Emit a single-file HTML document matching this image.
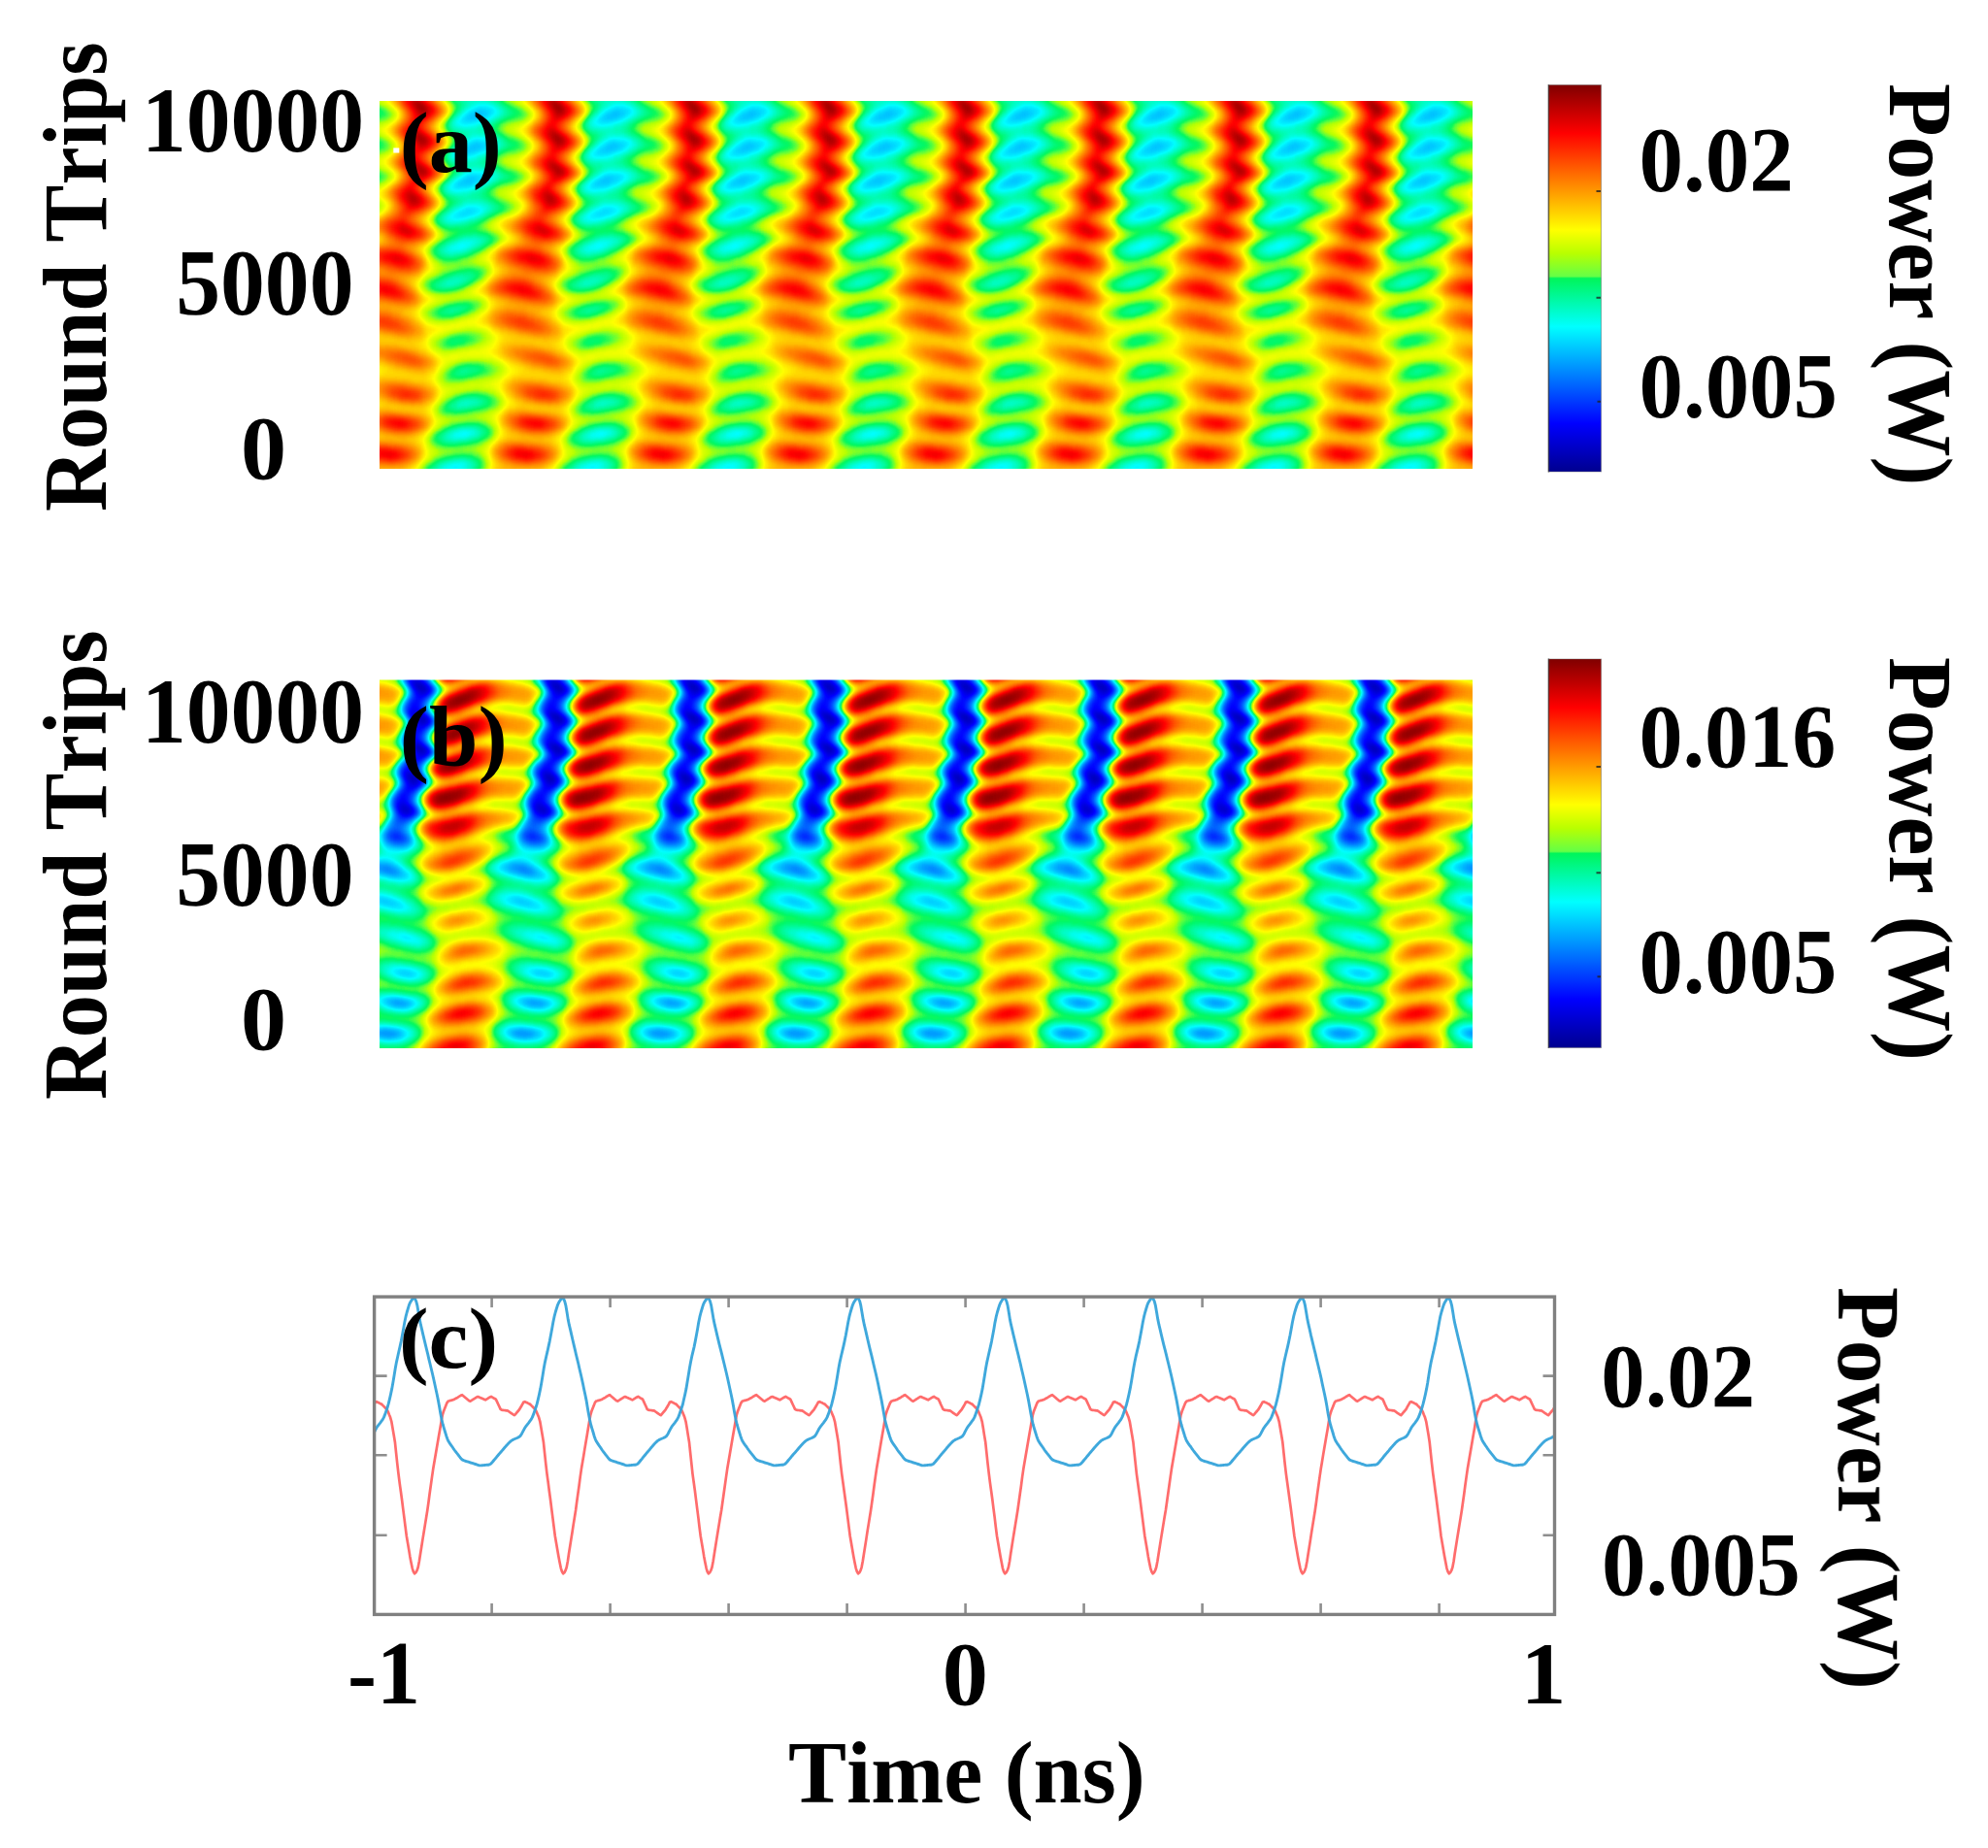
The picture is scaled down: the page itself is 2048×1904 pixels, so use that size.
<!DOCTYPE html>
<html><head><meta charset="utf-8"><title>Figure</title>
<style>html,body{margin:0;padding:0;background:#fff}svg{display:block}text{font-family:"Liberation Serif",serif;font-weight:bold;font-size:89px;font-kerning:none;fill:#000}</style>
</head><body>
<svg width="2048" height="1904" viewBox="0 0 2048 1904">
<defs>
<filter id="jet" color-interpolation-filters="sRGB" x="-2%" y="-5%" width="104%" height="110%">
<feGaussianBlur stdDeviation="2.2"/>
<feComponentTransfer><feFuncR type="table" tableValues="0 0 0 0 0 0 0 0 0 0 0 0 0 0 0 0 0 0 0 0 0 0 0 0 0 0 0 0 0 0 0 0 0 0 0 0 0 0 0 0 0.053 0.186 0.319 0.448 0.574 0.7 0.771 0.828 0.886 0.943 1 1 1 1 1 1 1 1 1 1 1 1 1 1 1 1 1 1 1 1 1 0.95 0.9 0.851 0.801 0.751 0.701 0.651 0.602 0.552 0.502"/><feFuncG type="table" tableValues="0 0 0 0 0 0 0 0 0 0 0 0.05 0.1 0.15 0.2 0.25 0.3 0.35 0.4 0.45 0.5 0.55 0.6 0.65 0.7 0.75 0.8 0.85 0.9 0.95 1 0.997 0.994 0.991 0.989 0.986 0.983 0.98 0.977 0.974 0.976 0.986 0.996 1 1 1 1 1 1 1 1 0.95 0.9 0.85 0.8 0.75 0.7 0.65 0.6 0.55 0.5 0.45 0.4 0.35 0.3 0.25 0.2 0.15 0.1 0.05 0 0 0 0 0 0 0 0 0 0 0"/><feFuncB type="table" tableValues="0.561 0.605 0.649 0.693 0.736 0.78 0.824 0.868 0.912 0.956 1 1 1 1 1 1 1 1 1 1 1 1 1 1 1 1 1 1 1 1 1 0.935 0.869 0.804 0.739 0.673 0.608 0.542 0.477 0.412 0.353 0.304 0.255 0.185 0.101 0.017 0 0 0 0 0 0 0 0 0 0 0 0 0 0 0 0 0 0 0 0 0 0 0 0 0 0 0 0 0 0 0 0 0 0 0"/></feComponentTransfer>
</filter>
<filter id="soft" x="-5%" y="-5%" width="110%" height="110%"><feGaussianBlur stdDeviation="0.55"/></filter>
<clipPath id="clipa"><rect x="391" y="104" width="1126" height="379"/></clipPath>
<clipPath id="clipb"><rect x="391" y="700.5" width="1126" height="379.5"/></clipPath>
<linearGradient id="cb" x1="0" y1="0" x2="0" y2="1"><stop offset="0.000" stop-color="rgb(128,0,0)"/><stop offset="0.125" stop-color="rgb(255,0,0)"/><stop offset="0.375" stop-color="rgb(255,255,0)"/><stop offset="0.435" stop-color="rgb(185,255,0)"/><stop offset="0.495" stop-color="rgb(100,255,70)"/><stop offset="0.500" stop-color="rgb(0,245,90)"/><stop offset="0.625" stop-color="rgb(0,255,255)"/><stop offset="0.875" stop-color="rgb(0,0,255)"/><stop offset="1.000" stop-color="rgb(0,0,143)"/></linearGradient>
<g id="ta">
<path fill="#4e4e4e" d="M112 24h4v4h-4z"/>
<path fill="#515151" d="M108 24h4v4h-4zM116 24h4v4h-4zM104 28h8v4h-8zM108 56h8v4h-8zM104 60h8v4h-8zM100 92h8v4h-8z"/>
<path fill="#535353" d="M112 20h8v4h-8zM104 24h4v4h-4zM120 24h4v4h-4zM100 28h4v4h-4zM112 28h4v4h-4zM104 56h4v4h-4zM116 56h4v4h-4zM100 60h4v4h-4zM112 60h4v4h-4zM104 88h8v4h-8zM96 92h4v4h-4zM108 92h4v4h-4zM92 96h16v4h-16z"/>
<path fill="#565656" d="M108 20h4v4h-4zM120 20h8v4h-8zM116 28h4v4h-4zM108 52h8v4h-8zM120 56h4v4h-4zM96 60h4v4h-4zM116 60h4v4h-4zM96 64h12v4h-12zM100 88h4v4h-4zM112 88h8v4h-8zM112 92h4v4h-4zM100 124h8v4h-8zM96 128h4v4h-4z"/>
<path fill="#595959" d="M100 24h4v4h-4zM124 24h4v4h-4zM96 28h4v4h-4zM96 32h12v4h-12zM116 52h8v4h-8zM100 56h4v4h-4zM92 64h4v4h-4zM108 64h4v4h-4zM92 92h4v4h-4zM116 92h4v4h-4zM88 96h4v4h-4zM108 96h4v4h-4zM92 100h4v4h-4zM96 124h4v4h-4zM108 124h4v4h-4zM92 128h4v4h-4zM100 128h4v4h-4z"/>
<path fill="#5b5b5b" d="M96 0h12v4h-12zM112 16h12v4h-12zM104 20h4v4h-4zM128 20h4v4h-4zM120 28h4v4h-4zM108 32h4v4h-4zM104 52h4v4h-4zM124 52h4v4h-4zM124 56h4v4h-4zM120 60h4v4h-4zM120 88h4v4h-4zM112 96h4v4h-4zM88 100h4v4h-4zM96 100h8v4h-8zM100 120h12v4h-12zM92 124h4v4h-4zM112 124h4v4h-4zM88 128h4v4h-4zM104 128h4v4h-4zM88 388h4v4h-4z"/>
<path fill="#5e5e5e" d="M108 0h8v4h-8zM124 16h4v4h-4zM128 24h4v4h-4zM92 32h4v4h-4zM112 32h4v4h-4zM96 56h4v4h-4zM92 60h4v4h-4zM88 64h4v4h-4zM112 64h4v4h-4zM92 68h12v4h-12zM104 84h16v4h-16zM96 88h4v4h-4zM120 92h4v4h-4zM84 100h4v4h-4zM104 100h4v4h-4zM112 120h4v4h-4zM84 128h4v4h-4zM108 128h4v4h-4zM88 132h8v4h-8zM92 160h8v4h-8zM96 352h8v4h-8zM84 388h4v4h-4zM92 388h4v4h-4z"/>
<path fill="#616161" d="M92 0h4v4h-4zM108 16h4v4h-4zM100 20h4v4h-4zM96 24h4v4h-4zM92 28h4v4h-4zM124 28h4v4h-4zM116 32h4v4h-4zM96 36h8v4h-8zM108 48h12v4h-12zM100 52h4v4h-4zM128 52h4v4h-4zM128 56h4v4h-4zM124 60h4v4h-4zM116 64h4v4h-4zM88 68h4v4h-4zM104 68h4v4h-4zM120 84h4v4h-4zM124 88h4v4h-4zM88 92h4v4h-4zM84 96h4v4h-4zM116 96h4v4h-4zM96 120h4v4h-4zM116 120h4v4h-4zM88 124h4v4h-4zM116 124h4v4h-4zM84 132h4v4h-4zM96 132h4v4h-4zM96 156h12v4h-12zM88 160h4v4h-4zM100 160h4v4h-4zM92 352h4v4h-4zM104 352h4v4h-4zM88 356h12v4h-12zM88 384h12v4h-12zM80 388h4v4h-4zM96 388h4v4h-4z"/>
<path fill="#636363" d="M116 0h4v4h-4zM100 4h4v4h-4zM128 16h4v4h-4zM132 20h4v4h-4zM132 24h4v4h-4zM88 32h4v4h-4zM92 36h4v4h-4zM104 36h8v4h-8zM120 48h4v4h-4zM108 68h4v4h-4zM100 84h4v4h-4zM124 84h4v4h-4zM124 92h4v4h-4zM108 100h4v4h-4zM88 104h8v4h-8zM112 128h4v4h-4zM80 132h4v4h-4zM100 132h4v4h-4zM92 156h4v4h-4zM84 160h4v4h-4zM84 164h12v4h-12zM88 352h4v4h-4zM100 356h4v4h-4zM84 384h4v4h-4zM76 388h4v4h-4zM84 392h4v4h-4z"/>
<path fill="#666666" d="M88 0h4v4h-4zM92 4h8v4h-8zM104 4h8v4h-8zM112 12h12v4h-12zM104 16h4v4h-4zM128 28h4v4h-4zM120 32h4v4h-4zM88 36h4v4h-4zM104 48h4v4h-4zM124 48h4v4h-4zM132 56h4v4h-4zM88 60h4v4h-4zM120 64h4v4h-4zM84 68h4v4h-4zM108 80h4v4h-4zM92 88h4v4h-4zM128 88h4v4h-4zM80 100h4v4h-4zM84 104h4v4h-4zM96 104h8v4h-8zM100 116h16v4h-16zM92 120h4v4h-4zM120 120h4v4h-4zM80 128h4v4h-4zM108 156h4v4h-4zM104 160h4v4h-4zM80 164h4v4h-4zM96 164h4v4h-4zM108 352h4v4h-4zM84 356h4v4h-4zM80 384h4v4h-4zM100 384h4v4h-4zM100 388h4v4h-4zM80 392h4v4h-4zM88 392h8v4h-8z"/>
<path fill="#696969" d="M120 0h4v4h-4zM112 4h4v4h-4zM108 12h4v4h-4zM124 12h4v4h-4zM132 16h4v4h-4zM136 20h4v4h-4zM88 28h4v4h-4zM112 36h4v4h-4zM108 44h4v4h-4zM96 52h4v4h-4zM132 52h4v4h-4zM92 56h4v4h-4zM128 60h4v4h-4zM84 64h4v4h-4zM112 68h4v4h-4zM92 72h16v4h-16zM104 80h4v4h-4zM112 80h8v4h-8zM96 84h4v4h-4zM128 84h4v4h-4zM80 96h4v4h-4zM120 96h4v4h-4zM112 100h4v4h-4zM116 116h4v4h-4zM84 124h4v4h-4zM120 124h4v4h-4zM104 132h4v4h-4zM84 136h8v4h-8zM100 152h12v4h-12zM88 156h4v4h-4zM112 156h4v4h-4zM80 160h4v4h-4zM100 320h4v4h-4zM96 348h12v4h-12zM84 352h4v4h-4zM80 356h4v4h-4zM104 356h4v4h-4zM72 388h4v4h-4zM76 392h4v4h-4z"/>
<path fill="#6b6b6b" d="M124 0h4v4h-4zM88 4h4v4h-4zM116 4h4v4h-4zM100 8h20v4h-20zM104 12h4v4h-4zM100 16h4v4h-4zM96 20h4v4h-4zM92 24h4v4h-4zM136 24h4v4h-4zM124 32h4v4h-4zM116 36h4v4h-4zM96 40h16v4h-16zM104 44h4v4h-4zM112 44h12v4h-12zM100 48h4v4h-4zM128 48h4v4h-4zM124 64h4v4h-4zM116 68h4v4h-4zM88 72h4v4h-4zM108 72h4v4h-4zM100 80h4v4h-4zM120 80h4v4h-4zM132 88h4v4h-4zM84 92h4v4h-4zM128 92h4v4h-4zM80 104h4v4h-4zM104 104h4v4h-4zM96 116h4v4h-4zM120 116h4v4h-4zM88 120h4v4h-4zM124 120h4v4h-4zM116 128h4v4h-4zM76 132h4v4h-4zM108 132h4v4h-4zM80 136h4v4h-4zM92 136h4v4h-4zM96 152h4v4h-4zM112 152h4v4h-4zM108 160h4v4h-4zM76 164h4v4h-4zM100 164h4v4h-4zM84 168h4v4h-4zM80 196h16v4h-16zM80 200h8v4h-8zM96 320h4v4h-4zM104 320h8v4h-8zM92 324h12v4h-12zM92 348h4v4h-4zM108 348h4v4h-4zM112 352h4v4h-4zM108 356h4v4h-4zM88 360h4v4h-4zM92 380h8v4h-8zM76 384h4v4h-4zM104 384h4v4h-4zM104 388h4v4h-4zM72 392h4v4h-4zM96 392h4v4h-4z"/>
<path fill="#6e6e6e" d="M120 4h4v4h-4zM96 8h4v4h-4zM120 8h4v4h-4zM100 12h4v4h-4zM128 12h4v4h-4zM132 28h4v4h-4zM84 32h4v4h-4zM84 36h4v4h-4zM120 36h4v4h-4zM88 40h8v4h-8zM112 40h8v4h-8zM100 44h4v4h-4zM136 52h4v4h-4zM136 56h4v4h-4zM132 60h4v4h-4zM84 72h4v4h-4zM112 72h4v4h-4zM100 76h16v4h-16zM124 80h4v4h-4zM132 84h4v4h-4zM88 88h4v4h-4zM116 100h4v4h-4zM108 104h4v4h-4zM92 108h12v4h-12zM100 112h16v4h-16zM124 124h4v4h-4zM76 128h4v4h-4zM96 136h4v4h-4zM116 152h4v4h-4zM84 156h4v4h-4zM116 156h4v4h-4zM80 168h4v4h-4zM88 168h4v4h-4zM88 192h12v4h-12zM96 196h4v4h-4zM76 200h4v4h-4zM88 200h4v4h-4zM92 320h4v4h-4zM112 320h4v4h-4zM104 324h4v4h-4zM80 352h4v4h-4zM80 360h8v4h-8zM92 360h8v4h-8zM88 380h4v4h-4zM100 380h4v4h-4zM100 392h4v4h-4z"/>
<path fill="#717171" d="M124 4h4v4h-4zM92 8h4v4h-4zM124 8h4v4h-4zM136 16h4v4h-4zM0 20h4v4h-4zM0 24h4v4h-4zM120 40h4v4h-4zM96 44h4v4h-4zM124 44h4v4h-4zM96 48h4v4h-4zM132 48h4v4h-4zM80 68h4v4h-4zM120 68h4v4h-4zM116 72h4v4h-4zM92 76h8v4h-8zM116 76h4v4h-4zM96 80h4v4h-4zM92 84h4v4h-4zM136 88h4v4h-4zM132 92h4v4h-4zM124 96h4v4h-4zM76 100h4v4h-4zM112 104h4v4h-4zM88 108h4v4h-4zM104 108h4v4h-4zM96 112h4v4h-4zM116 112h4v4h-4zM92 116h4v4h-4zM124 116h4v4h-4zM128 120h4v4h-4zM80 124h4v4h-4zM76 136h4v4h-4zM100 136h4v4h-4zM92 152h4v4h-4zM76 160h4v4h-4zM112 160h4v4h-4zM104 164h4v4h-4zM76 168h4v4h-4zM92 168h4v4h-4zM84 192h4v4h-4zM100 192h4v4h-4zM76 196h4v4h-4zM72 200h4v4h-4zM88 324h4v4h-4zM108 324h4v4h-4zM88 348h4v4h-4zM112 348h4v4h-4zM76 356h4v4h-4zM112 356h4v4h-4zM100 360h4v4h-4zM84 380h4v4h-4zM72 384h4v4h-4zM108 384h4v4h-4zM68 388h4v4h-4zM68 392h4v4h-4z"/>
<path fill="#737373" d="M84 0h4v4h-4zM128 0h4v4h-4zM84 4h4v4h-4zM88 8h4v4h-4zM96 12h4v4h-4zM132 12h4v4h-4zM96 16h4v4h-4zM136 28h4v4h-4zM128 32h4v4h-4zM124 36h4v4h-4zM92 52h4v4h-4zM0 56h4v4h-4zM88 56h4v4h-4zM84 60h4v4h-4zM128 64h4v4h-4zM88 76h4v4h-4zM120 76h4v4h-4zM92 80h4v4h-4zM128 80h4v4h-4zM84 108h4v4h-4zM108 108h8v4h-8zM92 112h4v4h-4zM84 120h4v4h-4zM120 128h4v4h-4zM72 132h4v4h-4zM112 132h4v4h-4zM108 148h4v4h-4zM120 152h4v4h-4zM80 156h4v4h-4zM72 164h4v4h-4zM96 168h4v4h-4zM104 192h4v4h-4zM100 196h4v4h-4zM92 200h4v4h-4zM84 224h12v4h-12zM84 228h4v4h-4zM96 288h8v4h-8zM100 316h12v4h-12zM116 320h4v4h-4zM84 324h4v4h-4zM112 324h4v4h-4zM92 328h4v4h-4zM116 352h4v4h-4zM76 360h4v4h-4zM104 380h4v4h-4zM108 388h4v4h-4zM76 396h12v4h-12z"/>
<path fill="#767676" d="M128 8h4v4h-4zM0 16h4v4h-4zM4 20h4v4h-4zM92 20h4v4h-4zM4 24h4v4h-4zM88 24h4v4h-4zM84 40h4v4h-4zM124 40h4v4h-4zM92 44h4v4h-4zM128 44h4v4h-4zM136 48h4v4h-4zM0 52h4v4h-4zM136 60h4v4h-4zM80 64h4v4h-4zM120 72h4v4h-4zM136 84h4v4h-4zM0 88h4v4h-4zM76 96h4v4h-4zM128 96h4v4h-4zM120 100h4v4h-4zM76 104h4v4h-4zM116 104h4v4h-4zM116 108h4v4h-4zM88 112h4v4h-4zM120 112h4v4h-4zM88 116h4v4h-4zM128 116h4v4h-4zM132 120h4v4h-4zM128 124h4v4h-4zM104 136h4v4h-4zM84 140h4v4h-4zM100 148h8v4h-8zM112 148h4v4h-4zM88 152h4v4h-4zM120 156h4v4h-4zM72 160h4v4h-4zM72 168h4v4h-4zM92 188h16v4h-16zM80 192h4v4h-4zM72 196h4v4h-4zM68 200h4v4h-4zM76 204h4v4h-4zM80 224h4v4h-4zM96 224h4v4h-4zM76 228h8v4h-8zM88 228h4v4h-4zM92 288h4v4h-4zM104 288h8v4h-8zM92 292h8v4h-8zM96 316h4v4h-4zM112 316h4v4h-4zM88 320h4v4h-4zM88 328h4v4h-4zM96 328h4v4h-4zM84 348h4v4h-4zM116 348h4v4h-4zM76 352h4v4h-4zM72 356h4v4h-4zM104 360h4v4h-4zM80 380h4v4h-4zM64 388h4v4h-4zM64 392h4v4h-4zM104 392h4v4h-4zM72 396h4v4h-4zM88 396h8v4h-8z"/>
<path fill="#797979" d="M132 0h4v4h-4zM128 4h4v4h-4zM92 12h4v4h-4zM92 16h4v4h-4zM84 28h4v4h-4zM132 32h4v4h-4zM80 36h4v4h-4zM88 44h4v4h-4zM92 48h4v4h-4zM4 56h4v4h-4zM132 64h4v4h-4zM124 68h4v4h-4zM80 72h4v4h-4zM84 76h4v4h-4zM124 76h4v4h-4zM132 80h4v4h-4zM88 84h4v4h-4zM4 88h4v4h-4zM80 92h4v4h-4zM136 92h4v4h-4zM80 108h4v4h-4zM124 112h4v4h-4zM72 128h4v4h-4zM116 132h4v4h-4zM72 136h4v4h-4zM108 136h4v4h-4zM80 140h4v4h-4zM88 140h12v4h-12zM96 148h4v4h-4zM116 148h4v4h-4zM124 152h4v4h-4zM116 160h4v4h-4zM108 164h4v4h-4zM100 168h4v4h-4zM80 172h8v4h-8zM88 188h4v4h-4zM108 188h4v4h-4zM108 192h4v4h-4zM96 200h4v4h-4zM72 204h4v4h-4zM80 204h4v4h-4zM100 224h4v4h-4zM92 228h4v4h-4zM92 256h4v4h-4zM100 284h8v4h-8zM112 288h4v4h-4zM88 292h4v4h-4zM100 292h4v4h-4zM116 316h4v4h-4zM120 320h4v4h-4zM116 324h4v4h-4zM84 328h4v4h-4zM100 328h4v4h-4zM100 344h12v4h-12zM120 352h4v4h-4zM116 356h4v4h-4zM72 360h4v4h-4zM108 360h4v4h-4zM76 380h4v4h-4zM108 380h4v4h-4zM68 384h4v4h-4zM112 384h4v4h-4zM68 396h4v4h-4z"/>
<path fill="#7b7b7b" d="M84 8h4v4h-4zM132 8h4v4h-4zM136 12h4v4h-4zM8 20h4v4h-4zM8 24h4v4h-4zM0 28h4v4h-4zM128 36h4v4h-4zM128 40h4v4h-4zM132 44h4v4h-4zM4 52h4v4h-4zM8 56h4v4h-4zM0 60h4v4h-4zM124 72h4v4h-4zM88 80h4v4h-4zM0 84h4v4h-4zM84 88h4v4h-4zM0 92h4v4h-4zM124 100h4v4h-4zM120 104h4v4h-4zM120 108h4v4h-4zM84 112h4v4h-4zM132 116h4v4h-4zM136 120h4v4h-4zM76 124h4v4h-4zM132 124h4v4h-4zM124 128h4v4h-4zM100 140h4v4h-4zM92 148h4v4h-4zM120 148h4v4h-4zM84 152h4v4h-4zM76 156h4v4h-4zM68 164h4v4h-4zM76 172h4v4h-4zM88 172h4v4h-4zM76 192h4v4h-4zM68 196h4v4h-4zM104 196h4v4h-4zM64 200h4v4h-4zM68 204h4v4h-4zM84 204h4v4h-4zM92 220h12v4h-12zM76 224h4v4h-4zM72 228h4v4h-4zM84 256h8v4h-8zM96 256h4v4h-4zM84 260h8v4h-8zM96 284h4v4h-4zM108 284h8v4h-8zM88 288h4v4h-4zM104 292h4v4h-4zM92 316h4v4h-4zM120 316h4v4h-4zM84 320h4v4h-4zM80 324h4v4h-4zM120 324h4v4h-4zM80 328h4v4h-4zM104 328h4v4h-4zM96 344h4v4h-4zM112 344h4v4h-4zM80 348h4v4h-4zM120 348h4v4h-4zM80 364h12v4h-12zM96 376h4v4h-4zM112 388h4v4h-4zM108 392h4v4h-4zM96 396h4v4h-4z"/>
<path fill="#7e7e7e" d="M132 4h4v4h-4zM88 12h4v4h-4zM4 16h4v4h-4zM12 20h4v4h-4zM12 24h4v4h-4zM4 28h4v4h-4zM80 32h4v4h-4zM0 48h4v4h-4zM88 48h4v4h-4zM8 52h4v4h-4zM88 52h4v4h-4zM12 56h4v4h-4zM4 60h4v4h-4zM128 68h4v4h-4zM128 76h4v4h-4zM136 80h4v4h-4zM4 84h4v4h-4zM8 88h4v4h-4zM4 92h4v4h-4zM132 96h4v4h-4zM128 112h4v4h-4zM84 116h4v4h-4zM80 120h4v4h-4zM68 132h4v4h-4zM112 136h4v4h-4zM76 140h4v4h-4zM104 140h4v4h-4zM92 144h20v4h-20zM124 156h4v4h-4zM112 164h4v4h-4zM68 168h4v4h-4zM104 168h4v4h-4zM92 172h4v4h-4zM100 184h8v4h-8zM84 188h4v4h-4zM112 188h4v4h-4zM88 204h4v4h-4zM88 220h4v4h-4zM104 220h4v4h-4zM104 224h4v4h-4zM96 228h4v4h-4zM76 232h12v4h-12zM100 256h4v4h-4zM80 260h4v4h-4zM92 260h8v4h-8zM92 284h4v4h-4zM116 284h4v4h-4zM116 288h4v4h-4zM84 292h4v4h-4zM108 292h4v4h-4zM124 320h4v4h-4zM108 328h4v4h-4zM92 344h4v4h-4zM72 352h4v4h-4zM68 356h4v4h-4zM120 356h4v4h-4zM68 360h4v4h-4zM112 360h4v4h-4zM76 364h4v4h-4zM92 364h4v4h-4zM88 376h8v4h-8zM100 376h8v4h-8zM72 380h4v4h-4zM112 380h4v4h-4zM60 388h4v4h-4zM60 392h4v4h-4zM64 396h4v4h-4zM100 396h4v4h-4z"/>
<path fill="#818181" d="M136 0h4v4h-4zM80 4h4v4h-4zM88 20h4v4h-4zM16 24h4v4h-4zM8 28h4v4h-4zM136 32h4v4h-4zM132 36h4v4h-4zM80 40h4v4h-4zM84 44h4v4h-4zM136 44h4v4h-4zM12 52h4v4h-4zM8 60h4v4h-4zM136 64h4v4h-4zM128 72h4v4h-4zM8 84h4v4h-4zM12 88h4v4h-4zM8 92h4v4h-4zM72 100h4v4h-4zM76 108h4v4h-4zM124 108h4v4h-4zM80 112h4v4h-4zM136 116h4v4h-4zM0 120h4v4h-4zM136 124h4v4h-4zM128 128h4v4h-4zM120 132h4v4h-4zM108 140h4v4h-4zM84 144h8v4h-8zM112 144h4v4h-4zM88 148h4v4h-4zM124 148h4v4h-4zM80 152h4v4h-4zM128 152h4v4h-4zM68 160h4v4h-4zM120 160h4v4h-4zM72 172h4v4h-4zM96 184h4v4h-4zM108 184h8v4h-8zM80 188h4v4h-4zM72 192h4v4h-4zM112 192h4v4h-4zM64 196h4v4h-4zM100 200h4v4h-4zM64 204h4v4h-4zM84 220h4v4h-4zM72 224h4v4h-4zM68 228h4v4h-4zM72 232h4v4h-4zM92 252h12v4h-12zM80 256h4v4h-4zM104 256h4v4h-4zM84 288h4v4h-4zM120 288h4v4h-4zM112 292h4v4h-4zM84 296h16v4h-16zM104 312h12v4h-12zM88 316h4v4h-4zM124 316h4v4h-4zM124 324h4v4h-4zM76 328h4v4h-4zM112 328h4v4h-4zM88 332h4v4h-4zM88 344h4v4h-4zM116 344h4v4h-4zM124 352h4v4h-4zM72 364h4v4h-4zM96 364h8v4h-8zM84 376h4v4h-4zM64 384h4v4h-4zM104 396h4v4h-4z"/>
<path fill="#848484" d="M80 0h4v4h-4zM136 8h4v4h-4zM0 12h4v4h-4zM8 16h4v4h-4zM88 16h4v4h-4zM16 20h4v4h-4zM12 28h4v4h-4zM132 40h4v4h-4zM4 48h4v4h-4zM16 56h4v4h-4zM84 56h4v4h-4zM12 60h4v4h-4zM76 68h4v4h-4zM132 68h4v4h-4zM80 76h4v4h-4zM132 76h4v4h-4zM84 80h4v4h-4zM136 96h4v4h-4zM128 100h4v4h-4zM124 104h4v4h-4zM132 112h4v4h-4zM0 116h4v4h-4zM80 116h4v4h-4zM68 136h4v4h-4zM112 140h4v4h-4zM116 144h4v4h-4zM84 148h4v4h-4zM72 156h4v4h-4zM128 156h4v4h-4zM64 164h4v4h-4zM96 172h4v4h-4zM92 184h4v4h-4zM116 188h4v4h-4zM108 196h4v4h-4zM60 200h4v4h-4zM92 204h4v4h-4zM80 220h4v4h-4zM108 220h4v4h-4zM108 224h4v4h-4zM100 228h4v4h-4zM68 232h4v4h-4zM88 232h4v4h-4zM88 252h4v4h-4zM104 252h4v4h-4zM108 256h4v4h-4zM76 260h4v4h-4zM100 260h4v4h-4zM80 264h8v4h-8zM88 284h4v4h-4zM120 284h4v4h-4zM80 292h4v4h-4zM116 292h4v4h-4zM100 296h4v4h-4zM100 312h4v4h-4zM116 312h4v4h-4zM80 320h4v4h-4zM128 320h4v4h-4zM76 324h4v4h-4zM116 328h4v4h-4zM80 332h8v4h-8zM92 332h8v4h-8zM76 348h4v4h-4zM124 348h4v4h-4zM116 360h4v4h-4zM104 364h4v4h-4zM80 376h4v4h-4zM108 376h4v4h-4zM68 380h4v4h-4zM116 384h4v4h-4zM116 388h4v4h-4zM112 392h4v4h-4zM60 396h4v4h-4zM72 400h20v4h-20z"/>
<path fill="#868686" d="M0 0h4v4h-4zM136 4h4v4h-4zM20 24h4v4h-4zM16 28h4v4h-4zM0 32h4v4h-4zM8 48h4v4h-4zM16 52h4v4h-4zM16 60h4v4h-4zM80 60h4v4h-4zM0 64h4v4h-4zM0 80h4v4h-4zM12 84h4v4h-4zM84 84h4v4h-4zM16 88h4v4h-4zM12 92h4v4h-4zM0 96h4v4h-4zM72 104h4v4h-4zM128 108h4v4h-4zM4 120h4v4h-4zM0 124h4v4h-4zM72 124h4v4h-4zM68 128h4v4h-4zM116 136h4v4h-4zM72 140h4v4h-4zM80 144h4v4h-4zM120 144h4v4h-4zM128 148h4v4h-4zM132 152h4v4h-4zM116 164h4v4h-4zM64 168h4v4h-4zM108 168h4v4h-4zM68 172h4v4h-4zM100 172h4v4h-4zM76 176h16v4h-16zM88 184h4v4h-4zM116 184h4v4h-4zM76 188h4v4h-4zM68 192h4v4h-4zM60 196h4v4h-4zM100 216h4v4h-4zM112 220h4v4h-4zM68 224h4v4h-4zM64 228h4v4h-4zM92 232h4v4h-4zM84 252h4v4h-4zM108 252h4v4h-4zM76 256h4v4h-4zM104 260h4v4h-4zM76 264h4v4h-4zM88 264h4v4h-4zM100 280h16v4h-16zM124 284h4v4h-4zM124 288h4v4h-4zM120 292h4v4h-4zM80 296h4v4h-4zM104 296h4v4h-4zM96 312h4v4h-4zM120 312h4v4h-4zM128 316h4v4h-4zM128 324h4v4h-4zM120 328h4v4h-4zM76 332h4v4h-4zM100 332h4v4h-4zM84 344h4v4h-4zM120 344h4v4h-4zM68 352h4v4h-4zM124 356h4v4h-4zM64 360h4v4h-4zM68 364h4v4h-4zM108 364h4v4h-4zM76 376h4v4h-4zM112 376h4v4h-4zM116 380h4v4h-4zM56 392h4v4h-4zM108 396h4v4h-4zM68 400h4v4h-4zM92 400h8v4h-8z"/>
<path fill="#898989" d="M80 8h4v4h-4zM4 12h4v4h-4zM84 12h4v4h-4zM12 16h4v4h-4zM84 24h4v4h-4zM4 32h4v4h-4zM136 36h4v4h-4zM136 40h4v4h-4zM0 44h4v4h-4zM20 56h4v4h-4zM4 64h8v4h-8zM76 72h4v4h-4zM132 72h4v4h-4zM136 76h4v4h-4zM4 80h4v4h-4zM4 96h4v4h-4zM128 104h4v4h-4zM136 112h4v4h-4zM4 116h4v4h-4zM76 120h4v4h-4zM132 128h4v4h-4zM124 132h4v4h-4zM116 140h4v4h-4zM76 144h4v4h-4zM80 148h4v4h-4zM76 152h4v4h-4zM64 160h4v4h-4zM124 160h4v4h-4zM92 176h4v4h-4zM92 180h20v4h-20zM84 184h4v4h-4zM116 192h4v4h-4zM104 200h4v4h-4zM60 204h4v4h-4zM96 204h4v4h-4zM72 208h12v4h-12zM92 216h8v4h-8zM104 216h8v4h-8zM76 220h4v4h-4zM104 228h4v4h-4zM64 232h4v4h-4zM112 252h4v4h-4zM112 256h4v4h-4zM72 260h4v4h-4zM108 260h4v4h-4zM92 264h4v4h-4zM96 280h4v4h-4zM116 280h4v4h-4zM80 288h4v4h-4zM128 288h4v4h-4zM124 292h4v4h-4zM108 296h4v4h-4zM84 316h4v4h-4zM132 320h4v4h-4zM72 328h4v4h-4zM104 332h4v4h-4zM100 340h16v4h-16zM64 356h4v4h-4zM120 360h4v4h-4zM112 364h4v4h-4zM76 368h24v4h-24zM88 372h20v4h-20zM60 384h4v4h-4zM56 388h4v4h-4zM64 400h4v4h-4zM100 400h4v4h-4z"/>
<path fill="#8c8c8c" d="M4 0h8v4h-8zM0 8h4v4h-4zM20 20h4v4h-4zM20 28h4v4h-4zM8 32h4v4h-4zM76 36h4v4h-4zM12 48h4v4h-4zM84 48h4v4h-4zM84 52h4v4h-4zM20 60h4v4h-4zM12 64h4v4h-4zM76 64h4v4h-4zM136 68h4v4h-4zM8 80h4v4h-4zM16 84h4v4h-4zM80 88h4v4h-4zM16 92h4v4h-4zM76 92h4v4h-4zM8 96h4v4h-4zM72 96h4v4h-4zM132 100h4v4h-4zM0 112h4v4h-4zM8 120h4v4h-4zM4 124h4v4h-4zM120 136h4v4h-4zM124 144h4v4h-4zM132 148h4v4h-4zM112 168h4v4h-4zM104 172h4v4h-4zM72 176h4v4h-4zM96 176h8v4h-8zM80 180h12v4h-12zM112 180h4v4h-4zM80 184h4v4h-4zM120 184h4v4h-4zM72 188h4v4h-4zM120 188h4v4h-4zM64 192h4v4h-4zM112 196h4v4h-4zM56 200h4v4h-4zM68 208h4v4h-4zM84 208h4v4h-4zM88 216h4v4h-4zM112 216h4v4h-4zM64 224h4v4h-4zM112 224h4v4h-4zM60 228h4v4h-4zM96 232h4v4h-4zM72 236h8v4h-8zM96 248h12v4h-12zM80 252h4v4h-4zM116 252h4v4h-4zM72 256h4v4h-4zM116 256h4v4h-4zM72 264h4v4h-4zM96 264h4v4h-4zM92 280h4v4h-4zM120 280h4v4h-4zM84 284h4v4h-4zM128 284h4v4h-4zM76 292h4v4h-4zM76 296h4v4h-4zM112 296h4v4h-4zM80 300h16v4h-16zM92 312h4v4h-4zM124 312h4v4h-4zM76 320h4v4h-4zM72 324h4v4h-4zM132 324h4v4h-4zM124 328h4v4h-4zM72 332h4v4h-4zM108 332h8v4h-8zM92 340h8v4h-8zM116 340h4v4h-4zM80 344h4v4h-4zM124 344h4v4h-4zM72 348h4v4h-4zM128 348h4v4h-4zM128 352h4v4h-4zM64 364h4v4h-4zM72 368h4v4h-4zM100 368h8v4h-8zM80 372h8v4h-8zM108 372h4v4h-4zM72 376h4v4h-4zM64 380h4v4h-4zM120 384h4v4h-4zM116 392h4v4h-4zM56 396h4v4h-4zM60 400h4v4h-4zM104 400h4v4h-4z"/>
<path fill="#8e8e8e" d="M12 0h4v4h-4zM0 4h4v4h-4zM8 12h4v4h-4zM16 16h4v4h-4zM24 24h4v4h-4zM80 28h4v4h-4zM12 32h4v4h-4zM0 36h4v4h-4zM4 44h4v4h-4zM80 44h4v4h-4zM20 52h4v4h-4zM0 68h4v4h-4zM136 72h4v4h-4zM0 76h4v4h-4zM20 88h4v4h-4zM136 100h4v4h-4zM132 108h4v4h-4zM76 112h4v4h-4zM8 116h4v4h-4zM136 128h4v4h-4zM128 132h4v4h-4zM120 140h4v4h-4zM76 148h4v4h-4zM68 156h4v4h-4zM132 156h4v4h-4zM120 164h4v4h-4zM108 172h4v4h-4zM104 176h4v4h-4zM76 180h4v4h-4zM116 180h4v4h-4zM76 184h4v4h-4zM56 196h4v4h-4zM64 208h4v4h-4zM88 208h4v4h-4zM84 216h4v4h-4zM72 220h4v4h-4zM116 220h4v4h-4zM108 228h4v4h-4zM60 232h4v4h-4zM100 232h4v4h-4zM68 236h4v4h-4zM80 236h8v4h-8zM92 248h4v4h-4zM108 248h8v4h-8zM68 260h4v4h-4zM112 260h4v4h-4zM100 264h4v4h-4zM124 280h4v4h-4zM132 284h4v4h-4zM132 288h4v4h-4zM128 292h4v4h-4zM116 296h4v4h-4zM96 300h4v4h-4zM108 308h8v4h-8zM88 312h4v4h-4zM128 312h4v4h-4zM80 316h4v4h-4zM132 316h4v4h-4zM128 328h4v4h-4zM116 332h4v4h-4zM80 336h32v4h-32zM84 340h8v4h-8zM120 340h4v4h-4zM76 344h4v4h-4zM116 364h4v4h-4zM68 368h4v4h-4zM108 368h4v4h-4zM72 372h8v4h-8zM112 372h4v4h-4zM68 376h4v4h-4zM116 376h4v4h-4zM120 388h4v4h-4zM112 396h4v4h-4z"/>
<path fill="#919191" d="M16 0h4v4h-4zM4 4h4v4h-4zM4 8h4v4h-4zM84 16h4v4h-4zM16 32h4v4h-4zM4 36h4v4h-4zM0 40h4v4h-4zM8 44h4v4h-4zM16 48h4v4h-4zM24 56h4v4h-4zM16 64h4v4h-4zM4 68h4v4h-4zM4 76h4v4h-4zM12 80h4v4h-4zM80 80h4v4h-4zM20 84h4v4h-4zM12 96h4v4h-4zM0 100h4v4h-4zM132 104h4v4h-4zM136 108h4v4h-4zM4 112h4v4h-4zM76 116h4v4h-4zM64 132h4v4h-4zM124 136h4v4h-4zM68 140h4v4h-4zM72 144h4v4h-4zM128 144h4v4h-4zM72 152h4v4h-4zM136 152h4v4h-4zM128 160h4v4h-4zM60 164h4v4h-4zM64 172h4v4h-4zM68 176h4v4h-4zM108 176h4v4h-4zM72 180h4v4h-4zM120 180h4v4h-4zM72 184h4v4h-4zM68 188h4v4h-4zM60 192h4v4h-4zM108 200h4v4h-4zM56 204h4v4h-4zM100 204h4v4h-4zM92 208h4v4h-4zM80 216h4v4h-4zM116 216h4v4h-4zM68 220h4v4h-4zM60 224h4v4h-4zM116 224h4v4h-4zM56 228h4v4h-4zM64 236h4v4h-4zM88 236h4v4h-4zM88 248h4v4h-4zM116 248h4v4h-4zM76 252h4v4h-4zM120 252h4v4h-4zM68 256h4v4h-4zM120 256h4v4h-4zM116 260h4v4h-4zM68 264h4v4h-4zM104 264h4v4h-4zM76 268h12v4h-12zM88 280h4v4h-4zM128 280h4v4h-4zM80 284h4v4h-4zM76 288h4v4h-4zM136 288h4v4h-4zM132 292h4v4h-4zM72 296h4v4h-4zM120 296h8v4h-8zM76 300h4v4h-4zM100 300h4v4h-4zM100 308h8v4h-8zM116 308h8v4h-8zM136 320h4v4h-4zM68 328h4v4h-4zM120 332h4v4h-4zM76 336h4v4h-4zM112 336h8v4h-8zM80 340h4v4h-4zM64 352h4v4h-4zM128 356h4v4h-4zM60 360h4v4h-4zM124 360h4v4h-4zM112 368h4v4h-4zM120 380h4v4h-4zM56 384h4v4h-4zM52 392h4v4h-4zM56 400h4v4h-4zM108 400h4v4h-4z"/>
<path fill="#949494" d="M8 4h4v4h-4zM76 4h4v4h-4zM12 12h4v4h-4zM24 20h4v4h-4zM84 20h4v4h-4zM24 28h4v4h-4zM76 32h4v4h-4zM8 36h4v4h-4zM4 40h4v4h-4zM76 40h4v4h-4zM8 68h4v4h-4zM0 72h4v4h-4zM20 92h4v4h-4zM4 100h4v4h-4zM68 100h4v4h-4zM136 104h4v4h-4zM0 108h4v4h-4zM72 108h4v4h-4zM12 116h4v4h-4zM12 120h4v4h-4zM8 124h4v4h-4zM0 128h4v4h-4zM124 140h4v4h-4zM136 148h4v4h-4zM60 168h4v4h-4zM116 168h4v4h-4zM112 172h4v4h-4zM112 176h4v4h-4zM124 184h4v4h-4zM120 192h4v4h-4zM116 196h4v4h-4zM60 208h4v4h-4zM96 208h4v4h-4zM76 212h32v4h-32zM76 216h4v4h-4zM112 228h4v4h-4zM56 232h4v4h-4zM104 232h4v4h-4zM84 248h4v4h-4zM64 260h4v4h-4zM108 264h4v4h-4zM72 268h4v4h-4zM88 268h4v4h-4zM104 276h16v4h-16zM132 280h4v4h-4zM136 284h4v4h-4zM72 292h4v4h-4zM128 296h4v4h-4zM104 300h12v4h-12zM80 304h12v4h-12zM92 308h8v4h-8zM124 308h4v4h-4zM84 312h4v4h-4zM136 316h4v4h-4zM72 320h4v4h-4zM136 324h4v4h-4zM132 328h4v4h-4zM68 332h4v4h-4zM124 332h4v4h-4zM72 336h4v4h-4zM120 336h4v4h-4zM76 340h4v4h-4zM124 340h4v4h-4zM72 344h4v4h-4zM128 344h4v4h-4zM68 348h4v4h-4zM60 356h4v4h-4zM60 364h4v4h-4zM120 364h4v4h-4zM64 368h4v4h-4zM116 368h4v4h-4zM68 372h4v4h-4zM116 372h4v4h-4zM64 376h4v4h-4zM60 380h4v4h-4zM52 388h4v4h-4zM52 396h4v4h-4z"/>
<path fill="#969696" d="M20 0h4v4h-4zM76 0h4v4h-4zM12 4h4v4h-4zM8 8h4v4h-4zM80 12h4v4h-4zM20 16h4v4h-4zM20 32h4v4h-4zM12 36h4v4h-4zM8 40h4v4h-4zM12 44h4v4h-4zM24 52h4v4h-4zM24 60h4v4h-4zM20 64h4v4h-4zM12 68h4v4h-4zM72 68h4v4h-4zM4 72h4v4h-4zM8 76h4v4h-4zM76 76h4v4h-4zM16 80h4v4h-4zM80 84h4v4h-4zM24 88h4v4h-4zM16 96h4v4h-4zM8 100h4v4h-4zM0 104h4v4h-4zM8 112h4v4h-4zM132 132h4v4h-4zM64 136h4v4h-4zM132 144h4v4h-4zM116 176h4v4h-4zM68 180h4v4h-4zM68 184h4v4h-4zM64 188h4v4h-4zM124 188h4v4h-4zM52 200h4v4h-4zM104 204h4v4h-4zM100 208h4v4h-4zM68 212h8v4h-8zM108 212h8v4h-8zM72 216h4v4h-4zM64 220h4v4h-4zM120 220h4v4h-4zM56 224h4v4h-4zM60 236h4v4h-4zM92 236h4v4h-4zM100 244h12v4h-12zM120 248h4v4h-4zM72 252h4v4h-4zM124 252h4v4h-4zM64 256h4v4h-4zM124 256h4v4h-4zM120 260h4v4h-4zM64 264h4v4h-4zM112 264h4v4h-4zM92 268h4v4h-4zM96 276h8v4h-8zM120 276h8v4h-8zM84 280h4v4h-4zM136 292h4v4h-4zM72 300h4v4h-4zM116 300h8v4h-8zM76 304h4v4h-4zM92 304h28v4h-28zM84 308h8v4h-8zM128 308h4v4h-4zM80 312h4v4h-4zM132 312h4v4h-4zM76 316h4v4h-4zM68 324h4v4h-4zM124 336h4v4h-4zM64 372h4v4h-4zM120 376h4v4h-4zM120 392h4v4h-4zM116 396h4v4h-4zM112 400h4v4h-4z"/>
<path fill="#999999" d="M12 8h4v4h-4zM76 8h4v4h-4zM16 12h4v4h-4zM28 24h4v4h-4zM20 48h4v4h-4zM80 56h4v4h-4zM8 72h4v4h-4zM12 76h4v4h-4zM4 104h4v4h-4zM68 104h4v4h-4zM4 108h4v4h-4zM72 120h4v4h-4zM12 124h4v4h-4zM68 124h4v4h-4zM4 128h4v4h-4zM64 128h4v4h-4zM128 136h4v4h-4zM128 140h4v4h-4zM72 148h4v4h-4zM0 152h4v4h-4zM64 156h4v4h-4zM136 156h4v4h-4zM60 160h4v4h-4zM124 164h4v4h-4zM120 168h4v4h-4zM116 172h4v4h-4zM64 176h4v4h-4zM120 176h4v4h-4zM124 180h4v4h-4zM56 192h4v4h-4zM112 200h4v4h-4zM104 208h4v4h-4zM68 216h4v4h-4zM120 216h4v4h-4zM120 224h4v4h-4zM108 232h4v4h-4zM96 236h4v4h-4zM68 240h16v4h-16zM96 244h4v4h-4zM112 244h4v4h-4zM80 248h4v4h-4zM68 252h4v4h-4zM124 260h4v4h-4zM116 264h4v4h-4zM68 268h4v4h-4zM96 268h8v4h-8zM76 272h8v4h-8zM92 276h4v4h-4zM128 276h4v4h-4zM80 280h4v4h-4zM136 280h4v4h-4zM0 284h4v4h-4zM76 284h4v4h-4zM0 288h4v4h-4zM72 288h4v4h-4zM132 296h4v4h-4zM124 300h4v4h-4zM120 304h8v4h-8zM80 308h4v4h-4zM128 332h4v4h-4zM68 336h4v4h-4zM72 340h4v4h-4zM128 340h4v4h-4zM132 348h4v4h-4zM132 352h4v4h-4zM128 360h4v4h-4zM60 368h4v4h-4zM120 368h4v4h-4zM52 400h4v4h-4z"/>
<path fill="#9c9c9c" d="M16 4h4v4h-4zM16 36h4v4h-4zM72 36h4v4h-4zM12 40h4v4h-4zM16 44h4v4h-4zM80 48h4v4h-4zM16 68h4v4h-4zM12 72h4v4h-4zM72 72h4v4h-4zM24 84h4v4h-4zM12 100h4v4h-4zM8 108h4v4h-4zM12 112h4v4h-4zM16 116h4v4h-4zM16 120h4v4h-4zM136 132h4v4h-4zM68 152h4v4h-4zM60 188h4v4h-4zM52 196h4v4h-4zM52 204h4v4h-4zM108 204h4v4h-4zM56 208h4v4h-4zM64 212h4v4h-4zM116 212h4v4h-4zM60 220h4v4h-4zM52 228h4v4h-4zM116 228h4v4h-4zM56 236h4v4h-4zM100 236h4v4h-4zM64 240h4v4h-4zM84 240h8v4h-8zM88 244h8v4h-8zM116 244h4v4h-4zM76 248h4v4h-4zM124 248h4v4h-4zM128 252h4v4h-4zM128 256h4v4h-4zM60 260h4v4h-4zM120 264h4v4h-4zM104 268h12v4h-12zM72 272h4v4h-4zM84 272h36v4h-36zM80 276h12v4h-12zM0 292h4v4h-4zM68 296h4v4h-4zM136 296h4v4h-4zM128 300h4v4h-4zM72 304h4v4h-4zM128 304h4v4h-4zM76 308h4v4h-4zM132 308h4v4h-4zM76 312h4v4h-4zM136 312h4v4h-4zM72 316h4v4h-4zM0 320h4v4h-4zM136 328h4v4h-4zM128 336h4v4h-4zM68 344h4v4h-4zM132 344h4v4h-4zM64 348h4v4h-4zM124 364h4v4h-4zM60 372h4v4h-4zM120 372h4v4h-4zM60 376h4v4h-4zM56 380h4v4h-4zM124 384h4v4h-4z"/>
<path fill="#9e9e9e" d="M24 0h4v4h-4zM16 8h4v4h-4zM24 16h4v4h-4zM28 20h4v4h-4zM28 28h4v4h-4zM24 32h4v4h-4zM28 56h4v4h-4zM76 60h4v4h-4zM72 64h4v4h-4zM16 76h4v4h-4zM20 80h4v4h-4zM24 92h4v4h-4zM68 96h4v4h-4zM8 104h4v4h-4zM8 128h4v4h-4zM60 132h4v4h-4zM132 136h4v4h-4zM132 140h4v4h-4zM68 144h4v4h-4zM136 144h4v4h-4zM0 148h4v4h-4zM132 160h4v4h-4zM56 164h4v4h-4zM60 172h4v4h-4zM120 172h4v4h-4zM124 176h4v4h-4zM64 180h4v4h-4zM64 184h4v4h-4zM120 196h4v4h-4zM108 208h4v4h-4zM64 216h4v4h-4zM52 232h4v4h-4zM112 232h4v4h-4zM104 236h8v4h-8zM60 240h4v4h-4zM92 240h20v4h-20zM76 244h12v4h-12zM120 244h4v4h-4zM72 248h4v4h-4zM64 252h4v4h-4zM60 256h4v4h-4zM128 260h4v4h-4zM124 264h4v4h-4zM64 268h4v4h-4zM116 268h8v4h-8zM120 272h8v4h-8zM76 276h4v4h-4zM132 276h4v4h-4zM76 280h4v4h-4zM72 284h4v4h-4zM4 288h4v4h-4zM68 292h4v4h-4zM68 300h4v4h-4zM132 300h4v4h-4zM132 304h4v4h-4zM0 324h4v4h-4zM64 328h4v4h-4zM132 332h4v4h-4zM68 340h4v4h-4zM60 352h4v4h-4zM132 356h4v4h-4zM56 360h4v4h-4zM124 380h4v4h-4zM52 384h4v4h-4zM124 388h4v4h-4zM48 392h4v4h-4zM116 400h4v4h-4z"/>
<path fill="#a1a1a1" d="M20 4h4v4h-4zM72 4h4v4h-4zM20 12h4v4h-4zM80 24h4v4h-4zM20 36h4v4h-4zM16 40h4v4h-4zM72 40h4v4h-4zM76 44h4v4h-4zM80 52h4v4h-4zM28 60h4v4h-4zM24 64h4v4h-4zM20 68h4v4h-4zM16 72h4v4h-4zM72 92h4v4h-4zM20 96h4v4h-4zM72 112h4v4h-4zM64 140h4v4h-4zM4 152h4v4h-4zM0 156h4v4h-4zM128 164h4v4h-4zM124 168h4v4h-4zM128 184h4v4h-4zM128 188h4v4h-4zM124 192h4v4h-4zM116 200h4v4h-4zM112 204h4v4h-4zM112 208h4v4h-4zM60 212h4v4h-4zM120 212h4v4h-4zM60 216h4v4h-4zM56 220h4v4h-4zM124 220h4v4h-4zM52 224h4v4h-4zM120 228h4v4h-4zM112 236h4v4h-4zM112 240h4v4h-4zM68 244h8v4h-8zM68 248h4v4h-4zM132 252h4v4h-4zM132 256h4v4h-4zM60 264h4v4h-4zM128 264h4v4h-4zM124 268h4v4h-4zM68 272h4v4h-4zM128 272h4v4h-4zM72 276h4v4h-4zM0 280h4v4h-4zM4 284h4v4h-4zM8 288h4v4h-4zM4 292h4v4h-4zM64 296h4v4h-4zM136 300h4v4h-4zM72 308h4v4h-4zM136 308h4v4h-4zM72 312h4v4h-4zM0 316h4v4h-4zM4 320h4v4h-4zM68 320h4v4h-4zM64 324h4v4h-4zM64 332h4v4h-4zM132 336h4v4h-4zM132 340h4v4h-4zM136 352h4v4h-4zM56 356h4v4h-4zM56 364h4v4h-4zM124 368h4v4h-4zM124 376h4v4h-4zM48 388h4v4h-4zM48 396h4v4h-4zM120 396h4v4h-4z"/>
<path fill="#a4a4a4" d="M76 28h4v4h-4zM72 32h4v4h-4zM20 44h4v4h-4zM24 48h4v4h-4zM28 52h4v4h-4zM68 68h4v4h-4zM28 88h4v4h-4zM76 88h4v4h-4zM16 100h4v4h-4zM64 100h4v4h-4zM12 104h4v4h-4zM12 108h4v4h-4zM16 112h4v4h-4zM72 116h4v4h-4zM16 124h4v4h-4zM0 132h4v4h-4zM60 136h4v4h-4zM136 140h4v4h-4zM4 148h4v4h-4zM68 148h4v4h-4zM56 160h4v4h-4zM56 168h4v4h-4zM124 172h4v4h-4zM60 176h4v4h-4zM128 180h4v4h-4zM60 184h4v4h-4zM56 188h4v4h-4zM48 200h4v4h-4zM124 216h4v4h-4zM124 224h4v4h-4zM48 228h4v4h-4zM116 232h4v4h-4zM56 240h4v4h-4zM116 240h4v4h-4zM64 244h4v4h-4zM124 244h4v4h-4zM64 248h4v4h-4zM128 248h4v4h-4zM60 252h4v4h-4zM56 260h4v4h-4zM132 260h4v4h-4zM56 264h4v4h-4zM128 268h4v4h-4zM136 276h4v4h-4zM72 280h4v4h-4zM8 284h4v4h-4zM12 288h4v4h-4zM68 288h4v4h-4zM8 292h4v4h-4zM64 292h4v4h-4zM0 296h4v4h-4zM136 304h4v4h-4zM4 324h4v4h-4zM60 328h4v4h-4zM136 348h4v4h-4zM136 356h4v4h-4zM52 360h4v4h-4zM56 368h4v4h-4zM124 372h4v4h-4zM56 376h4v4h-4zM44 392h4v4h-4zM124 392h4v4h-4z"/>
<path fill="#a6a6a6" d="M72 0h4v4h-4zM20 8h4v4h-4zM72 8h4v4h-4zM80 16h4v4h-4zM20 40h4v4h-4zM20 76h4v4h-4zM72 76h4v4h-4zM24 80h4v4h-4zM76 80h4v4h-4zM28 84h4v4h-4zM64 104h4v4h-4zM68 108h4v4h-4zM20 116h4v4h-4zM20 120h4v4h-4zM12 128h4v4h-4zM60 128h4v4h-4zM136 136h4v4h-4zM0 144h4v4h-4zM8 152h4v4h-4zM4 156h4v4h-4zM60 180h4v4h-4zM132 184h4v4h-4zM52 192h4v4h-4zM48 196h4v4h-4zM52 208h4v4h-4zM116 208h4v4h-4zM56 212h4v4h-4zM128 220h4v4h-4zM48 232h4v4h-4zM52 236h4v4h-4zM116 236h4v4h-4zM120 240h4v4h-4zM60 244h4v4h-4zM60 248h4v4h-4zM132 248h4v4h-4zM136 252h4v4h-4zM56 256h4v4h-4zM136 256h4v4h-4zM52 260h4v4h-4zM132 264h4v4h-4zM60 268h4v4h-4zM132 272h4v4h-4zM4 280h4v4h-4zM12 284h4v4h-4zM16 288h4v4h-4zM12 292h4v4h-4zM4 296h4v4h-4zM60 296h4v4h-4zM64 300h4v4h-4zM68 304h4v4h-4zM0 312h4v4h-4zM4 316h4v4h-4zM8 320h4v4h-4zM8 324h4v4h-4zM0 328h4v4h-4zM60 332h4v4h-4zM136 332h4v4h-4zM64 336h4v4h-4zM64 344h4v4h-4zM52 356h4v4h-4zM132 360h4v4h-4zM128 364h4v4h-4zM56 372h4v4h-4zM128 384h4v4h-4zM44 388h4v4h-4zM128 388h4v4h-4zM48 400h4v4h-4z"/>
<path fill="#a9a9a9" d="M28 0h4v4h-4zM24 4h4v4h-4zM76 12h4v4h-4zM80 20h4v4h-4zM32 24h4v4h-4zM28 32h4v4h-4zM68 36h4v4h-4zM20 72h4v4h-4zM68 72h4v4h-4zM28 92h4v4h-4zM64 124h4v4h-4zM4 132h4v4h-4zM56 132h4v4h-4zM60 156h4v4h-4zM136 160h4v4h-4zM52 164h4v4h-4zM128 168h4v4h-4zM128 176h4v4h-4zM132 188h4v4h-4zM116 204h4v4h-4zM56 216h4v4h-4zM128 216h4v4h-4zM52 220h4v4h-4zM48 224h4v4h-4zM44 228h4v4h-4zM120 232h4v4h-4zM0 252h4v4h-4zM0 256h8v4h-8zM48 260h4v4h-4zM136 260h4v4h-4zM52 264h4v4h-4zM132 268h4v4h-4zM64 272h4v4h-4zM0 276h4v4h-4zM68 276h4v4h-4zM8 280h4v4h-4zM16 284h4v4h-4zM68 284h4v4h-4zM20 288h8v4h-8zM16 292h28v4h-28zM60 292h4v4h-4zM44 296h16v4h-16zM0 300h4v4h-4zM60 300h4v4h-4zM68 316h4v4h-4zM12 324h4v4h-4zM60 324h4v4h-4zM56 328h4v4h-4zM64 340h4v4h-4zM0 352h4v4h-4zM56 352h4v4h-4zM0 356h4v4h-4zM48 360h4v4h-4zM52 364h4v4h-4zM52 380h4v4h-4zM128 380h4v4h-4zM48 384h4v4h-4zM40 392h4v4h-4zM44 396h4v4h-4z"/>
<path fill="#acacac" d="M24 12h4v4h-4zM28 16h4v4h-4zM32 28h4v4h-4zM24 36h4v4h-4zM32 56h4v4h-4zM28 64h4v4h-4zM68 64h4v4h-4zM24 68h4v4h-4zM24 96h4v4h-4zM64 96h4v4h-4zM16 104h4v4h-4zM16 108h4v4h-4zM68 120h4v4h-4zM0 136h4v4h-4zM8 148h4v4h-4zM64 152h4v4h-4zM8 156h4v4h-4zM52 160h4v4h-4zM128 172h4v4h-4zM132 180h4v4h-4zM48 192h4v4h-4zM128 192h4v4h-4zM44 196h4v4h-4zM120 200h4v4h-4zM48 204h4v4h-4zM120 208h4v4h-4zM124 212h4v4h-4zM132 220h4v4h-4zM128 224h4v4h-4zM40 228h4v4h-4zM124 228h4v4h-4zM44 232h4v4h-4zM48 236h4v4h-4zM120 236h4v4h-4zM56 244h4v4h-4zM128 244h4v4h-4zM136 248h4v4h-4zM4 252h8v4h-8zM56 252h4v4h-4zM8 256h20v4h-20zM52 256h4v4h-4zM0 260h4v4h-4zM32 260h16v4h-16zM48 264h4v4h-4zM56 268h4v4h-4zM136 272h4v4h-4zM20 284h4v4h-4zM28 288h8v4h-8zM64 288h4v4h-4zM44 292h16v4h-16zM8 296h4v4h-4zM32 296h12v4h-12zM56 300h4v4h-4zM0 304h4v4h-4zM64 304h4v4h-4zM0 308h4v4h-4zM68 308h4v4h-4zM12 320h4v4h-4zM64 320h4v4h-4zM16 324h12v4h-12zM4 328h4v4h-4zM40 328h16v4h-16zM56 332h4v4h-4zM136 344h4v4h-4zM0 348h4v4h-4zM60 348h4v4h-4zM4 356h4v4h-4zM48 356h4v4h-4zM44 360h4v4h-4zM136 360h4v4h-4zM132 384h4v4h-4zM40 388h4v4h-4zM132 388h4v4h-4zM128 392h4v4h-4zM120 400h4v4h-4z"/>
<path fill="#aeaeae" d="M68 4h4v4h-4zM24 8h4v4h-4zM32 20h4v4h-4zM68 40h4v4h-4zM24 44h4v4h-4zM72 44h4v4h-4zM28 48h4v4h-4zM76 48h4v4h-4zM76 56h4v4h-4zM32 60h4v4h-4zM72 60h4v4h-4zM76 84h4v4h-4zM20 100h4v4h-4zM20 112h4v4h-4zM20 124h4v4h-4zM8 132h4v4h-4zM56 136h4v4h-4zM0 140h4v4h-4zM60 140h4v4h-4zM4 144h4v4h-4zM12 152h4v4h-4zM0 160h4v4h-4zM132 164h4v4h-4zM56 172h4v4h-4zM56 184h4v4h-4zM136 184h4v4h-4zM124 196h4v4h-4zM44 200h4v4h-4zM132 216h4v4h-4zM136 220h4v4h-4zM44 224h4v4h-4zM36 228h4v4h-4zM52 240h4v4h-4zM124 240h4v4h-4zM0 248h4v4h-4zM56 248h4v4h-4zM12 252h4v4h-4zM28 256h12v4h-12zM44 256h8v4h-8zM4 260h28v4h-28zM40 264h8v4h-8zM136 264h4v4h-4zM52 268h4v4h-4zM136 268h4v4h-4zM60 272h4v4h-4zM4 276h4v4h-4zM12 280h4v4h-4zM68 280h4v4h-4zM36 288h4v4h-4zM60 288h4v4h-4zM12 296h20v4h-20zM4 300h4v4h-4zM48 300h8v4h-8zM4 312h4v4h-4zM68 312h4v4h-4zM8 316h4v4h-4zM16 320h4v4h-4zM28 324h8v4h-8zM56 324h4v4h-4zM8 328h4v4h-4zM24 328h16v4h-16zM52 332h4v4h-4zM60 336h4v4h-4zM136 336h4v4h-4zM136 340h4v4h-4zM4 352h4v4h-4zM8 356h8v4h-8zM40 360h4v4h-4zM48 364h4v4h-4zM52 368h4v4h-4zM136 388h4v4h-4zM36 392h4v4h-4zM40 396h4v4h-4zM124 396h4v4h-4z"/>
<path fill="#b1b1b1" d="M72 28h4v4h-4zM68 32h4v4h-4zM24 40h4v4h-4zM32 52h4v4h-4zM24 76h4v4h-4zM32 88h4v4h-4zM68 92h4v4h-4zM60 100h4v4h-4zM68 112h4v4h-4zM16 128h4v4h-4zM56 128h4v4h-4zM4 136h4v4h-4zM64 144h4v4h-4zM12 156h4v4h-4zM48 164h4v4h-4zM52 168h4v4h-4zM136 180h4v4h-4zM0 184h4v4h-4zM52 188h4v4h-4zM136 188h4v4h-4zM44 192h4v4h-4zM40 196h4v4h-4zM120 204h4v4h-4zM52 212h4v4h-4zM128 212h4v4h-4zM52 216h4v4h-4zM136 216h4v4h-4zM0 220h4v4h-4zM40 224h4v4h-4zM132 224h4v4h-4zM40 232h4v4h-4zM124 232h4v4h-4zM132 244h4v4h-4zM4 248h4v4h-4zM16 252h8v4h-8zM52 252h4v4h-4zM40 256h4v4h-4zM0 264h4v4h-4zM36 264h4v4h-4zM0 272h4v4h-4zM64 276h4v4h-4zM16 280h4v4h-4zM24 284h4v4h-4zM64 284h4v4h-4zM40 288h8v4h-8zM44 300h4v4h-4zM60 304h4v4h-4zM4 308h4v4h-4zM60 320h4v4h-4zM36 324h8v4h-8zM48 324h8v4h-8zM12 328h12v4h-12zM0 332h4v4h-4zM48 332h4v4h-4zM8 352h4v4h-4zM52 352h4v4h-4zM16 356h12v4h-12zM40 356h8v4h-8zM0 360h4v4h-4zM28 360h12v4h-12zM132 364h4v4h-4zM128 368h4v4h-4zM52 376h4v4h-4zM128 376h4v4h-4zM44 384h4v4h-4zM136 384h4v4h-4zM0 388h8v4h-8zM36 388h4v4h-4zM28 392h8v4h-8zM132 392h4v4h-4zM44 400h4v4h-4z"/>
<path fill="#b4b4b4" d="M68 0h4v4h-4zM68 8h4v4h-4zM72 12h4v4h-4zM76 16h4v4h-4zM76 24h4v4h-4zM76 52h4v4h-4zM64 68h4v4h-4zM24 72h4v4h-4zM28 80h4v4h-4zM32 84h4v4h-4zM64 108h4v4h-4zM24 116h4v4h-4zM68 116h4v4h-4zM24 120h4v4h-4zM60 124h4v4h-4zM52 132h4v4h-4zM4 140h4v4h-4zM12 148h4v4h-4zM56 156h4v4h-4zM4 160h4v4h-4zM48 160h4v4h-4zM132 176h4v4h-4zM0 188h4v4h-4zM40 192h4v4h-4zM132 192h4v4h-4zM0 216h4v4h-4zM4 220h8v4h-8zM48 220h4v4h-4zM24 224h16v4h-16zM136 224h4v4h-4zM32 228h4v4h-4zM128 228h4v4h-4zM36 232h4v4h-4zM44 236h4v4h-4zM124 236h4v4h-4zM48 240h4v4h-4zM52 244h4v4h-4zM8 248h4v4h-4zM24 252h4v4h-4zM48 252h4v4h-4zM4 264h4v4h-4zM32 264h4v4h-4zM0 268h4v4h-4zM48 268h4v4h-4zM56 272h4v4h-4zM8 276h4v4h-4zM28 284h4v4h-4zM48 288h12v4h-12zM8 300h4v4h-4zM40 300h4v4h-4zM4 304h4v4h-4zM56 304h4v4h-4zM64 308h4v4h-4zM8 312h4v4h-4zM12 316h4v4h-4zM64 316h4v4h-4zM20 320h4v4h-4zM44 324h4v4h-4zM44 332h4v4h-4zM56 336h4v4h-4zM60 340h4v4h-4zM0 344h4v4h-4zM60 344h4v4h-4zM4 348h4v4h-4zM12 352h4v4h-4zM28 356h12v4h-12zM4 360h24v4h-24zM44 364h4v4h-4zM52 372h4v4h-4zM128 372h4v4h-4zM48 380h4v4h-4zM132 380h4v4h-4zM8 388h28v4h-28zM12 392h16v4h-16zM136 392h4v4h-4zM36 396h4v4h-4z"/>
<path fill="#b7b7b7" d="M32 0h4v4h-4zM28 4h4v4h-4zM28 36h4v4h-4zM64 36h4v4h-4zM64 72h4v4h-4zM68 76h4v4h-4zM72 80h4v4h-4zM72 88h4v4h-4zM20 104h4v4h-4zM60 104h4v4h-4zM20 108h4v4h-4zM12 132h4v4h-4zM8 144h4v4h-4zM64 148h4v4h-4zM16 152h4v4h-4zM16 156h4v4h-4zM136 164h4v4h-4zM132 168h4v4h-4zM56 176h4v4h-4zM0 180h4v4h-4zM56 180h4v4h-4zM4 184h4v4h-4zM36 192h4v4h-4zM36 196h4v4h-4zM128 196h4v4h-4zM40 200h4v4h-4zM44 204h4v4h-4zM48 208h4v4h-4zM124 208h4v4h-4zM132 212h4v4h-4zM12 220h8v4h-8zM0 224h24v4h-24zM28 228h4v4h-4zM128 240h4v4h-4zM136 244h4v4h-4zM52 248h4v4h-4zM28 252h4v4h-4zM44 252h4v4h-4zM8 264h8v4h-8zM24 264h8v4h-8zM4 268h4v4h-4zM44 268h4v4h-4zM4 272h4v4h-4zM12 276h4v4h-4zM20 280h4v4h-4zM64 280h4v4h-4zM32 284h4v4h-4zM60 284h4v4h-4zM12 300h4v4h-4zM32 300h8v4h-8zM64 312h4v4h-4zM24 320h4v4h-4zM4 332h4v4h-4zM36 332h8v4h-8zM0 336h4v4h-4zM56 348h4v4h-4zM48 352h4v4h-4zM40 364h4v4h-4zM48 368h4v4h-4zM0 384h4v4h-4zM40 384h4v4h-4zM0 392h12v4h-12zM32 396h4v4h-4zM128 396h4v4h-4zM40 400h4v4h-4zM124 400h4v4h-4z"/>
<path fill="#b9b9b9" d="M28 12h4v4h-4zM76 20h4v4h-4zM36 24h4v4h-4zM32 32h4v4h-4zM32 64h4v4h-4zM28 68h4v4h-4zM32 92h4v4h-4zM28 96h4v4h-4zM60 96h4v4h-4zM64 120h4v4h-4zM24 124h4v4h-4zM20 128h4v4h-4zM52 128h4v4h-4zM8 136h4v4h-4zM52 136h4v4h-4zM60 152h4v4h-4zM52 156h4v4h-4zM8 160h4v4h-4zM44 160h4v4h-4zM44 164h4v4h-4zM48 168h4v4h-4zM132 172h4v4h-4zM136 176h4v4h-4zM8 184h4v4h-4zM4 188h4v4h-4zM48 188h4v4h-4zM32 192h4v4h-4zM136 192h4v4h-4zM124 200h4v4h-4zM4 216h4v4h-4zM20 220h8v4h-8zM44 220h4v4h-4zM24 228h4v4h-4zM132 228h4v4h-4zM32 232h4v4h-4zM128 232h4v4h-4zM40 236h4v4h-4zM128 236h4v4h-4zM44 240h4v4h-4zM0 244h4v4h-4zM48 244h4v4h-4zM12 248h4v4h-4zM48 248h4v4h-4zM32 252h12v4h-12zM16 264h8v4h-8zM8 272h4v4h-4zM52 272h4v4h-4zM60 276h4v4h-4zM24 280h4v4h-4zM36 284h4v4h-4zM16 300h16v4h-16zM8 304h4v4h-4zM52 304h4v4h-4zM8 308h4v4h-4zM60 308h4v4h-4zM16 316h4v4h-4zM28 320h4v4h-4zM56 320h4v4h-4zM8 332h4v4h-4zM32 332h4v4h-4zM0 340h4v4h-4zM16 352h4v4h-4zM36 364h4v4h-4zM136 364h4v4h-4zM132 368h4v4h-4zM132 376h4v4h-4zM4 384h4v4h-4zM28 396h4v4h-4z"/>
<path fill="#bcbcbc" d="M64 4h4v4h-4zM28 8h4v4h-4zM32 16h4v4h-4zM36 28h4v4h-4zM64 40h4v4h-4zM28 44h4v4h-4zM68 44h4v4h-4zM36 56h4v4h-4zM64 64h4v4h-4zM24 100h4v4h-4zM24 112h4v4h-4zM48 132h4v4h-4zM8 140h4v4h-4zM56 140h4v4h-4zM60 144h4v4h-4zM16 148h4v4h-4zM20 156h4v4h-4zM40 160h4v4h-4zM52 172h4v4h-4zM4 180h4v4h-4zM12 184h4v4h-4zM52 184h4v4h-4zM8 188h12v4h-12zM44 188h4v4h-4zM28 192h4v4h-4zM32 196h4v4h-4zM124 204h4v4h-4zM48 212h4v4h-4zM136 212h4v4h-4zM8 216h4v4h-4zM48 216h4v4h-4zM28 220h16v4h-16zM20 228h4v4h-4zM136 228h4v4h-4zM132 240h4v4h-4zM16 248h4v4h-4zM8 268h4v4h-4zM40 268h4v4h-4zM16 276h4v4h-4zM60 280h4v4h-4zM40 284h4v4h-4zM56 284h4v4h-4zM12 304h4v4h-4zM48 304h4v4h-4zM12 312h4v4h-4zM60 316h4v4h-4zM12 332h4v4h-4zM28 332h4v4h-4zM52 336h4v4h-4zM56 340h4v4h-4zM4 344h4v4h-4zM8 348h4v4h-4zM20 352h4v4h-4zM44 352h4v4h-4zM32 364h4v4h-4zM44 368h4v4h-4zM48 372h4v4h-4zM48 376h4v4h-4zM44 380h4v4h-4zM136 380h4v4h-4zM8 384h4v4h-4zM36 384h4v4h-4zM24 396h4v4h-4zM132 396h4v4h-4z"/>
<path fill="#bfbfbf" d="M36 20h4v4h-4zM64 32h4v4h-4zM28 40h4v4h-4zM32 48h4v4h-4zM72 48h4v4h-4zM72 56h4v4h-4zM36 60h4v4h-4zM68 60h4v4h-4zM28 72h4v4h-4zM28 76h4v4h-4zM72 84h4v4h-4zM36 88h4v4h-4zM56 100h4v4h-4zM28 120h4v4h-4zM56 124h4v4h-4zM16 132h4v4h-4zM12 144h4v4h-4zM20 152h4v4h-4zM48 156h4v4h-4zM12 160h4v4h-4zM36 160h4v4h-4zM0 164h4v4h-4zM40 164h4v4h-4zM136 172h4v4h-4zM0 176h4v4h-4zM20 188h24v4h-24zM0 192h4v4h-4zM24 192h4v4h-4zM132 196h4v4h-4zM36 200h4v4h-4zM128 208h4v4h-4zM0 212h4v4h-4zM12 216h4v4h-4zM0 228h4v4h-4zM12 228h8v4h-8zM28 232h4v4h-4zM132 232h4v4h-4zM36 236h4v4h-4zM132 236h4v4h-4zM136 240h4v4h-4zM4 244h4v4h-4zM44 244h4v4h-4zM20 248h4v4h-4zM44 248h4v4h-4zM12 268h8v4h-8zM36 268h4v4h-4zM12 272h4v4h-4zM48 272h4v4h-4zM56 276h4v4h-4zM28 280h4v4h-4zM44 284h12v4h-12zM44 304h4v4h-4zM12 308h4v4h-4zM56 308h4v4h-4zM60 312h4v4h-4zM20 316h4v4h-4zM32 320h4v4h-4zM52 320h4v4h-4zM16 332h12v4h-12zM4 336h4v4h-4zM48 336h4v4h-4zM56 344h4v4h-4zM52 348h4v4h-4zM24 352h4v4h-4zM0 364h4v4h-4zM24 364h8v4h-8zM132 372h4v4h-4zM32 384h4v4h-4zM20 396h4v4h-4zM36 400h4v4h-4z"/>
<path fill="#c1c1c1" d="M64 0h4v4h-4zM64 8h4v4h-4zM68 12h4v4h-4zM72 16h4v4h-4zM72 24h4v4h-4zM68 28h4v4h-4zM36 52h4v4h-4zM60 68h4v4h-4zM32 80h4v4h-4zM64 92h4v4h-4zM24 108h4v4h-4zM64 112h4v4h-4zM28 116h4v4h-4zM28 124h4v4h-4zM24 128h4v4h-4zM48 128h4v4h-4zM12 136h4v4h-4zM60 148h4v4h-4zM24 156h4v4h-4zM16 160h4v4h-4zM136 168h4v4h-4zM8 180h4v4h-4zM16 184h4v4h-4zM4 192h4v4h-4zM20 192h4v4h-4zM128 200h4v4h-4zM40 204h4v4h-4zM44 208h4v4h-4zM16 216h4v4h-4zM44 216h4v4h-4zM4 228h8v4h-8zM24 232h4v4h-4zM40 240h4v4h-4zM8 244h4v4h-4zM24 248h4v4h-4zM40 248h4v4h-4zM20 268h16v4h-16zM16 272h4v4h-4zM20 276h4v4h-4zM32 280h4v4h-4zM56 280h4v4h-4zM16 304h4v4h-4zM40 304h4v4h-4zM16 312h4v4h-4zM56 316h4v4h-4zM36 320h8v4h-8zM48 320h4v4h-4zM4 340h4v4h-4zM12 348h4v4h-4zM28 352h16v4h-16zM4 364h4v4h-4zM20 364h4v4h-4zM40 368h4v4h-4zM136 368h4v4h-4zM0 380h4v4h-4zM12 384h8v4h-8zM28 384h4v4h-4zM12 396h8v4h-8zM136 396h4v4h-4zM128 400h4v4h-4z"/>
<path fill="#c4c4c4" d="M36 0h4v4h-4zM32 4h4v4h-4zM36 32h4v4h-4zM32 36h4v4h-4zM60 36h4v4h-4zM72 52h4v4h-4zM36 64h4v4h-4zM32 68h4v4h-4zM36 84h4v4h-4zM36 92h4v4h-4zM32 96h4v4h-4zM24 104h4v4h-4zM56 104h4v4h-4zM60 108h4v4h-4zM64 116h4v4h-4zM44 132h4v4h-4zM48 136h4v4h-4zM12 140h4v4h-4zM24 152h4v4h-4zM56 152h4v4h-4zM28 156h4v4h-4zM40 156h8v4h-8zM20 160h16v4h-16zM4 164h4v4h-4zM44 168h4v4h-4zM52 176h4v4h-4zM52 180h4v4h-4zM20 184h4v4h-4zM48 184h4v4h-4zM8 192h12v4h-12zM28 196h4v4h-4zM128 204h4v4h-4zM132 208h4v4h-4zM4 212h4v4h-4zM20 216h4v4h-4zM136 232h4v4h-4zM32 236h4v4h-4zM136 236h4v4h-4zM0 240h4v4h-4zM36 240h4v4h-4zM40 244h4v4h-4zM28 248h12v4h-12zM20 272h4v4h-4zM44 272h4v4h-4zM24 276h4v4h-4zM52 276h4v4h-4zM36 280h4v4h-4zM20 304h4v4h-4zM36 304h4v4h-4zM16 308h4v4h-4zM52 308h4v4h-4zM56 312h4v4h-4zM24 316h4v4h-4zM44 320h4v4h-4zM8 336h4v4h-4zM44 336h4v4h-4zM52 340h4v4h-4zM8 344h4v4h-4zM8 364h12v4h-12zM44 372h4v4h-4zM44 376h4v4h-4zM136 376h4v4h-4zM40 380h4v4h-4zM20 384h8v4h-8zM0 396h12v4h-12zM32 400h4v4h-4z"/>
<path fill="#c7c7c7" d="M60 4h4v4h-4zM32 12h4v4h-4zM60 64h4v4h-4zM60 72h4v4h-4zM64 76h4v4h-4zM68 80h4v4h-4zM68 88h4v4h-4zM56 96h4v4h-4zM28 100h4v4h-4zM60 120h4v4h-4zM20 132h4v4h-4zM52 140h4v4h-4zM16 144h4v4h-4zM20 148h4v4h-4zM32 156h8v4h-8zM36 164h4v4h-4zM0 168h4v4h-4zM0 172h4v4h-4zM48 172h4v4h-4zM4 176h4v4h-4zM12 180h4v4h-4zM24 184h4v4h-4zM136 196h4v4h-4zM32 200h4v4h-4zM44 212h4v4h-4zM24 216h4v4h-4zM40 216h4v4h-4zM0 232h4v4h-4zM20 232h4v4h-4zM28 236h4v4h-4zM12 244h4v4h-4zM24 272h4v4h-4zM40 272h4v4h-4zM28 276h4v4h-4zM40 280h4v4h-4zM52 280h4v4h-4zM24 304h12v4h-12zM40 336h4v4h-4zM52 344h4v4h-4zM16 348h4v4h-4zM48 348h4v4h-4zM36 368h4v4h-4zM136 372h4v4h-4zM4 380h4v4h-4z"/>
<path fill="#c9c9c9" d="M32 8h4v4h-4zM72 20h4v4h-4zM40 24h4v4h-4zM40 28h4v4h-4zM60 32h4v4h-4zM60 40h4v4h-4zM32 44h4v4h-4zM40 56h4v4h-4zM40 60h4v4h-4zM52 100h4v4h-4zM28 112h4v4h-4zM32 120h4v4h-4zM52 124h4v4h-4zM28 128h4v4h-4zM44 128h4v4h-4zM16 136h4v4h-4zM56 144h4v4h-4zM8 164h4v4h-4zM16 180h4v4h-4zM28 184h4v4h-4zM44 184h4v4h-4zM24 196h4v4h-4zM132 200h4v4h-4zM36 204h4v4h-4zM40 208h4v4h-4zM136 208h4v4h-4zM8 212h4v4h-4zM28 216h12v4h-12zM4 232h16v4h-16zM0 236h4v4h-4zM4 240h4v4h-4zM32 240h4v4h-4zM16 244h4v4h-4zM36 244h4v4h-4zM28 272h12v4h-12zM32 276h4v4h-4zM48 276h4v4h-4zM44 280h8v4h-8zM20 308h4v4h-4zM48 308h4v4h-4zM20 312h4v4h-4zM28 316h4v4h-4zM52 316h4v4h-4zM12 336h4v4h-4zM8 340h4v4h-4zM0 368h4v4h-4zM36 380h4v4h-4zM28 400h4v4h-4zM132 400h4v4h-4z"/>
<path fill="#cccccc" d="M60 0h4v4h-4zM60 8h4v4h-4zM36 16h4v4h-4zM32 40h4v4h-4zM64 44h4v4h-4zM68 48h4v4h-4zM64 60h4v4h-4zM56 68h4v4h-4zM32 72h4v4h-4zM32 76h4v4h-4zM40 88h4v4h-4zM60 92h4v4h-4zM32 124h4v4h-4zM24 132h4v4h-4zM40 132h4v4h-4zM44 136h4v4h-4zM16 140h4v4h-4zM56 148h4v4h-4zM28 152h4v4h-4zM52 152h4v4h-4zM32 164h4v4h-4zM40 168h4v4h-4zM4 172h4v4h-4zM8 176h4v4h-4zM48 176h4v4h-4zM48 180h4v4h-4zM32 184h12v4h-12zM0 196h4v4h-4zM132 204h4v4h-4zM0 208h4v4h-4zM12 212h4v4h-4zM40 212h4v4h-4zM4 236h4v4h-4zM24 236h4v4h-4zM8 240h4v4h-4zM20 244h16v4h-16zM36 276h12v4h-12zM24 308h4v4h-4zM44 308h4v4h-4zM52 312h4v4h-4zM36 336h4v4h-4zM48 340h4v4h-4zM12 344h4v4h-4zM20 348h4v4h-4zM44 348h4v4h-4zM32 368h4v4h-4zM40 372h4v4h-4zM0 376h4v4h-4zM40 376h4v4h-4zM24 400h4v4h-4z"/>
<path fill="#cfcfcf" d="M36 4h4v4h-4zM64 12h4v4h-4zM40 20h4v4h-4zM64 28h4v4h-4zM36 36h4v4h-4zM56 36h4v4h-4zM36 48h4v4h-4zM68 56h4v4h-4zM40 64h4v4h-4zM36 68h4v4h-4zM36 80h4v4h-4zM68 84h4v4h-4zM40 92h4v4h-4zM36 96h4v4h-4zM52 96h4v4h-4zM28 104h4v4h-4zM28 108h4v4h-4zM60 112h4v4h-4zM32 116h4v4h-4zM48 124h4v4h-4zM32 128h4v4h-4zM40 128h4v4h-4zM24 148h4v4h-4zM12 164h4v4h-4zM4 168h4v4h-4zM20 180h4v4h-4zM4 196h4v4h-4zM20 196h4v4h-4zM28 200h4v4h-4zM136 200h4v4h-4zM8 236h4v4h-4zM20 236h4v4h-4zM12 240h4v4h-4zM28 240h4v4h-4zM28 308h4v4h-4zM40 308h4v4h-4zM24 312h4v4h-4zM32 316h4v4h-4zM48 316h4v4h-4zM16 336h4v4h-4zM32 336h4v4h-4zM12 340h4v4h-4zM48 344h4v4h-4zM4 368h4v4h-4zM28 368h4v4h-4zM0 372h4v4h-4zM8 380h4v4h-4zM32 380h4v4h-4zM136 400h4v4h-4z"/>
<path fill="#d1d1d1" d="M40 0h4v4h-4zM56 4h4v4h-4zM68 16h4v4h-4zM68 24h4v4h-4zM40 32h4v4h-4zM40 52h4v4h-4zM56 64h4v4h-4zM56 72h4v4h-4zM40 84h4v4h-4zM32 100h4v4h-4zM52 104h4v4h-4zM56 108h4v4h-4zM60 116h4v4h-4zM56 120h4v4h-4zM36 128h4v4h-4zM28 132h4v4h-4zM20 136h4v4h-4zM48 140h4v4h-4zM20 144h4v4h-4zM32 152h4v4h-4zM48 152h4v4h-4zM16 164h16v4h-16zM44 172h4v4h-4zM12 176h4v4h-4zM24 180h4v4h-4zM44 180h4v4h-4zM8 196h12v4h-12zM32 204h4v4h-4zM136 204h4v4h-4zM4 208h4v4h-4zM36 208h4v4h-4zM16 212h4v4h-4zM36 212h4v4h-4zM12 236h8v4h-8zM16 240h12v4h-12zM32 308h8v4h-8zM28 312h4v4h-4zM48 312h4v4h-4zM36 316h12v4h-12zM20 336h12v4h-12zM44 340h4v4h-4zM24 348h4v4h-4zM40 348h4v4h-4zM24 368h4v4h-4zM36 372h4v4h-4zM12 380h4v4h-4zM20 400h4v4h-4z"/>
<path fill="#d4d4d4" d="M56 32h4v4h-4zM56 40h4v4h-4zM68 52h4v4h-4zM60 76h4v4h-4zM64 88h4v4h-4zM48 100h4v4h-4zM36 120h4v4h-4zM36 124h4v4h-4zM44 124h4v4h-4zM32 132h8v4h-8zM40 136h4v4h-4zM20 140h4v4h-4zM52 144h4v4h-4zM36 152h4v4h-4zM44 152h4v4h-4zM8 168h4v4h-4zM36 168h4v4h-4zM8 172h4v4h-4zM0 200h4v4h-4zM20 212h4v4h-4zM32 312h4v4h-4zM44 312h4v4h-4zM16 344h4v4h-4zM44 344h4v4h-4zM28 348h12v4h-12zM8 368h4v4h-4zM20 368h4v4h-4zM4 376h4v4h-4zM36 376h4v4h-4zM16 380h4v4h-4zM28 380h4v4h-4zM0 400h4v4h-4zM16 400h4v4h-4z"/>
<path fill="#d7d7d7" d="M56 0h4v4h-4zM36 8h4v4h-4zM56 8h4v4h-4zM36 12h4v4h-4zM68 20h4v4h-4zM44 24h4v4h-4zM44 28h4v4h-4zM36 40h4v4h-4zM36 44h4v4h-4zM60 44h4v4h-4zM44 56h4v4h-4zM44 60h4v4h-4zM60 60h4v4h-4zM40 68h4v4h-4zM52 68h4v4h-4zM36 72h4v4h-4zM36 76h4v4h-4zM64 80h4v4h-4zM44 88h4v4h-4zM56 92h4v4h-4zM32 112h4v4h-4zM40 124h4v4h-4zM24 136h4v4h-4zM28 148h4v4h-4zM52 148h4v4h-4zM40 152h4v4h-4zM16 176h4v4h-4zM44 176h4v4h-4zM28 180h4v4h-4zM40 180h4v4h-4zM24 200h4v4h-4zM0 204h4v4h-4zM8 208h4v4h-4zM24 212h12v4h-12zM36 312h8v4h-8zM16 340h4v4h-4zM40 340h4v4h-4zM12 368h8v4h-8zM4 372h4v4h-4zM32 372h4v4h-4zM20 380h8v4h-8zM4 400h12v4h-12z"/>
<path fill="#d9d9d9" d="M40 4h4v4h-4zM52 4h4v4h-4zM60 12h4v4h-4zM40 16h4v4h-4zM60 28h4v4h-4zM40 36h4v4h-4zM52 36h4v4h-4zM64 48h4v4h-4zM64 56h4v4h-4zM44 64h4v4h-4zM52 64h4v4h-4zM44 92h4v4h-4zM40 96h4v4h-4zM48 96h4v4h-4zM36 100h4v4h-4zM32 104h4v4h-4zM36 116h4v4h-4zM52 120h4v4h-4zM44 140h4v4h-4zM24 144h4v4h-4zM12 168h4v4h-4zM12 172h4v4h-4zM40 172h4v4h-4zM20 176h4v4h-4zM32 180h8v4h-8zM4 200h4v4h-4zM20 200h4v4h-4zM28 204h4v4h-4zM12 208h4v4h-4zM32 208h4v4h-4zM20 344h4v4h-4zM40 344h4v4h-4zM8 376h4v4h-4zM32 376h4v4h-4z"/>
<path fill="#dcdcdc" d="M44 0h4v4h-4zM44 20h4v4h-4zM64 24h4v4h-4zM44 32h4v4h-4zM52 32h4v4h-4zM40 48h4v4h-4zM44 52h4v4h-4zM52 72h4v4h-4zM40 80h4v4h-4zM44 84h4v4h-4zM64 84h4v4h-4zM48 104h4v4h-4zM32 108h4v4h-4zM56 112h4v4h-4zM56 116h4v4h-4zM28 136h4v4h-4zM36 136h4v4h-4zM24 140h4v4h-4zM48 144h4v4h-4zM32 148h4v4h-4zM48 148h4v4h-4zM16 168h4v4h-4zM32 168h4v4h-4zM40 176h4v4h-4zM8 200h12v4h-12zM4 204h4v4h-4zM20 340h4v4h-4zM36 340h4v4h-4zM24 344h4v4h-4zM8 372h4v4h-4zM28 372h4v4h-4z"/>
<path fill="#dfdfdf" d="M52 0h4v4h-4zM40 8h4v4h-4zM64 16h4v4h-4zM40 40h4v4h-4zM52 40h4v4h-4zM56 60h4v4h-4zM48 64h4v4h-4zM44 68h8v4h-8zM40 72h4v4h-4zM60 88h4v4h-4zM52 92h4v4h-4zM44 96h4v4h-4zM44 100h4v4h-4zM52 108h4v4h-4zM40 120h4v4h-4zM48 120h4v4h-4zM32 136h4v4h-4zM28 144h4v4h-4zM20 168h4v4h-4zM28 168h4v4h-4zM16 172h4v4h-4zM24 176h4v4h-4zM8 204h4v4h-4zM24 204h4v4h-4zM16 208h16v4h-16zM24 340h12v4h-12zM28 344h4v4h-4zM36 344h4v4h-4zM12 376h4v4h-4zM28 376h4v4h-4z"/>
<path fill="#e1e1e1" d="M48 0h4v4h-4zM44 4h8v4h-8zM52 8h4v4h-4zM40 12h4v4h-4zM48 28h4v4h-4zM56 28h4v4h-4zM48 32h4v4h-4zM44 36h8v4h-8zM40 44h4v4h-4zM64 52h4v4h-4zM48 56h4v4h-4zM48 60h4v4h-4zM40 76h4v4h-4zM56 76h4v4h-4zM48 92h4v4h-4zM40 100h4v4h-4zM36 104h4v4h-4zM36 112h4v4h-4zM44 120h4v4h-4zM28 140h4v4h-4zM40 140h4v4h-4zM36 148h4v4h-4zM44 148h4v4h-4zM24 168h4v4h-4zM20 172h4v4h-4zM36 172h4v4h-4zM28 176h12v4h-12zM12 204h4v4h-4zM20 204h4v4h-4zM32 344h4v4h-4zM12 372h16v4h-16zM16 376h4v4h-4zM24 376h4v4h-4z"/>
<path fill="#e4e4e4" d="M64 20h4v4h-4zM48 24h4v4h-4zM56 44h4v4h-4zM60 56h4v4h-4zM52 60h4v4h-4zM60 80h4v4h-4zM48 88h4v4h-4zM36 108h4v4h-4zM40 116h4v4h-4zM52 116h4v4h-4zM44 144h4v4h-4zM40 148h4v4h-4zM24 172h4v4h-4zM32 172h4v4h-4zM16 204h4v4h-4zM20 376h4v4h-4z"/>
<path fill="#e7e7e7" d="M56 12h4v4h-4zM44 16h4v4h-4zM60 24h4v4h-4zM52 28h4v4h-4zM44 40h4v4h-4zM44 48h4v4h-4zM60 48h4v4h-4zM44 72h8v4h-8zM44 80h4v4h-4zM48 84h4v4h-4zM56 88h4v4h-4zM44 104h4v4h-4zM52 112h4v4h-4zM32 140h8v4h-8zM32 144h4v4h-4zM28 172h4v4h-4z"/>
<path fill="#eaeaea" d="M44 8h8v4h-8zM60 16h4v4h-4zM48 20h4v4h-4zM48 40h4v4h-4zM44 44h4v4h-4zM48 52h4v4h-4zM44 76h4v4h-4zM60 84h4v4h-4zM52 88h4v4h-4zM40 104h4v4h-4zM48 108h4v4h-4zM40 112h4v4h-4zM36 144h8v4h-8z"/>
<path fill="#ececec" d="M44 12h4v4h-4zM60 20h4v4h-4zM60 52h4v4h-4zM52 56h8v4h-8zM52 76h4v4h-4zM40 108h4v4h-4zM44 116h8v4h-8z"/>
<path fill="#efefef" d="M52 24h8v4h-8zM52 44h4v4h-4zM48 80h4v4h-4zM56 80h4v4h-4zM48 112h4v4h-4z"/>
<path fill="#f2f2f2" d="M52 12h4v4h-4zM48 16h4v4h-4zM48 44h4v4h-4zM48 48h4v4h-4zM56 48h4v4h-4zM48 76h4v4h-4zM52 84h8v4h-8zM44 108h4v4h-4zM44 112h4v4h-4z"/>
<path fill="#f4f4f4" d="M48 12h4v4h-4zM56 16h4v4h-4zM52 20h4v4h-4zM52 52h8v4h-8zM52 80h4v4h-4z"/>
<path fill="#f7f7f7" d="M56 20h4v4h-4zM52 48h4v4h-4z"/>
<path fill="#fafafa" d="M52 16h4v4h-4z"/>
</g>
<g id="tb">
<path fill="#0b0b0b" d="M52 16h4v4h-4zM52 48h4v4h-4zM52 80h4v4h-4zM44 112h4v4h-4z"/>
<path fill="#0d0d0d" d="M56 20h4v4h-4zM48 48h4v4h-4zM56 52h4v4h-4zM48 80h4v4h-4zM44 108h4v4h-4zM48 112h4v4h-4z"/>
<path fill="#101010" d="M48 16h4v4h-4zM56 16h4v4h-4zM52 20h4v4h-4zM56 48h4v4h-4zM52 52h4v4h-4zM56 80h4v4h-4zM52 84h8v4h-8zM40 108h4v4h-4zM36 144h8v4h-8z"/>
<path fill="#131313" d="M48 12h4v4h-4zM48 44h4v4h-4zM48 76h4v4h-4zM40 112h4v4h-4zM44 116h8v4h-8zM32 140h8v4h-8z"/>
<path fill="#151515" d="M52 12h4v4h-4zM60 20h4v4h-4zM44 44h4v4h-4zM52 44h4v4h-4zM60 52h4v4h-4zM44 76h4v4h-4zM52 76h4v4h-4zM48 108h4v4h-4zM32 144h4v4h-4z"/>
<path fill="#181818" d="M44 12h4v4h-4zM48 20h4v4h-4zM52 24h8v4h-8zM48 52h4v4h-4zM52 56h8v4h-8zM44 80h4v4h-4zM48 84h4v4h-4zM60 84h4v4h-4zM52 88h4v4h-4zM40 104h4v4h-4zM52 112h4v4h-4zM40 140h4v4h-4zM36 148h8v4h-8z"/>
<path fill="#1b1b1b" d="M44 16h4v4h-4zM44 48h4v4h-4zM56 88h4v4h-4zM44 104h4v4h-4zM36 108h4v4h-4zM40 116h4v4h-4zM44 120h4v4h-4zM32 136h8v4h-8zM44 144h4v4h-4z"/>
<path fill="#1e1e1e" d="M44 8h8v4h-8zM60 16h4v4h-4zM52 28h4v4h-4zM44 40h8v4h-8zM60 48h4v4h-4zM52 60h4v4h-4zM44 72h8v4h-8zM48 92h4v4h-4zM36 104h4v4h-4zM52 116h4v4h-4zM40 120h4v4h-4z"/>
<path fill="#202020" d="M48 0h4v4h-4zM48 4h4v4h-4zM56 12h4v4h-4zM48 24h4v4h-4zM60 24h4v4h-4zM48 32h4v4h-4zM44 36h8v4h-8zM48 56h4v4h-4zM60 56h4v4h-4zM48 60h4v4h-4zM48 64h4v4h-4zM44 68h8v4h-8zM60 80h4v4h-4zM48 88h4v4h-4zM44 96h4v4h-4zM40 100h8v4h-8zM36 112h4v4h-4zM48 120h4v4h-4zM40 124h4v4h-4zM36 128h4v4h-4zM32 132h8v4h-8zM28 140h4v4h-4zM32 148h4v4h-4zM44 148h4v4h-4z"/>
<path fill="#232323" d="M44 4h4v4h-4zM52 8h4v4h-4zM48 28h4v4h-4zM40 44h4v4h-4zM56 44h4v4h-4zM40 76h4v4h-4zM52 92h4v4h-4zM36 124h4v4h-4zM32 128h4v4h-4zM28 136h4v4h-4z"/>
<path fill="#262626" d="M44 0h4v4h-4zM52 0h4v4h-4zM40 12h4v4h-4zM64 20h4v4h-4zM56 28h4v4h-4zM44 32h4v4h-4zM52 32h4v4h-4zM40 40h4v4h-4zM52 40h4v4h-4zM56 60h4v4h-4zM44 64h4v4h-4zM52 64h4v4h-4zM40 72h4v4h-4zM52 72h4v4h-4zM56 76h4v4h-4zM44 92h4v4h-4zM40 96h4v4h-4zM48 96h4v4h-4zM48 104h4v4h-4zM52 108h4v4h-4zM44 124h4v4h-4zM40 128h4v4h-4zM40 136h4v4h-4zM44 140h4v4h-4zM28 144h4v4h-4z"/>
<path fill="#282828" d="M52 4h4v4h-4zM40 8h4v4h-4zM52 36h4v4h-4zM64 52h4v4h-4zM44 84h4v4h-4zM60 88h4v4h-4zM36 100h4v4h-4zM36 120h4v4h-4zM28 132h4v4h-4zM40 132h4v4h-4zM36 152h4v4h-4zM28 172h4v4h-4z"/>
<path fill="#2b2b2b" d="M44 20h4v4h-4zM40 36h4v4h-4zM44 52h4v4h-4zM40 68h4v4h-4zM52 68h4v4h-4zM48 100h4v4h-4zM36 116h4v4h-4zM48 144h4v4h-4zM32 152h4v4h-4zM40 152h4v4h-4zM28 168h4v4h-4zM24 172h4v4h-4zM32 172h4v4h-4z"/>
<path fill="#2e2e2e" d="M40 4h4v4h-4zM44 28h4v4h-4zM44 60h4v4h-4zM40 80h4v4h-4zM64 84h4v4h-4zM44 88h4v4h-4zM32 104h4v4h-4zM32 108h4v4h-4zM56 112h4v4h-4zM52 120h4v4h-4zM32 124h4v4h-4zM48 148h4v4h-4zM24 168h4v4h-4z"/>
<path fill="#303030" d="M56 0h4v4h-4zM60 12h4v4h-4zM64 16h4v4h-4zM64 24h4v4h-4zM56 92h4v4h-4zM56 116h4v4h-4zM28 148h4v4h-4z"/>
<path fill="#333333" d="M56 8h4v4h-4zM44 24h4v4h-4zM60 28h4v4h-4zM40 32h4v4h-4zM56 32h4v4h-4zM56 40h4v4h-4zM40 48h4v4h-4zM44 56h4v4h-4zM64 56h4v4h-4zM40 64h4v4h-4zM56 64h4v4h-4zM40 92h4v4h-4zM36 96h4v4h-4zM52 96h4v4h-4zM48 124h4v4h-4zM28 128h4v4h-4zM44 128h4v4h-4zM32 156h4v4h-4zM20 168h4v4h-4zM32 168h4v4h-4zM20 172h4v4h-4zM36 172h4v4h-4zM28 176h8v4h-8z"/>
<path fill="#363636" d="M40 0h4v4h-4zM56 4h4v4h-4zM60 44h4v4h-4zM64 48h4v4h-4zM60 60h4v4h-4zM36 72h4v4h-4zM56 72h4v4h-4zM24 136h4v4h-4zM44 136h4v4h-4zM28 152h4v4h-4zM44 152h4v4h-4zM28 156h4v4h-4zM36 156h4v4h-4zM24 164h8v4h-8zM24 176h4v4h-4z"/>
<path fill="#383838" d="M40 16h4v4h-4zM56 36h4v4h-4zM36 40h4v4h-4zM32 100h4v4h-4zM52 104h4v4h-4zM44 132h4v4h-4zM24 140h4v4h-4zM28 160h4v4h-4zM36 176h4v4h-4z"/>
<path fill="#3b3b3b" d="M56 68h4v4h-4zM60 76h4v4h-4zM52 100h4v4h-4zM24 132h4v4h-4zM48 140h4v4h-4zM32 160h4v4h-4zM32 164h4v4h-4z"/>
<path fill="#3e3e3e" d="M36 8h4v4h-4zM36 68h4v4h-4zM36 76h4v4h-4zM32 112h4v4h-4zM32 120h4v4h-4zM24 160h4v4h-4zM20 164h4v4h-4zM36 168h4v4h-4zM20 176h4v4h-4z"/>
<path fill="#404040" d="M60 0h4v4h-4zM36 36h4v4h-4zM40 60h4v4h-4zM64 80h4v4h-4zM24 156h4v4h-4zM40 156h4v4h-4zM40 172h4v4h-4zM40 176h4v4h-4zM16 204h8v4h-8z"/>
<path fill="#434343" d="M36 4h4v4h-4zM68 20h4v4h-4zM40 28h4v4h-4zM36 44h4v4h-4zM40 88h4v4h-4zM64 88h4v4h-4zM56 108h4v4h-4zM28 124h4v4h-4zM36 160h4v4h-4zM16 168h4v4h-4zM16 172h4v4h-4zM28 180h8v4h-8zM12 204h4v4h-4zM20 208h8v4h-8z"/>
<path fill="#464646" d="M60 8h4v4h-4zM60 32h4v4h-4zM40 84h4v4h-4zM48 128h4v4h-4zM24 144h4v4h-4zM24 152h4v4h-4zM36 164h4v4h-4zM24 180h4v4h-4zM36 180h4v4h-4zM8 204h4v4h-4zM24 204h4v4h-4zM16 208h4v4h-4zM28 208h4v4h-4zM12 372h12v4h-12zM16 376h12v4h-12z"/>
<path fill="#484848" d="M36 12h4v4h-4zM32 116h4v4h-4zM20 160h4v4h-4zM8 200h12v4h-12zM28 340h4v4h-4zM28 344h12v4h-12zM24 372h4v4h-4zM12 376h4v4h-4z"/>
<path fill="#4b4b4b" d="M40 52h4v4h-4zM68 52h4v4h-4zM36 64h4v4h-4zM60 64h4v4h-4zM36 92h4v4h-4zM60 92h4v4h-4zM32 96h4v4h-4zM56 96h4v4h-4zM56 120h4v4h-4zM52 144h4v4h-4zM52 148h4v4h-4zM48 152h4v4h-4zM40 168h4v4h-4zM16 176h4v4h-4zM20 200h4v4h-4zM4 204h4v4h-4zM28 204h4v4h-4zM12 208h4v4h-4zM24 340h4v4h-4zM32 340h4v4h-4zM24 344h4v4h-4zM8 372h4v4h-4zM28 372h4v4h-4zM28 376h4v4h-4z"/>
<path fill="#4e4e4e" d="M60 4h4v4h-4zM64 28h4v4h-4zM60 40h4v4h-4zM52 124h4v4h-4zM24 128h4v4h-4zM24 148h4v4h-4zM20 180h4v4h-4zM40 180h4v4h-4zM4 200h4v4h-4zM8 208h4v4h-4zM32 208h4v4h-4zM24 212h8v4h-8zM20 340h4v4h-4zM36 340h4v4h-4zM40 344h4v4h-4zM8 376h4v4h-4z"/>
<path fill="#515151" d="M36 32h4v4h-4zM40 56h4v4h-4zM28 104h4v4h-4zM48 136h4v4h-4zM44 156h4v4h-4zM40 160h4v4h-4zM16 164h4v4h-4zM24 200h4v4h-4zM0 204h4v4h-4zM32 212h4v4h-4zM20 344h4v4h-4zM32 372h4v4h-4zM32 376h4v4h-4z"/>
<path fill="#535353" d="M64 12h4v4h-4zM40 20h4v4h-4zM68 24h4v4h-4zM60 36h4v4h-4zM60 112h4v4h-4zM60 116h4v4h-4zM48 132h4v4h-4zM20 156h4v4h-4zM40 164h4v4h-4zM44 176h4v4h-4zM0 200h4v4h-4zM4 208h4v4h-4zM20 212h4v4h-4zM36 212h4v4h-4zM12 236h8v4h-8zM16 240h12v4h-12zM32 312h12v4h-12zM16 340h4v4h-4zM40 340h4v4h-4zM16 368h4v4h-4zM4 372h4v4h-4zM20 380h4v4h-4zM4 400h12v4h-12z"/>
<path fill="#565656" d="M36 0h4v4h-4zM68 16h4v4h-4zM40 24h4v4h-4zM64 60h4v4h-4zM60 72h4v4h-4zM36 80h4v4h-4zM68 84h4v4h-4zM28 108h4v4h-4zM44 172h4v4h-4zM16 180h4v4h-4zM28 184h12v4h-12zM8 196h12v4h-12zM32 204h4v4h-4zM136 204h4v4h-4zM36 208h4v4h-4zM16 212h4v4h-4zM8 236h4v4h-4zM20 236h4v4h-4zM12 240h4v4h-4zM28 240h4v4h-4zM44 312h4v4h-4zM44 344h4v4h-4zM28 348h12v4h-12zM12 368h4v4h-4zM20 368h4v4h-4zM4 376h4v4h-4zM16 380h4v4h-4zM24 380h4v4h-4zM0 400h4v4h-4zM16 400h4v4h-4z"/>
<path fill="#595959" d="M64 44h4v4h-4zM12 172h4v4h-4zM44 180h4v4h-4zM24 184h4v4h-4zM20 196h4v4h-4zM28 200h4v4h-4zM136 200h4v4h-4zM4 236h4v4h-4zM24 236h4v4h-4zM8 240h4v4h-4zM24 244h12v4h-12zM32 308h8v4h-8zM28 312h4v4h-4zM40 316h8v4h-8zM24 336h4v4h-4zM44 340h4v4h-4zM16 344h4v4h-4zM8 368h4v4h-4zM24 368h4v4h-4zM36 372h4v4h-4zM36 376h4v4h-4zM12 380h4v4h-4zM28 380h4v4h-4z"/>
<path fill="#5b5b5b" d="M68 56h4v4h-4zM60 68h4v4h-4zM32 72h4v4h-4zM28 100h4v4h-4zM56 104h4v4h-4zM20 136h4v4h-4zM12 168h4v4h-4zM20 184h4v4h-4zM4 196h4v4h-4zM0 208h4v4h-4zM12 212h4v4h-4zM40 212h4v4h-4zM8 232h8v4h-8zM32 240h4v4h-4zM20 244h4v4h-4zM36 276h8v4h-8zM28 308h4v4h-4zM40 308h4v4h-4zM48 312h4v4h-4zM36 316h4v4h-4zM20 336h4v4h-4zM28 336h4v4h-4zM12 340h4v4h-4zM24 348h4v4h-4zM40 348h4v4h-4zM4 368h4v4h-4zM28 368h4v4h-4zM0 372h4v4h-4zM32 380h4v4h-4zM20 400h4v4h-4z"/>
<path fill="#5e5e5e" d="M36 48h4v4h-4zM68 48h4v4h-4zM12 176h4v4h-4zM40 184h4v4h-4zM24 196h4v4h-4zM132 204h4v4h-4zM40 208h4v4h-4zM28 216h12v4h-12zM4 232h4v4h-4zM16 232h4v4h-4zM0 236h4v4h-4zM28 236h4v4h-4zM4 240h4v4h-4zM16 244h4v4h-4zM36 244h4v4h-4zM32 272h8v4h-8zM32 276h4v4h-4zM44 276h4v4h-4zM24 308h4v4h-4zM44 308h4v4h-4zM24 312h4v4h-4zM32 316h4v4h-4zM48 316h4v4h-4zM16 336h4v4h-4zM32 336h4v4h-4zM48 344h4v4h-4zM8 380h4v4h-4zM24 400h4v4h-4zM136 400h4v4h-4z"/>
<path fill="#616161" d="M32 40h4v4h-4zM56 100h4v4h-4zM20 140h4v4h-4zM16 160h4v4h-4zM16 184h4v4h-4zM16 192h4v4h-4zM0 196h4v4h-4zM132 200h4v4h-4zM36 204h4v4h-4zM136 208h4v4h-4zM8 212h4v4h-4zM24 216h4v4h-4zM40 216h4v4h-4zM0 232h4v4h-4zM20 232h4v4h-4zM0 240h4v4h-4zM36 240h4v4h-4zM12 244h4v4h-4zM40 244h4v4h-4zM24 272h8v4h-8zM40 272h4v4h-4zM28 276h4v4h-4zM48 276h4v4h-4zM44 280h8v4h-8zM52 312h4v4h-4zM36 336h4v4h-4zM48 340h4v4h-4zM12 344h4v4h-4zM20 348h4v4h-4zM44 348h4v4h-4zM32 368h4v4h-4zM40 372h4v4h-4zM0 376h4v4h-4zM40 376h4v4h-4z"/>
<path fill="#636363" d="M36 16h4v4h-4zM32 68h4v4h-4zM32 76h4v4h-4zM28 120h4v4h-4zM52 140h4v4h-4zM20 188h12v4h-12zM12 192h4v4h-4zM20 192h4v4h-4zM32 200h4v4h-4zM44 212h4v4h-4zM20 216h4v4h-4zM136 232h4v4h-4zM32 236h4v4h-4zM136 236h4v4h-4zM28 248h12v4h-12zM20 272h4v4h-4zM40 280h4v4h-4zM52 280h4v4h-4zM20 308h4v4h-4zM48 308h4v4h-4zM20 312h4v4h-4zM28 316h4v4h-4zM52 316h4v4h-4zM12 336h4v4h-4zM8 340h4v4h-4zM0 368h4v4h-4zM36 380h4v4h-4zM28 400h4v4h-4zM132 400h4v4h-4z"/>
<path fill="#666666" d="M32 8h4v4h-4zM36 60h4v4h-4zM64 76h4v4h-4zM20 132h4v4h-4zM44 168h4v4h-4zM12 180h4v4h-4zM16 188h4v4h-4zM32 188h4v4h-4zM8 192h4v4h-4zM24 192h4v4h-4zM28 196h4v4h-4zM136 196h4v4h-4zM128 204h4v4h-4zM132 208h4v4h-4zM4 212h4v4h-4zM44 216h4v4h-4zM24 232h4v4h-4zM8 244h4v4h-4zM24 248h4v4h-4zM40 248h4v4h-4zM24 268h4v4h-4zM44 272h4v4h-4zM24 276h4v4h-4zM52 276h4v4h-4zM36 280h4v4h-4zM24 304h12v4h-12zM40 336h4v4h-4zM52 344h4v4h-4zM16 348h4v4h-4zM36 368h4v4h-4zM136 372h4v4h-4zM4 380h4v4h-4z"/>
<path fill="#696969" d="M64 0h4v4h-4zM32 36h4v4h-4zM32 44h4v4h-4zM28 112h4v4h-4zM52 152h4v4h-4zM44 160h4v4h-4zM48 176h4v4h-4zM48 180h4v4h-4zM44 184h4v4h-4zM36 188h4v4h-4zM28 192h4v4h-4zM128 200h4v4h-4zM44 208h4v4h-4zM0 212h4v4h-4zM16 216h4v4h-4zM0 228h16v4h-16zM132 232h4v4h-4zM132 236h4v4h-4zM40 240h4v4h-4zM136 240h4v4h-4zM4 244h4v4h-4zM44 244h4v4h-4zM20 248h4v4h-4zM44 248h4v4h-4zM16 268h8v4h-8zM28 268h8v4h-8zM16 272h4v4h-4zM20 276h4v4h-4zM32 280h4v4h-4zM56 280h4v4h-4zM20 304h4v4h-4zM36 304h4v4h-4zM16 308h4v4h-4zM52 308h4v4h-4zM56 312h4v4h-4zM24 316h4v4h-4zM8 336h4v4h-4zM44 336h4v4h-4zM52 340h4v4h-4zM8 344h4v4h-4zM48 348h4v4h-4zM12 364h4v4h-4zM44 372h4v4h-4zM44 376h4v4h-4zM4 396h8v4h-8z"/>
<path fill="#6b6b6b" d="M72 20h4v4h-4zM36 88h4v4h-4zM20 144h4v4h-4zM20 152h4v4h-4zM12 164h4v4h-4zM8 172h4v4h-4zM12 184h4v4h-4zM12 188h4v4h-4zM32 196h4v4h-4zM40 204h4v4h-4zM12 216h4v4h-4zM32 220h4v4h-4zM16 228h4v4h-4zM28 232h4v4h-4zM36 236h4v4h-4zM12 268h4v4h-4zM36 268h4v4h-4zM12 272h4v4h-4zM48 272h4v4h-4zM56 276h4v4h-4zM48 284h8v4h-8zM16 304h4v4h-4zM40 304h4v4h-4zM16 312h4v4h-4zM56 316h4v4h-4zM40 320h8v4h-8zM32 352h8v4h-8zM4 364h8v4h-8zM16 364h8v4h-8zM40 368h4v4h-4zM136 368h4v4h-4zM136 376h4v4h-4zM0 380h4v4h-4zM40 380h4v4h-4zM16 384h16v4h-16zM0 396h4v4h-4zM12 396h4v4h-4zM32 400h4v4h-4z"/>
<path fill="#6e6e6e" d="M32 4h4v4h-4zM64 8h4v4h-4zM32 12h4v4h-4zM36 28h4v4h-4zM64 32h4v4h-4zM68 80h4v4h-4zM36 84h4v4h-4zM60 108h4v4h-4zM24 124h4v4h-4zM48 156h4v4h-4zM44 164h4v4h-4zM8 168h4v4h-4zM40 188h4v4h-4zM4 192h4v4h-4zM32 192h4v4h-4zM132 196h4v4h-4zM36 200h4v4h-4zM124 204h4v4h-4zM128 208h4v4h-4zM48 212h4v4h-4zM136 212h4v4h-4zM8 216h4v4h-4zM48 216h4v4h-4zM28 220h4v4h-4zM36 220h8v4h-8zM20 228h4v4h-4zM136 228h4v4h-4zM128 236h4v4h-4zM44 240h4v4h-4zM132 240h4v4h-4zM0 244h4v4h-4zM48 244h4v4h-4zM16 248h4v4h-4zM48 248h4v4h-4zM8 268h4v4h-4zM16 276h4v4h-4zM28 280h4v4h-4zM60 280h4v4h-4zM44 284h4v4h-4zM44 304h4v4h-4zM12 308h4v4h-4zM56 308h4v4h-4zM36 320h4v4h-4zM48 320h4v4h-4zM48 336h4v4h-4zM4 340h4v4h-4zM12 348h4v4h-4zM28 352h4v4h-4zM40 352h4v4h-4zM24 364h4v4h-4zM12 384h4v4h-4zM32 384h4v4h-4zM16 396h4v4h-4zM136 396h4v4h-4zM128 400h4v4h-4z"/>
<path fill="#717171" d="M68 88h4v4h-4zM52 128h4v4h-4zM56 148h4v4h-4zM48 172h4v4h-4zM8 176h4v4h-4zM20 220h8v4h-8zM24 228h4v4h-4zM132 228h4v4h-4zM32 232h4v4h-4zM128 232h4v4h-4zM40 236h4v4h-4zM12 248h4v4h-4zM32 252h16v4h-16zM16 264h4v4h-4zM40 268h4v4h-4zM8 272h4v4h-4zM52 272h4v4h-4zM24 280h4v4h-4zM40 284h4v4h-4zM56 284h4v4h-4zM12 304h4v4h-4zM60 312h4v4h-4zM20 316h4v4h-4zM32 320h4v4h-4zM52 320h4v4h-4zM12 332h16v4h-16zM4 336h4v4h-4zM56 340h4v4h-4zM56 344h4v4h-4zM52 348h4v4h-4zM24 352h4v4h-4zM0 364h4v4h-4zM28 364h4v4h-4zM132 372h4v4h-4zM8 384h4v4h-4zM20 396h4v4h-4zM36 400h4v4h-4z"/>
<path fill="#737373" d="M32 92h4v4h-4zM24 104h4v4h-4zM28 116h4v4h-4zM60 120h4v4h-4zM48 184h4v4h-4zM8 188h4v4h-4zM0 192h4v4h-4zM36 192h4v4h-4zM124 200h4v4h-4zM132 212h4v4h-4zM4 216h4v4h-4zM16 220h4v4h-4zM44 220h4v4h-4zM0 224h20v4h-20zM128 240h4v4h-4zM136 244h4v4h-4zM8 248h4v4h-4zM52 248h4v4h-4zM28 252h4v4h-4zM8 264h8v4h-8zM20 264h12v4h-12zM4 268h4v4h-4zM44 268h4v4h-4zM12 276h4v4h-4zM60 276h4v4h-4zM36 284h4v4h-4zM24 300h4v4h-4zM48 304h4v4h-4zM12 312h4v4h-4zM60 316h4v4h-4zM28 332h4v4h-4zM52 336h4v4h-4zM4 344h4v4h-4zM8 348h4v4h-4zM20 352h4v4h-4zM44 352h4v4h-4zM32 364h4v4h-4zM44 368h4v4h-4zM48 372h4v4h-4zM48 376h4v4h-4zM44 380h4v4h-4zM136 380h4v4h-4zM36 384h4v4h-4zM24 396h4v4h-4zM132 396h4v4h-4z"/>
<path fill="#767676" d="M64 4h4v4h-4zM64 40h4v4h-4zM36 52h4v4h-4zM32 64h4v4h-4zM56 124h4v4h-4zM56 144h4v4h-4zM20 148h4v4h-4zM16 156h4v4h-4zM4 168h4v4h-4zM4 172h4v4h-4zM8 180h4v4h-4zM52 180h4v4h-4zM8 184h4v4h-4zM44 188h4v4h-4zM36 196h4v4h-4zM44 204h4v4h-4zM48 208h4v4h-4zM124 208h4v4h-4zM0 216h4v4h-4zM8 220h8v4h-8zM20 224h16v4h-16zM136 224h4v4h-4zM28 228h4v4h-4zM36 232h4v4h-4zM44 236h4v4h-4zM124 236h4v4h-4zM48 240h4v4h-4zM52 244h4v4h-4zM24 252h4v4h-4zM48 252h4v4h-4zM4 264h4v4h-4zM32 264h4v4h-4zM4 272h4v4h-4zM56 272h4v4h-4zM20 280h4v4h-4zM32 284h4v4h-4zM60 284h4v4h-4zM16 300h8v4h-8zM28 300h8v4h-8zM8 304h4v4h-4zM52 304h4v4h-4zM8 308h4v4h-4zM60 308h4v4h-4zM16 316h4v4h-4zM28 320h4v4h-4zM56 320h4v4h-4zM8 332h4v4h-4zM32 332h4v4h-4zM16 352h4v4h-4zM36 364h4v4h-4zM132 368h4v4h-4zM132 376h4v4h-4zM4 384h4v4h-4zM28 396h4v4h-4z"/>
<path fill="#797979" d="M68 28h4v4h-4zM72 52h4v4h-4zM64 64h4v4h-4zM32 80h4v4h-4zM64 92h4v4h-4zM28 96h4v4h-4zM60 96h4v4h-4zM24 108h4v4h-4zM52 136h4v4h-4zM40 192h4v4h-4zM136 192h4v4h-4zM128 196h4v4h-4zM40 200h4v4h-4zM0 220h8v4h-8zM48 220h4v4h-4zM36 224h4v4h-4zM32 228h4v4h-4zM128 228h4v4h-4zM124 232h4v4h-4zM132 244h4v4h-4zM4 248h4v4h-4zM20 252h4v4h-4zM52 252h4v4h-4zM36 264h4v4h-4zM0 268h4v4h-4zM48 268h4v4h-4zM8 276h4v4h-4zM64 280h4v4h-4zM48 288h8v4h-8zM12 300h4v4h-4zM36 300h4v4h-4zM64 312h4v4h-4zM24 320h4v4h-4zM36 332h4v4h-4zM0 336h4v4h-4zM0 340h4v4h-4zM48 352h4v4h-4zM40 364h4v4h-4zM136 364h4v4h-4zM48 368h4v4h-4zM40 384h4v4h-4zM32 396h4v4h-4zM128 396h4v4h-4zM40 400h4v4h-4zM124 400h4v4h-4z"/>
<path fill="#7b7b7b" d="M68 12h4v4h-4zM36 56h4v4h-4zM20 128h4v4h-4zM0 168h4v4h-4zM0 172h4v4h-4zM4 176h4v4h-4zM52 176h4v4h-4zM52 184h4v4h-4zM4 188h4v4h-4zM52 212h4v4h-4zM128 212h4v4h-4zM52 216h4v4h-4zM136 216h4v4h-4zM40 224h4v4h-4zM132 224h4v4h-4zM36 228h4v4h-4zM40 232h4v4h-4zM124 240h4v4h-4zM0 248h4v4h-4zM56 248h4v4h-4zM16 252h4v4h-4zM32 256h16v4h-16zM8 260h16v4h-16zM0 264h4v4h-4zM40 264h4v4h-4zM52 268h4v4h-4zM0 272h4v4h-4zM64 276h4v4h-4zM16 280h4v4h-4zM28 284h4v4h-4zM64 284h4v4h-4zM44 288h4v4h-4zM56 288h4v4h-4zM40 300h4v4h-4zM56 304h4v4h-4zM8 312h4v4h-4zM4 332h4v4h-4zM40 332h4v4h-4zM56 336h4v4h-4zM60 340h4v4h-4zM0 344h4v4h-4zM4 348h4v4h-4zM56 348h4v4h-4zM12 352h4v4h-4zM4 360h16v4h-16zM0 384h4v4h-4zM12 388h20v4h-20zM0 392h20v4h-20z"/>
<path fill="#7e7e7e" d="M72 16h4v4h-4zM36 20h4v4h-4zM32 32h4v4h-4zM64 36h4v4h-4zM28 72h4v4h-4zM52 132h4v4h-4zM16 136h4v4h-4zM16 140h4v4h-4zM8 164h4v4h-4zM48 188h4v4h-4zM40 196h4v4h-4zM120 204h4v4h-4zM132 216h4v4h-4zM136 220h4v4h-4zM44 224h4v4h-4zM40 228h4v4h-4zM48 236h4v4h-4zM52 240h4v4h-4zM56 244h4v4h-4zM128 244h4v4h-4zM8 252h8v4h-8zM20 256h12v4h-12zM48 256h4v4h-4zM4 260h4v4h-4zM24 260h12v4h-12zM44 264h4v4h-4zM136 264h4v4h-4zM136 268h4v4h-4zM60 272h4v4h-4zM4 276h4v4h-4zM24 284h4v4h-4zM40 288h4v4h-4zM60 288h4v4h-4zM8 300h4v4h-4zM44 300h4v4h-4zM4 304h4v4h-4zM4 308h4v4h-4zM64 308h4v4h-4zM12 316h4v4h-4zM64 316h4v4h-4zM20 320h4v4h-4zM60 320h4v4h-4zM40 324h12v4h-12zM44 332h8v4h-8zM60 344h4v4h-4zM24 356h20v4h-20zM20 360h12v4h-12zM44 364h4v4h-4zM52 372h4v4h-4zM128 372h4v4h-4zM48 380h4v4h-4zM132 380h4v4h-4zM136 384h4v4h-4zM4 388h8v4h-8zM32 388h4v4h-4zM20 392h8v4h-8zM136 392h4v4h-4zM36 396h4v4h-4z"/>
<path fill="#818181" d="M32 0h4v4h-4zM36 24h4v4h-4zM72 24h4v4h-4zM32 48h4v4h-4zM28 76h4v4h-4zM24 100h4v4h-4zM64 116h4v4h-4zM12 160h4v4h-4zM136 168h4v4h-4zM136 172h4v4h-4zM0 176h4v4h-4zM4 180h4v4h-4zM4 184h4v4h-4zM0 188h4v4h-4zM44 192h4v4h-4zM132 192h4v4h-4zM120 208h4v4h-4zM124 212h4v4h-4zM132 220h4v4h-4zM128 224h4v4h-4zM124 228h4v4h-4zM44 232h4v4h-4zM120 236h4v4h-4zM136 248h4v4h-4zM4 252h4v4h-4zM56 252h4v4h-4zM8 256h12v4h-12zM52 256h4v4h-4zM0 260h4v4h-4zM36 260h12v4h-12zM48 264h4v4h-4zM56 268h4v4h-4zM136 272h4v4h-4zM12 280h4v4h-4zM68 280h4v4h-4zM20 284h4v4h-4zM36 288h4v4h-4zM16 296h12v4h-12zM4 300h4v4h-4zM48 300h4v4h-4zM60 304h4v4h-4zM32 324h8v4h-8zM52 324h4v4h-4zM12 328h16v4h-16zM0 332h4v4h-4zM8 352h4v4h-4zM52 352h4v4h-4zM12 356h12v4h-12zM44 356h4v4h-4zM0 360h4v4h-4zM32 360h8v4h-8zM132 364h4v4h-4zM128 368h4v4h-4zM52 376h4v4h-4zM128 376h4v4h-4zM44 384h4v4h-4zM0 388h4v4h-4zM36 388h4v4h-4zM28 392h8v4h-8zM132 392h4v4h-4zM44 400h4v4h-4z"/>
<path fill="#848484" d="M28 40h4v4h-4zM28 44h4v4h-4zM68 60h4v4h-4zM64 112h4v4h-4zM48 168h4v4h-4zM124 196h4v4h-4zM44 200h4v4h-4zM120 200h4v4h-4zM48 204h4v4h-4zM128 216h4v4h-4zM52 220h4v4h-4zM48 224h4v4h-4zM44 228h4v4h-4zM120 232h4v4h-4zM120 240h4v4h-4zM60 248h4v4h-4zM132 248h4v4h-4zM0 252h4v4h-4zM0 256h8v4h-8zM48 260h4v4h-4zM136 260h4v4h-4zM52 264h4v4h-4zM64 272h4v4h-4zM0 276h4v4h-4zM8 280h4v4h-4zM28 288h8v4h-8zM48 292h8v4h-8zM12 296h4v4h-4zM28 296h8v4h-8zM52 300h4v4h-4zM4 312h4v4h-4zM68 312h4v4h-4zM8 316h4v4h-4zM16 320h4v4h-4zM28 324h4v4h-4zM8 328h4v4h-4zM28 328h8v4h-8zM52 332h4v4h-4zM60 336h4v4h-4zM136 336h4v4h-4zM136 340h4v4h-4zM8 356h4v4h-4zM40 360h4v4h-4zM48 364h4v4h-4zM52 368h4v4h-4zM136 388h4v4h-4zM36 392h4v4h-4zM40 396h4v4h-4zM124 396h4v4h-4z"/>
<path fill="#868686" d="M28 8h4v4h-4zM64 72h4v4h-4zM72 84h4v4h-4zM48 160h4v4h-4zM4 164h4v4h-4zM132 168h4v4h-4zM132 172h4v4h-4zM136 176h4v4h-4zM56 180h4v4h-4zM136 188h4v4h-4zM44 196h4v4h-4zM116 204h4v4h-4zM52 208h4v4h-4zM56 216h4v4h-4zM128 220h4v4h-4zM48 232h4v4h-4zM52 236h4v4h-4zM116 236h4v4h-4zM60 244h4v4h-4zM136 252h4v4h-4zM56 256h4v4h-4zM52 260h4v4h-4zM132 264h4v4h-4zM60 268h4v4h-4zM132 268h4v4h-4zM68 276h4v4h-4zM16 284h4v4h-4zM68 284h4v4h-4zM24 288h4v4h-4zM64 288h4v4h-4zM36 292h12v4h-12zM56 292h4v4h-4zM8 296h4v4h-4zM36 296h12v4h-12zM56 300h4v4h-4zM0 304h4v4h-4zM64 304h4v4h-4zM0 308h4v4h-4zM68 308h4v4h-4zM12 320h4v4h-4zM20 324h8v4h-8zM56 324h4v4h-4zM4 328h4v4h-4zM36 328h16v4h-16zM56 332h4v4h-4zM0 348h4v4h-4zM60 348h4v4h-4zM4 352h4v4h-4zM4 356h4v4h-4zM48 356h4v4h-4zM44 360h4v4h-4zM136 360h4v4h-4zM132 384h4v4h-4zM40 388h4v4h-4zM128 392h4v4h-4zM120 400h4v4h-4z"/>
<path fill="#898989" d="M28 12h4v4h-4zM32 16h4v4h-4zM68 44h4v4h-4zM28 68h4v4h-4zM16 144h4v4h-4zM0 180h4v4h-4zM0 184h4v4h-4zM52 188h4v4h-4zM48 192h4v4h-4zM128 192h4v4h-4zM116 208h4v4h-4zM56 212h4v4h-4zM124 224h4v4h-4zM48 228h4v4h-4zM56 240h4v4h-4zM116 240h4v4h-4zM64 244h4v4h-4zM124 244h4v4h-4zM64 248h4v4h-4zM128 248h4v4h-4zM60 252h4v4h-4zM136 256h4v4h-4zM132 260h4v4h-4zM56 264h4v4h-4zM132 272h4v4h-4zM4 280h4v4h-4zM12 284h4v4h-4zM20 288h4v4h-4zM16 292h20v4h-20zM60 292h4v4h-4zM4 296h4v4h-4zM48 296h12v4h-12zM0 300h4v4h-4zM60 300h4v4h-4zM68 316h4v4h-4zM64 320h4v4h-4zM12 324h8v4h-8zM52 328h4v4h-4zM64 340h4v4h-4zM136 344h4v4h-4zM56 352h4v4h-4zM0 356h4v4h-4zM48 360h4v4h-4zM52 380h4v4h-4zM128 380h4v4h-4zM48 384h4v4h-4zM132 388h4v4h-4zM40 392h4v4h-4z"/>
<path fill="#8c8c8c" d="M72 48h4v4h-4zM72 56h4v4h-4zM64 68h4v4h-4zM24 76h4v4h-4zM20 104h4v4h-4zM60 104h4v4h-4zM20 108h4v4h-4zM24 112h4v4h-4zM24 120h4v4h-4zM16 132h4v4h-4zM12 140h4v4h-4zM56 152h4v4h-4zM0 164h4v4h-4zM48 164h4v4h-4zM52 172h4v4h-4zM132 176h4v4h-4zM56 184h4v4h-4zM124 216h4v4h-4zM120 228h4v4h-4zM116 232h4v4h-4zM112 236h4v4h-4zM68 244h4v4h-4zM132 252h4v4h-4zM132 256h4v4h-4zM56 260h4v4h-4zM128 264h4v4h-4zM128 268h4v4h-4zM8 284h4v4h-4zM12 288h8v4h-8zM8 292h8v4h-8zM64 292h4v4h-4zM60 296h4v4h-4zM64 300h4v4h-4zM0 312h4v4h-4zM4 316h4v4h-4zM8 320h4v4h-4zM8 324h4v4h-4zM60 324h4v4h-4zM56 328h4v4h-4zM60 332h4v4h-4zM136 332h4v4h-4zM0 352h4v4h-4zM52 356h4v4h-4zM52 364h4v4h-4zM128 364h4v4h-4zM44 388h4v4h-4zM44 396h4v4h-4zM48 400h4v4h-4z"/>
<path fill="#8e8e8e" d="M24 8h4v4h-4zM28 36h4v4h-4zM24 40h4v4h-4zM24 44h4v4h-4zM32 60h4v4h-4zM24 72h4v4h-4zM12 136h4v4h-4zM60 148h4v4h-4zM16 152h4v4h-4zM128 168h4v4h-4zM128 172h4v4h-4zM56 176h4v4h-4zM136 180h4v4h-4zM136 184h4v4h-4zM132 188h4v4h-4zM48 196h4v4h-4zM48 200h4v4h-4zM112 204h4v4h-4zM120 212h4v4h-4zM60 216h4v4h-4zM56 220h4v4h-4zM124 220h4v4h-4zM52 224h4v4h-4zM108 236h4v4h-4zM60 240h4v4h-4zM108 240h8v4h-8zM72 244h12v4h-12zM120 244h4v4h-4zM68 248h4v4h-4zM60 264h4v4h-4zM124 268h4v4h-4zM68 272h4v4h-4zM128 272h4v4h-4zM72 276h4v4h-4zM136 276h4v4h-4zM72 280h4v4h-4zM68 288h4v4h-4zM68 304h4v4h-4zM136 304h4v4h-4zM0 328h4v4h-4zM64 336h4v4h-4zM64 344h4v4h-4zM136 348h4v4h-4zM136 356h4v4h-4zM52 360h4v4h-4zM132 360h4v4h-4zM56 368h4v4h-4zM56 372h4v4h-4zM128 384h4v4h-4zM128 388h4v4h-4zM44 392h4v4h-4zM124 392h4v4h-4z"/>
<path fill="#919191" d="M28 4h4v4h-4zM24 12h4v4h-4zM76 20h4v4h-4zM28 80h4v4h-4zM32 84h4v4h-4zM32 88h4v4h-4zM60 100h4v4h-4zM16 104h4v4h-4zM8 140h4v4h-4zM52 156h4v4h-4zM136 164h4v4h-4zM116 200h4v4h-4zM112 208h4v4h-4zM60 212h4v4h-4zM52 232h4v4h-4zM112 232h4v4h-4zM104 236h4v4h-4zM64 240h4v4h-4zM88 240h20v4h-20zM84 244h8v4h-8zM72 248h4v4h-4zM64 252h4v4h-4zM128 252h4v4h-4zM60 256h4v4h-4zM60 260h4v4h-4zM128 260h4v4h-4zM124 264h4v4h-4zM64 268h4v4h-4zM116 268h8v4h-8zM124 272h4v4h-4zM76 276h4v4h-4zM0 280h4v4h-4zM4 284h4v4h-4zM8 288h4v4h-4zM4 292h4v4h-4zM0 296h4v4h-4zM64 296h4v4h-4zM136 300h4v4h-4zM136 308h4v4h-4zM72 312h4v4h-4zM4 320h4v4h-4zM4 324h4v4h-4zM60 328h4v4h-4zM132 336h4v4h-4zM124 372h4v4h-4zM56 376h4v4h-4zM124 376h4v4h-4z"/>
<path fill="#949494" d="M68 0h4v4h-4zM8 8h16v4h-16zM32 28h4v4h-4zM4 40h20v4h-20zM20 44h4v4h-4zM28 48h4v4h-4zM0 72h24v4h-24zM16 76h8v4h-8zM0 104h16v4h-16zM136 104h4v4h-4zM16 108h4v4h-4zM0 136h12v4h-12zM0 140h8v4h-8zM56 140h4v4h-4zM8 160h4v4h-4zM124 168h4v4h-4zM124 172h4v4h-4zM128 176h4v4h-4zM132 180h4v4h-4zM132 184h4v4h-4zM52 192h4v4h-4zM124 192h4v4h-4zM120 196h4v4h-4zM56 208h4v4h-4zM108 208h4v4h-4zM64 216h4v4h-4zM60 220h4v4h-4zM52 228h4v4h-4zM116 228h4v4h-4zM56 236h4v4h-4zM100 236h4v4h-4zM68 240h4v4h-4zM80 240h8v4h-8zM92 244h4v4h-4zM116 244h4v4h-4zM76 248h4v4h-4zM124 248h4v4h-4zM128 256h4v4h-4zM120 264h4v4h-4zM108 268h8v4h-8zM72 272h4v4h-4zM88 272h36v4h-36zM80 276h4v4h-4zM132 276h4v4h-4zM76 280h4v4h-4zM72 284h4v4h-4zM4 288h4v4h-4zM68 292h4v4h-4zM68 300h4v4h-4zM132 304h4v4h-4zM72 308h4v4h-4zM0 316h4v4h-4zM68 320h4v4h-4zM64 324h4v4h-4zM64 332h4v4h-4zM132 340h4v4h-4zM136 352h4v4h-4zM56 356h4v4h-4zM56 364h4v4h-4zM124 368h4v4h-4zM48 388h4v4h-4zM48 396h4v4h-4zM120 396h4v4h-4z"/>
<path fill="#969696" d="M0 4h12v4h-12zM4 8h4v4h-4zM20 12h4v4h-4zM0 40h4v4h-4zM136 72h4v4h-4zM12 76h4v4h-4zM28 92h4v4h-4zM132 104h4v4h-4zM12 108h4v4h-4zM24 116h4v4h-4zM20 124h4v4h-4zM128 136h12v4h-12zM128 140h12v4h-12zM12 144h4v4h-4zM16 148h4v4h-4zM12 156h4v4h-4zM132 164h4v4h-4zM120 172h4v4h-4zM60 180h4v4h-4zM60 184h4v4h-4zM56 188h4v4h-4zM128 188h4v4h-4zM52 204h4v4h-4zM108 204h4v4h-4zM104 208h4v4h-4zM64 212h4v4h-4zM116 212h4v4h-4zM68 216h4v4h-4zM120 224h4v4h-4zM108 232h4v4h-4zM96 236h4v4h-4zM72 240h8v4h-8zM96 244h8v4h-8zM112 244h4v4h-4zM80 248h4v4h-4zM68 252h4v4h-4zM124 260h4v4h-4zM116 264h4v4h-4zM100 268h8v4h-8zM76 272h12v4h-12zM84 276h8v4h-8zM128 276h4v4h-4zM0 292h4v4h-4zM68 296h4v4h-4zM132 300h4v4h-4zM0 324h4v4h-4zM68 340h4v4h-4zM60 352h4v4h-4zM124 380h4v4h-4zM52 384h4v4h-4zM124 388h4v4h-4zM116 400h4v4h-4z"/>
<path fill="#999999" d="M12 4h4v4h-4zM132 4h8v4h-8zM0 8h4v4h-4zM28 16h4v4h-4zM0 36h8v4h-8zM136 36h4v4h-4zM136 40h4v4h-4zM16 44h4v4h-4zM32 52h4v4h-4zM76 52h4v4h-4zM128 72h8v4h-8zM8 76h4v4h-4zM128 104h4v4h-4zM0 108h12v4h-12zM20 112h4v4h-4zM124 136h4v4h-4zM124 140h4v4h-4zM124 176h4v4h-4zM128 180h4v4h-4zM68 212h4v4h-4zM112 212h4v4h-4zM72 216h4v4h-4zM120 216h4v4h-4zM56 224h4v4h-4zM60 236h4v4h-4zM104 244h8v4h-8zM120 248h4v4h-4zM124 252h4v4h-4zM64 256h4v4h-4zM64 264h4v4h-4zM68 268h4v4h-4zM96 268h4v4h-4zM92 276h4v4h-4zM80 280h4v4h-4zM136 280h4v4h-4zM0 284h4v4h-4zM136 296h4v4h-4zM128 300h4v4h-4zM72 304h4v4h-4zM128 304h4v4h-4zM76 308h4v4h-4zM132 308h4v4h-4zM76 312h4v4h-4zM136 312h4v4h-4zM72 316h4v4h-4zM0 320h4v4h-4zM64 328h4v4h-4zM136 328h4v4h-4zM132 332h4v4h-4zM128 336h4v4h-4zM68 344h4v4h-4zM132 344h4v4h-4zM64 348h4v4h-4zM132 356h4v4h-4zM56 360h4v4h-4zM60 372h4v4h-4zM124 384h4v4h-4zM48 392h4v4h-4z"/>
<path fill="#9c9c9c" d="M16 4h4v4h-4zM128 4h4v4h-4zM68 8h4v4h-4zM16 12h4v4h-4zM8 36h4v4h-4zM132 36h4v4h-4zM128 40h8v4h-8zM12 44h4v4h-4zM28 64h4v4h-4zM0 68h4v4h-4zM136 68h4v4h-4zM124 72h4v4h-4zM0 76h8v4h-8zM68 76h4v4h-4zM24 80h4v4h-4zM72 80h4v4h-4zM72 88h4v4h-4zM24 96h4v4h-4zM20 100h4v4h-4zM120 104h8v4h-8zM132 108h8v4h-8zM68 116h4v4h-4zM64 120h4v4h-4zM116 140h8v4h-8zM8 144h4v4h-4zM4 160h4v4h-4zM128 164h4v4h-4zM120 168h4v4h-4zM116 172h4v4h-4zM64 184h4v4h-4zM128 184h4v4h-4zM52 196h4v4h-4zM112 200h4v4h-4zM100 208h4v4h-4zM72 212h4v4h-4zM108 212h4v4h-4zM64 220h4v4h-4zM120 220h4v4h-4zM112 228h4v4h-4zM56 232h4v4h-4zM104 232h4v4h-4zM92 236h4v4h-4zM84 248h4v4h-4zM72 252h4v4h-4zM124 256h4v4h-4zM64 260h4v4h-4zM120 260h4v4h-4zM112 264h4v4h-4zM92 268h4v4h-4zM96 276h8v4h-8zM120 276h8v4h-8zM76 284h4v4h-4zM0 288h4v4h-4zM72 288h4v4h-4zM132 296h4v4h-4zM124 300h4v4h-4zM124 304h4v4h-4zM80 308h4v4h-4zM68 336h4v4h-4zM128 340h4v4h-4zM132 348h4v4h-4zM128 360h4v4h-4zM124 364h4v4h-4zM60 368h4v4h-4zM120 368h4v4h-4zM120 372h4v4h-4zM60 376h4v4h-4zM56 380h4v4h-4zM52 400h4v4h-4z"/>
<path fill="#9e9e9e" d="M24 4h4v4h-4zM136 8h4v4h-4zM12 12h4v4h-4zM76 16h4v4h-4zM32 20h4v4h-4zM68 32h4v4h-4zM12 36h4v4h-4zM24 36h4v4h-4zM128 36h4v4h-4zM124 40h4v4h-4zM8 44h4v4h-4zM24 48h4v4h-4zM32 56h4v4h-4zM4 68h8v4h-8zM24 68h4v4h-4zM132 68h4v4h-4zM120 72h4v4h-4zM136 76h4v4h-4zM0 100h4v4h-4zM136 100h4v4h-4zM120 108h12v4h-12zM16 128h4v4h-4zM56 128h4v4h-4zM12 132h4v4h-4zM120 136h4v4h-4zM112 140h4v4h-4zM4 144h4v4h-4zM60 144h4v4h-4zM64 148h4v4h-4zM60 152h4v4h-4zM112 172h4v4h-4zM120 176h4v4h-4zM64 180h4v4h-4zM60 188h4v4h-4zM52 200h4v4h-4zM104 204h4v4h-4zM60 208h4v4h-4zM96 208h4v4h-4zM76 212h32v4h-32zM76 216h4v4h-4zM56 228h4v4h-4zM64 236h4v4h-4zM88 236h4v4h-4zM88 248h4v4h-4zM116 248h4v4h-4zM120 252h4v4h-4zM68 256h4v4h-4zM108 264h4v4h-4zM72 268h4v4h-4zM88 268h4v4h-4zM104 276h16v4h-16zM84 280h4v4h-4zM132 280h4v4h-4zM136 292h4v4h-4zM116 300h8v4h-8zM76 304h4v4h-4zM96 304h28v4h-28zM84 308h4v4h-4zM128 308h4v4h-4zM80 312h4v4h-4zM128 332h4v4h-4zM124 336h4v4h-4zM72 340h4v4h-4zM132 352h4v4h-4z"/>
<path fill="#a1a1a1" d="M20 4h4v4h-4zM124 4h4v4h-4zM132 8h4v4h-4zM28 32h4v4h-4zM16 36h8v4h-8zM4 44h4v4h-4zM12 68h4v4h-4zM128 68h4v4h-4zM132 76h4v4h-4zM20 80h4v4h-4zM76 84h4v4h-4zM4 100h16v4h-16zM132 100h4v4h-4zM116 108h4v4h-4zM116 136h4v4h-4zM0 144h4v4h-4zM0 160h4v4h-4zM52 168h4v4h-4zM116 168h4v4h-4zM56 172h4v4h-4zM60 176h4v4h-4zM116 176h4v4h-4zM56 192h4v4h-4zM116 196h4v4h-4zM92 208h4v4h-4zM80 216h4v4h-4zM116 216h4v4h-4zM68 220h4v4h-4zM60 224h4v4h-4zM116 224h4v4h-4zM100 232h4v4h-4zM84 236h4v4h-4zM92 248h4v4h-4zM112 248h4v4h-4zM76 252h4v4h-4zM120 256h4v4h-4zM116 260h4v4h-4zM68 264h4v4h-4zM104 264h4v4h-4zM76 268h4v4h-4zM84 268h4v4h-4zM136 284h4v4h-4zM136 288h4v4h-4zM72 292h4v4h-4zM128 296h4v4h-4zM72 300h4v4h-4zM108 300h8v4h-8zM80 304h16v4h-16zM88 308h8v4h-8zM124 308h4v4h-4zM132 312h4v4h-4zM76 316h4v4h-4zM136 316h4v4h-4zM68 324h4v4h-4zM132 328h4v4h-4zM72 344h4v4h-4zM64 372h4v4h-4zM120 376h4v4h-4zM120 392h4v4h-4zM116 396h4v4h-4zM112 400h4v4h-4z"/>
<path fill="#a4a4a4" d="M0 0h8v4h-8zM28 0h4v4h-4zM136 0h4v4h-4zM68 4h4v4h-4zM128 8h4v4h-4zM8 12h4v4h-4zM24 16h4v4h-4zM32 24h4v4h-4zM124 36h4v4h-4zM120 40h4v4h-4zM0 44h4v4h-4zM16 68h8v4h-8zM116 72h4v4h-4zM124 76h8v4h-8zM16 80h4v4h-4zM28 84h4v4h-4zM128 100h4v4h-4zM116 104h4v4h-4zM64 108h4v4h-4zM112 108h4v4h-4zM16 112h4v4h-4zM0 132h12v4h-12zM128 132h12v4h-12zM108 140h4v4h-4zM136 144h4v4h-4zM12 148h4v4h-4zM12 152h4v4h-4zM8 156h4v4h-4zM136 160h4v4h-4zM124 164h4v4h-4zM108 172h4v4h-4zM108 176h8v4h-8zM124 180h4v4h-4zM68 184h4v4h-4zM124 188h4v4h-4zM120 192h4v4h-4zM108 200h4v4h-4zM56 204h4v4h-4zM100 204h4v4h-4zM64 208h4v4h-4zM88 208h4v4h-4zM84 216h4v4h-4zM116 220h4v4h-4zM108 228h4v4h-4zM60 232h4v4h-4zM68 236h4v4h-4zM80 236h4v4h-4zM96 248h4v4h-4zM108 248h4v4h-4zM116 252h4v4h-4zM68 260h4v4h-4zM112 260h4v4h-4zM100 264h4v4h-4zM80 268h4v4h-4zM88 280h4v4h-4zM128 280h4v4h-4zM80 284h4v4h-4zM76 288h4v4h-4zM132 292h4v4h-4zM72 296h4v4h-4zM124 296h4v4h-4zM100 300h8v4h-8zM96 308h4v4h-4zM120 308h4v4h-4zM84 312h4v4h-4zM72 320h4v4h-4zM136 324h4v4h-4zM68 332h4v4h-4zM124 332h4v4h-4zM72 336h4v4h-4zM120 336h4v4h-4zM76 340h4v4h-4zM124 340h4v4h-4zM128 344h4v4h-4zM68 348h4v4h-4zM60 356h4v4h-4zM60 364h4v4h-4zM120 364h4v4h-4zM64 368h4v4h-4zM116 368h4v4h-4zM68 372h4v4h-4zM116 372h4v4h-4zM64 376h4v4h-4zM60 380h4v4h-4zM52 388h4v4h-4zM52 396h4v4h-4z"/>
<path fill="#a6a6a6" d="M8 0h4v4h-4zM132 0h4v4h-4zM124 8h4v4h-4zM4 12h4v4h-4zM72 12h4v4h-4zM80 20h4v4h-4zM76 24h4v4h-4zM116 40h4v4h-4zM136 44h4v4h-4zM20 48h4v4h-4zM76 48h4v4h-4zM28 52h4v4h-4zM124 68h4v4h-4zM108 108h4v4h-4zM12 112h4v4h-4zM68 112h4v4h-4zM20 116h4v4h-4zM60 124h4v4h-4zM128 144h8v4h-8zM52 160h4v4h-4zM104 176h4v4h-4zM68 180h4v4h-4zM72 184h4v4h-4zM124 184h4v4h-4zM64 188h4v4h-4zM88 216h4v4h-4zM112 216h4v4h-4zM72 220h4v4h-4zM64 224h4v4h-4zM60 228h4v4h-4zM96 232h4v4h-4zM72 236h8v4h-8zM100 248h8v4h-8zM80 252h4v4h-4zM72 256h4v4h-4zM116 256h4v4h-4zM72 264h4v4h-4zM96 264h4v4h-4zM124 280h4v4h-4zM132 284h4v4h-4zM120 296h4v4h-4zM76 300h4v4h-4zM96 300h4v4h-4zM100 308h8v4h-8zM116 308h4v4h-4zM136 320h4v4h-4zM68 328h4v4h-4zM120 332h4v4h-4zM76 336h4v4h-4zM112 336h8v4h-8zM80 340h4v4h-4zM64 352h4v4h-4zM60 360h4v4h-4zM124 360h4v4h-4zM112 368h4v4h-4zM56 384h4v4h-4zM56 400h4v4h-4zM108 400h4v4h-4z"/>
<path fill="#a9a9a9" d="M12 0h4v4h-4zM120 4h4v4h-4zM112 8h12v4h-12zM20 16h4v4h-4zM72 28h4v4h-4zM0 32h8v4h-8zM136 32h4v4h-4zM120 36h4v4h-4zM68 40h4v4h-4zM112 40h4v4h-4zM132 44h4v4h-4zM16 48h4v4h-4zM80 52h4v4h-4zM28 60h4v4h-4zM112 72h4v4h-4zM104 76h4v4h-4zM116 76h8v4h-8zM12 80h4v4h-4zM28 88h4v4h-4zM124 100h4v4h-4zM112 104h4v4h-4zM104 108h4v4h-4zM4 112h8v4h-8zM72 116h4v4h-4zM20 120h4v4h-4zM124 132h4v4h-4zM112 136h4v4h-4zM104 140h4v4h-4zM116 144h12v4h-12zM8 148h4v4h-4zM68 148h4v4h-4zM132 160h4v4h-4zM52 164h4v4h-4zM120 164h4v4h-4zM112 168h4v4h-4zM104 172h4v4h-4zM100 176h4v4h-4zM72 180h4v4h-4zM120 180h4v4h-4zM60 192h4v4h-4zM56 196h4v4h-4zM68 208h4v4h-4zM84 208h4v4h-4zM92 216h4v4h-4zM108 216h4v4h-4zM112 224h4v4h-4zM112 252h4v4h-4zM108 260h4v4h-4zM92 280h4v4h-4zM132 288h4v4h-4zM128 292h4v4h-4zM116 296h4v4h-4zM92 300h4v4h-4zM108 308h8v4h-8zM88 312h4v4h-4zM128 312h4v4h-4zM80 316h4v4h-4zM128 328h4v4h-4zM116 332h4v4h-4zM80 336h4v4h-4zM96 336h16v4h-16zM84 340h4v4h-4zM120 340h4v4h-4zM76 344h4v4h-4zM128 356h4v4h-4zM116 364h4v4h-4zM72 372h4v4h-4zM112 372h4v4h-4zM68 376h4v4h-4zM120 380h4v4h-4zM120 388h4v4h-4zM52 392h4v4h-4z"/>
<path fill="#acacac" d="M16 0h4v4h-4zM24 0h4v4h-4zM128 0h4v4h-4zM116 4h4v4h-4zM0 12h4v4h-4zM80 16h4v4h-4zM28 20h4v4h-4zM28 28h4v4h-4zM8 32h4v4h-4zM24 32h4v4h-4zM132 32h4v4h-4zM108 40h4v4h-4zM128 44h4v4h-4zM12 48h4v4h-4zM28 56h4v4h-4zM76 56h4v4h-4zM24 64h4v4h-4zM68 64h4v4h-4zM108 76h8v4h-8zM4 80h8v4h-8zM24 84h4v4h-4zM80 84h4v4h-4zM24 92h4v4h-4zM68 92h4v4h-4zM20 96h4v4h-4zM64 96h4v4h-4zM100 108h4v4h-4zM0 112h4v4h-4zM136 112h4v4h-4zM16 124h4v4h-4zM12 128h4v4h-4zM56 136h4v4h-4zM100 140h4v4h-4zM96 144h4v4h-4zM112 144h4v4h-4zM8 152h4v4h-4zM64 152h4v4h-4zM4 156h4v4h-4zM56 156h4v4h-4zM96 176h4v4h-4zM76 180h16v4h-16zM116 180h4v4h-4zM76 184h4v4h-4zM68 188h4v4h-4zM112 196h4v4h-4zM56 200h4v4h-4zM96 204h4v4h-4zM72 208h12v4h-12zM96 216h12v4h-12zM76 220h4v4h-4zM112 220h4v4h-4zM104 228h4v4h-4zM64 232h4v4h-4zM92 232h4v4h-4zM84 252h4v4h-4zM112 256h4v4h-4zM72 260h4v4h-4zM76 264h4v4h-4zM92 264h4v4h-4zM96 280h4v4h-4zM120 280h4v4h-4zM84 284h4v4h-4zM128 284h4v4h-4zM128 288h4v4h-4zM76 292h4v4h-4zM124 292h4v4h-4zM76 296h4v4h-4zM112 296h4v4h-4zM80 300h12v4h-12zM132 316h4v4h-4zM132 324h4v4h-4zM72 332h4v4h-4zM112 332h4v4h-4zM84 336h12v4h-12zM88 340h8v4h-8zM116 340h4v4h-4zM128 348h4v4h-4zM68 368h4v4h-4zM104 368h8v4h-8zM76 372h8v4h-8zM108 372h4v4h-4zM116 376h4v4h-4zM120 384h4v4h-4zM112 396h4v4h-4zM60 400h4v4h-4zM104 400h4v4h-4z"/>
<path fill="#aeaeae" d="M20 0h4v4h-4zM108 8h4v4h-4zM136 12h4v4h-4zM16 16h4v4h-4zM28 24h4v4h-4zM12 32h8v4h-8zM68 36h4v4h-4zM0 64h12v4h-12zM136 64h4v4h-4zM120 68h4v4h-4zM108 72h4v4h-4zM0 80h4v4h-4zM120 100h4v4h-4zM128 112h8v4h-8zM56 132h4v4h-4zM120 132h4v4h-4zM92 144h4v4h-4zM100 144h12v4h-12zM4 148h4v4h-4zM72 148h4v4h-4zM0 156h4v4h-4zM128 160h4v4h-4zM64 176h4v4h-4zM92 176h4v4h-4zM92 180h24v4h-24zM80 184h4v4h-4zM120 184h4v4h-4zM120 188h4v4h-4zM116 192h4v4h-4zM104 200h4v4h-4zM60 204h4v4h-4zM80 220h4v4h-4zM68 224h4v4h-4zM108 224h4v4h-4zM64 228h4v4h-4zM88 252h4v4h-4zM108 252h4v4h-4zM76 256h4v4h-4zM108 256h4v4h-4zM104 260h4v4h-4zM80 264h4v4h-4zM88 264h4v4h-4zM100 280h8v4h-8zM112 280h8v4h-8zM80 288h4v4h-4zM108 296h4v4h-4zM92 312h4v4h-4zM124 312h4v4h-4zM76 320h4v4h-4zM132 320h4v4h-4zM72 324h4v4h-4zM124 328h4v4h-4zM108 332h4v4h-4zM96 340h4v4h-4zM112 340h4v4h-4zM80 344h4v4h-4zM124 344h4v4h-4zM72 348h4v4h-4zM128 352h4v4h-4zM64 364h4v4h-4zM112 364h4v4h-4zM72 368h4v4h-4zM96 368h8v4h-8zM84 372h8v4h-8zM104 372h4v4h-4zM72 376h4v4h-4zM64 380h4v4h-4zM116 392h4v4h-4zM56 396h4v4h-4z"/>
<path fill="#b1b1b1" d="M12 16h4v4h-4zM84 16h8v4h-8zM24 20h4v4h-4zM20 32h4v4h-4zM128 32h4v4h-4zM116 36h4v4h-4zM72 44h4v4h-4zM100 44h12v4h-12zM124 44h4v4h-4zM4 48h8v4h-8zM80 48h4v4h-4zM24 52h4v4h-4zM24 60h4v4h-4zM12 64h12v4h-12zM132 64h4v4h-4zM100 76h4v4h-4zM136 80h4v4h-4zM20 84h4v4h-4zM24 88h4v4h-4zM0 96h20v4h-20zM136 96h4v4h-4zM108 104h4v4h-4zM92 112h12v4h-12zM120 112h8v4h-8zM16 116h4v4h-4zM76 116h4v4h-4zM16 120h4v4h-4zM68 120h4v4h-4zM0 128h12v4h-12zM108 136h4v4h-4zM0 148h4v4h-4zM136 148h4v4h-4zM4 152h4v4h-4zM136 156h4v4h-4zM116 164h4v4h-4zM108 168h4v4h-4zM100 172h4v4h-4zM88 176h4v4h-4zM84 184h4v4h-4zM72 188h4v4h-4zM64 192h4v4h-4zM92 204h4v4h-4zM108 220h4v4h-4zM100 228h4v4h-4zM68 232h4v4h-4zM88 232h4v4h-4zM92 252h4v4h-4zM100 252h8v4h-8zM76 260h4v4h-4zM100 260h4v4h-4zM84 264h4v4h-4zM108 280h4v4h-4zM124 284h4v4h-4zM124 288h4v4h-4zM120 292h4v4h-4zM104 296h4v4h-4zM120 312h4v4h-4zM84 316h4v4h-4zM128 316h4v4h-4zM72 328h4v4h-4zM76 332h4v4h-4zM104 332h4v4h-4zM100 340h12v4h-12zM68 352h4v4h-4zM64 356h4v4h-4zM120 360h4v4h-4zM76 368h20v4h-20zM92 372h12v4h-12zM76 376h4v4h-4zM112 376h4v4h-4zM60 384h4v4h-4zM56 388h4v4h-4zM108 396h4v4h-4zM64 400h4v4h-4zM100 400h4v4h-4z"/>
<path fill="#b4b4b4" d="M124 0h4v4h-4zM112 4h4v4h-4zM104 8h4v4h-4zM96 12h8v4h-8zM132 12h4v4h-4zM8 16h4v4h-4zM84 20h4v4h-4zM24 28h4v4h-4zM112 44h4v4h-4zM120 44h4v4h-4zM0 48h4v4h-4zM84 48h8v4h-8zM20 52h4v4h-4zM84 52h4v4h-4zM24 56h4v4h-4zM72 60h4v4h-4zM76 80h4v4h-4zM92 80h4v4h-4zM132 80h4v4h-4zM16 84h4v4h-4zM84 84h4v4h-4zM76 88h4v4h-4zM20 92h4v4h-4zM132 96h4v4h-4zM72 112h4v4h-4zM88 112h4v4h-4zM104 112h4v4h-4zM116 112h4v4h-4zM8 116h8v4h-8zM80 116h4v4h-4zM12 124h4v4h-4zM132 128h8v4h-8zM116 132h4v4h-4zM96 140h4v4h-4zM64 144h4v4h-4zM88 144h4v4h-4zM76 148h8v4h-8zM132 148h4v4h-4zM0 152h4v4h-4zM124 160h4v4h-4zM68 176h4v4h-4zM116 184h4v4h-4zM60 196h4v4h-4zM84 220h4v4h-4zM72 224h4v4h-4zM68 228h4v4h-4zM72 232h4v4h-4zM84 232h4v4h-4zM96 252h4v4h-4zM80 256h4v4h-4zM104 256h4v4h-4zM88 284h4v4h-4zM120 284h4v4h-4zM80 292h4v4h-4zM116 292h4v4h-4zM80 296h4v4h-4zM100 296h4v4h-4zM96 312h4v4h-4zM128 324h4v4h-4zM120 328h4v4h-4zM100 332h4v4h-4zM84 344h4v4h-4zM120 344h4v4h-4zM124 356h4v4h-4zM64 360h4v4h-4zM68 364h4v4h-4zM108 364h4v4h-4zM116 380h4v4h-4zM56 392h4v4h-4zM68 400h4v4h-4zM92 400h8v4h-8z"/>
<path fill="#b7b7b7" d="M104 12h4v4h-4zM128 12h4v4h-4zM4 16h4v4h-4zM92 16h4v4h-4zM16 20h8v4h-8zM20 24h8v4h-8zM4 28h20v4h-20zM104 40h4v4h-4zM96 44h4v4h-4zM116 44h4v4h-4zM92 48h4v4h-4zM12 52h8v4h-8zM20 56h4v4h-4zM16 60h8v4h-8zM128 64h4v4h-4zM116 68h4v4h-4zM104 72h4v4h-4zM96 76h4v4h-4zM88 80h4v4h-4zM96 80h4v4h-4zM128 80h4v4h-4zM8 84h8v4h-8zM16 88h8v4h-8zM12 92h8v4h-8zM128 96h4v4h-4zM116 100h4v4h-4zM96 108h4v4h-4zM108 112h8v4h-8zM0 116h8v4h-8zM8 120h8v4h-8zM8 124h4v4h-4zM128 128h4v4h-4zM84 148h4v4h-4zM128 148h4v4h-4zM68 152h4v4h-4zM136 152h4v4h-4zM132 156h4v4h-4zM56 168h4v4h-4zM60 172h4v4h-4zM84 176h4v4h-4zM88 184h4v4h-4zM76 188h4v4h-4zM116 188h4v4h-4zM68 192h4v4h-4zM108 196h4v4h-4zM60 200h4v4h-4zM100 200h4v4h-4zM64 204h4v4h-4zM104 220h4v4h-4zM104 224h4v4h-4zM96 228h4v4h-4zM76 232h8v4h-8zM100 256h4v4h-4zM80 260h4v4h-4zM96 260h4v4h-4zM84 288h4v4h-4zM120 288h4v4h-4zM84 296h4v4h-4zM96 296h4v4h-4zM100 312h4v4h-4zM116 312h4v4h-4zM80 320h4v4h-4zM128 320h4v4h-4zM76 324h4v4h-4zM116 328h4v4h-4zM80 332h4v4h-4zM92 332h8v4h-8zM76 348h4v4h-4zM124 348h4v4h-4zM116 360h4v4h-4zM104 364h4v4h-4zM80 376h4v4h-4zM68 380h4v4h-4zM116 388h4v4h-4zM112 392h4v4h-4zM60 396h4v4h-4zM72 400h4v4h-4zM84 400h8v4h-8z"/>
<path fill="#b9b9b9" d="M92 12h4v4h-4zM108 12h4v4h-4zM0 16h4v4h-4zM8 20h8v4h-8zM8 24h12v4h-12zM0 28h4v4h-4zM124 32h4v4h-4zM112 36h4v4h-4zM96 48h4v4h-4zM136 48h4v4h-4zM4 52h8v4h-8zM8 56h12v4h-12zM0 60h16v4h-16zM68 72h4v4h-4zM80 80h8v4h-8zM100 80h4v4h-4zM124 80h4v4h-4zM0 84h8v4h-8zM4 88h12v4h-12zM0 92h12v4h-12zM104 104h4v4h-4zM84 112h4v4h-4zM84 116h4v4h-4zM132 116h8v4h-8zM0 120h8v4h-8zM0 124h8v4h-8zM136 124h4v4h-4zM124 128h4v4h-4zM84 144h4v4h-4zM88 148h4v4h-4zM124 148h4v4h-4zM132 152h4v4h-4zM128 156h4v4h-4zM120 160h4v4h-4zM112 164h4v4h-4zM96 172h4v4h-4zM72 176h4v4h-4zM80 176h4v4h-4zM92 184h4v4h-4zM112 184h4v4h-4zM112 192h4v4h-4zM64 196h4v4h-4zM88 204h4v4h-4zM88 220h4v4h-4zM100 220h4v4h-4zM76 224h4v4h-4zM72 228h4v4h-4zM84 256h4v4h-4zM96 256h4v4h-4zM84 260h12v4h-12zM92 284h4v4h-4zM116 284h4v4h-4zM112 292h4v4h-4zM88 296h8v4h-8zM104 312h12v4h-12zM88 316h4v4h-4zM124 316h4v4h-4zM124 324h4v4h-4zM76 328h4v4h-4zM84 332h8v4h-8zM88 344h4v4h-4zM124 352h4v4h-4zM72 364h4v4h-4zM100 364h4v4h-4zM84 376h4v4h-4zM108 376h4v4h-4zM116 384h4v4h-4zM104 396h4v4h-4zM76 400h8v4h-8z"/>
<path fill="#bcbcbc" d="M100 8h4v4h-4zM124 12h4v4h-4zM4 20h4v4h-4zM4 24h4v4h-4zM136 28h4v4h-4zM132 48h4v4h-4zM0 52h4v4h-4zM0 56h8v4h-8zM136 60h4v4h-4zM124 64h4v4h-4zM68 68h4v4h-4zM88 84h4v4h-4zM136 84h4v4h-4zM0 88h4v4h-4zM136 92h4v4h-4zM124 96h4v4h-4zM64 104h4v4h-4zM76 112h8v4h-8zM88 116h4v4h-4zM128 116h4v4h-4zM132 120h8v4h-8zM132 124h4v4h-4zM104 136h4v4h-4zM60 140h4v4h-4zM120 148h4v4h-4zM72 152h4v4h-4zM128 152h4v4h-4zM124 156h4v4h-4zM104 168h4v4h-4zM76 176h4v4h-4zM96 184h16v4h-16zM80 188h4v4h-4zM112 188h4v4h-4zM72 192h4v4h-4zM68 204h4v4h-4zM92 220h8v4h-8zM100 224h4v4h-4zM92 228h4v4h-4zM88 256h8v4h-8zM112 284h4v4h-4zM116 288h4v4h-4zM84 292h4v4h-4zM108 292h4v4h-4zM112 328h4v4h-4zM116 344h4v4h-4zM72 352h4v4h-4zM68 356h4v4h-4zM120 356h4v4h-4zM68 360h4v4h-4zM96 364h4v4h-4zM88 376h4v4h-4zM104 376h4v4h-4zM72 380h4v4h-4zM112 380h4v4h-4zM64 384h4v4h-4zM60 388h4v4h-4z"/>
<path fill="#bfbfbf" d="M120 0h4v4h-4zM76 12h4v4h-4zM88 12h4v4h-4zM112 12h4v4h-4zM96 16h4v4h-4zM136 16h4v4h-4zM0 20h4v4h-4zM0 24h4v4h-4zM132 28h4v4h-4zM92 44h4v4h-4zM88 52h4v4h-4zM136 52h4v4h-4zM136 56h4v4h-4zM132 60h4v4h-4zM104 80h4v4h-4zM120 80h4v4h-4zM132 84h4v4h-4zM136 88h4v4h-4zM132 92h4v4h-4zM64 100h4v4h-4zM124 116h4v4h-4zM72 120h4v4h-4zM128 120h4v4h-4zM128 124h4v4h-4zM120 128h4v4h-4zM112 132h4v4h-4zM92 140h4v4h-4zM80 144h4v4h-4zM92 148h4v4h-4zM116 148h4v4h-4zM124 152h4v4h-4zM60 156h4v4h-4zM56 160h4v4h-4zM92 172h4v4h-4zM84 188h4v4h-4zM104 196h4v4h-4zM64 200h4v4h-4zM96 200h4v4h-4zM72 204h4v4h-4zM84 204h4v4h-4zM80 224h4v4h-4zM76 228h4v4h-4zM96 284h16v4h-16zM88 288h4v4h-4zM112 288h4v4h-4zM104 292h4v4h-4zM120 316h4v4h-4zM124 320h4v4h-4zM120 324h4v4h-4zM108 328h4v4h-4zM92 344h4v4h-4zM112 344h4v4h-4zM80 348h4v4h-4zM120 348h4v4h-4zM112 360h4v4h-4zM76 364h8v4h-8zM88 364h8v4h-8zM92 376h12v4h-12zM60 392h4v4h-4zM64 396h4v4h-4zM100 396h4v4h-4z"/>
<path fill="#c1c1c1" d="M72 0h4v4h-4zM108 4h4v4h-4zM116 12h8v4h-8zM132 16h4v4h-4zM88 20h4v4h-4zM136 20h4v4h-4zM80 24h4v4h-4zM136 24h4v4h-4zM100 40h4v4h-4zM100 48h4v4h-4zM128 48h4v4h-4zM80 56h4v4h-4zM112 68h4v4h-4zM72 76h4v4h-4zM92 76h4v4h-4zM108 80h4v4h-4zM116 80h4v4h-4zM132 88h4v4h-4zM128 92h4v4h-4zM92 108h4v4h-4zM124 120h4v4h-4zM124 124h4v4h-4zM68 144h4v4h-4zM96 148h4v4h-4zM112 148h4v4h-4zM120 152h4v4h-4zM120 156h4v4h-4zM116 160h4v4h-4zM56 164h4v4h-4zM108 188h4v4h-4zM108 192h4v4h-4zM68 196h4v4h-4zM76 204h8v4h-8zM84 224h4v4h-4zM96 224h4v4h-4zM80 228h12v4h-12zM88 292h4v4h-4zM100 292h4v4h-4zM92 316h4v4h-4zM84 320h4v4h-4zM80 324h4v4h-4zM80 328h4v4h-4zM104 328h4v4h-4zM96 344h4v4h-4zM120 352h4v4h-4zM84 364h4v4h-4zM112 388h4v4h-4zM108 392h4v4h-4zM96 396h4v4h-4z"/>
<path fill="#c4c4c4" d="M72 8h4v4h-4zM120 32h4v4h-4zM108 36h4v4h-4zM88 44h4v4h-4zM132 52h4v4h-4zM132 56h4v4h-4zM128 60h4v4h-4zM100 72h4v4h-4zM112 80h4v4h-4zM92 84h4v4h-4zM128 84h4v4h-4zM80 88h4v4h-4zM128 88h4v4h-4zM120 96h4v4h-4zM112 100h4v4h-4zM100 104h4v4h-4zM68 108h4v4h-4zM92 116h4v4h-4zM120 116h4v4h-4zM64 124h4v4h-4zM72 144h8v4h-8zM100 148h4v4h-4zM108 148h4v4h-4zM76 152h4v4h-4zM108 164h4v4h-4zM64 172h4v4h-4zM88 188h4v4h-4zM76 192h4v4h-4zM68 200h4v4h-4zM88 224h8v4h-8zM92 288h4v4h-4zM108 288h4v4h-4zM92 292h8v4h-8zM116 316h4v4h-4zM120 320h4v4h-4zM116 324h4v4h-4zM84 328h4v4h-4zM100 328h4v4h-4zM100 344h12v4h-12zM116 356h4v4h-4zM72 360h4v4h-4zM108 360h4v4h-4zM76 380h4v4h-4zM108 380h4v4h-4zM68 384h4v4h-4zM112 384h4v4h-4zM68 396h4v4h-4z"/>
<path fill="#c7c7c7" d="M116 0h4v4h-4zM96 8h4v4h-4zM80 12h8v4h-8zM100 16h4v4h-4zM132 20h4v4h-4zM132 24h4v4h-4zM128 28h4v4h-4zM124 48h4v4h-4zM120 64h4v4h-4zM124 92h4v4h-4zM76 120h4v4h-4zM120 120h4v4h-4zM120 124h4v4h-4zM60 128h4v4h-4zM116 128h4v4h-4zM100 136h4v4h-4zM104 148h4v4h-4zM116 152h4v4h-4zM116 156h4v4h-4zM100 168h4v4h-4zM88 172h4v4h-4zM92 188h4v4h-4zM100 188h8v4h-8zM104 192h4v4h-4zM72 196h4v4h-4zM100 196h4v4h-4zM92 200h4v4h-4zM96 288h12v4h-12zM96 316h4v4h-4zM112 316h4v4h-4zM96 328h4v4h-4zM84 348h4v4h-4zM116 348h4v4h-4zM76 352h4v4h-4zM72 356h4v4h-4zM104 360h4v4h-4zM64 388h4v4h-4zM64 392h4v4h-4zM72 396h4v4h-4zM92 396h4v4h-4z"/>
<path fill="#c9c9c9" d="M72 4h4v4h-4zM128 16h4v4h-4zM72 32h4v4h-4zM76 44h4v4h-4zM104 48h4v4h-4zM92 52h4v4h-4zM128 52h4v4h-4zM128 56h4v4h-4zM108 68h4v4h-4zM124 84h4v4h-4zM124 88h4v4h-4zM88 108h4v4h-4zM96 116h4v4h-4zM116 116h4v4h-4zM80 152h4v4h-4zM112 160h4v4h-4zM60 168h4v4h-4zM96 188h4v4h-4zM80 192h4v4h-4zM72 200h4v4h-4zM100 316h4v4h-4zM108 316h4v4h-4zM88 320h4v4h-4zM84 324h4v4h-4zM112 324h4v4h-4zM88 328h8v4h-8zM76 360h4v4h-4zM80 380h4v4h-4zM104 392h4v4h-4zM76 396h16v4h-16z"/>
<path fill="#cccccc" d="M76 28h4v4h-4zM72 40h4v4h-4zM96 40h4v4h-4zM84 44h4v4h-4zM120 48h4v4h-4zM124 60h4v4h-4zM88 76h4v4h-4zM72 92h4v4h-4zM116 124h4v4h-4zM108 132h4v4h-4zM88 140h4v4h-4zM112 152h4v4h-4zM64 156h4v4h-4zM112 156h4v4h-4zM68 172h4v4h-4zM84 192h4v4h-4zM100 192h4v4h-4zM76 196h4v4h-4zM96 196h4v4h-4zM88 200h4v4h-4zM104 316h4v4h-4zM116 320h4v4h-4zM116 352h4v4h-4zM112 356h4v4h-4zM100 360h4v4h-4zM84 380h4v4h-4zM104 380h4v4h-4zM72 384h4v4h-4zM108 384h4v4h-4zM108 388h4v4h-4z"/>
<path fill="#cfcfcf" d="M104 4h4v4h-4zM92 20h4v4h-4zM128 20h4v4h-4zM128 24h4v4h-4zM124 28h4v4h-4zM116 32h4v4h-4zM80 44h4v4h-4zM108 48h4v4h-4zM96 84h4v4h-4zM120 84h4v4h-4zM120 92h4v4h-4zM116 96h4v4h-4zM108 100h4v4h-4zM100 116h4v4h-4zM112 116h4v4h-4zM80 120h4v4h-4zM116 120h4v4h-4zM60 136h4v4h-4zM84 152h4v4h-4zM60 160h4v4h-4zM104 164h4v4h-4zM96 168h4v4h-4zM72 172h4v4h-4zM84 172h4v4h-4zM88 192h4v4h-4zM96 192h4v4h-4zM76 200h4v4h-4zM84 200h4v4h-4zM92 320h4v4h-4zM112 320h4v4h-4zM88 324h4v4h-4zM108 324h4v4h-4zM88 348h4v4h-4zM112 348h4v4h-4zM76 356h4v4h-4zM80 360h4v4h-4zM96 360h4v4h-4zM68 388h4v4h-4zM68 392h4v4h-4zM100 392h4v4h-4z"/>
<path fill="#d1d1d1" d="M112 0h4v4h-4zM104 16h4v4h-4zM124 16h4v4h-4zM72 36h4v4h-4zM112 48h8v4h-8zM124 52h4v4h-4zM84 56h4v4h-4zM124 56h4v4h-4zM116 64h4v4h-4zM96 72h4v4h-4zM84 88h4v4h-4zM120 88h4v4h-4zM68 96h4v4h-4zM104 116h8v4h-8zM112 128h4v4h-4zM60 132h4v4h-4zM96 136h4v4h-4zM68 156h4v4h-4zM108 160h4v4h-4zM60 164h4v4h-4zM76 172h8v4h-8zM92 192h4v4h-4zM80 196h4v4h-4zM92 196h4v4h-4zM80 200h4v4h-4zM104 324h4v4h-4zM80 352h4v4h-4zM84 360h12v4h-12zM88 380h16v4h-16z"/>
<path fill="#d4d4d4" d="M92 8h4v4h-4zM84 24h4v4h-4zM104 36h4v4h-4zM76 60h4v4h-4zM72 64h4v4h-4zM76 76h4v4h-4zM84 76h4v4h-4zM96 104h4v4h-4zM84 108h4v4h-4zM64 140h4v4h-4zM84 140h4v4h-4zM108 152h4v4h-4zM64 168h4v4h-4zM84 196h8v4h-8zM96 320h4v4h-4zM104 320h8v4h-8zM92 324h12v4h-12zM92 348h4v4h-4zM108 348h4v4h-4zM112 352h4v4h-4zM108 356h4v4h-4zM76 384h4v4h-4zM104 384h4v4h-4zM104 388h4v4h-4zM72 392h4v4h-4zM96 392h4v4h-4z"/>
<path fill="#d7d7d7" d="M124 20h4v4h-4zM124 24h4v4h-4zM96 52h4v4h-4zM120 60h4v4h-4zM104 68h4v4h-4zM116 84h4v4h-4zM72 108h4v4h-4zM84 120h4v4h-4zM112 120h4v4h-4zM68 124h4v4h-4zM112 124h4v4h-4zM104 132h4v4h-4zM88 152h4v4h-4zM108 156h4v4h-4zM92 168h4v4h-4zM100 320h4v4h-4zM96 348h4v4h-4zM104 348h4v4h-4zM84 352h4v4h-4zM80 356h4v4h-4zM72 388h4v4h-4z"/>
<path fill="#d9d9d9" d="M100 4h4v4h-4zM108 16h4v4h-4zM120 16h4v4h-4zM96 20h4v4h-4zM120 28h4v4h-4zM112 32h4v4h-4zM92 40h4v4h-4zM120 52h4v4h-4zM120 56h4v4h-4zM72 72h4v4h-4zM80 76h4v4h-4zM100 84h4v4h-4zM112 84h4v4h-4zM116 88h4v4h-4zM116 92h4v4h-4zM112 96h4v4h-4zM104 100h4v4h-4zM80 108h4v4h-4zM92 152h4v4h-4zM104 152h4v4h-4zM72 156h4v4h-4zM100 164h4v4h-4zM100 348h4v4h-4zM108 352h4v4h-4zM104 356h4v4h-4zM80 384h4v4h-4zM76 392h4v4h-4zM92 392h4v4h-4z"/>
<path fill="#dcdcdc" d="M76 8h4v4h-4zM88 8h4v4h-4zM112 16h8v4h-8zM112 64h4v4h-4zM72 68h4v4h-4zM104 84h8v4h-8zM88 88h4v4h-4zM68 104h4v4h-4zM76 108h4v4h-4zM88 120h4v4h-4zM108 128h4v4h-4zM80 140h4v4h-4zM96 152h8v4h-8zM64 160h4v4h-4zM104 160h4v4h-4zM64 164h4v4h-4zM68 168h4v4h-4zM84 356h4v4h-4zM100 356h4v4h-4zM100 384h4v4h-4zM76 388h4v4h-4zM100 388h4v4h-4zM80 392h12v4h-12z"/>
<path fill="#dfdfdf" d="M76 0h4v4h-4zM88 56h4v4h-4zM116 60h4v4h-4zM92 72h4v4h-4zM76 92h4v4h-4zM68 100h4v4h-4zM92 104h4v4h-4zM108 120h4v4h-4zM92 136h4v4h-4zM76 156h4v4h-4zM104 156h4v4h-4zM88 168h4v4h-4zM88 352h4v4h-4zM104 352h4v4h-4zM88 356h4v4h-4zM96 356h4v4h-4zM84 384h4v4h-4z"/>
<path fill="#e1e1e1" d="M108 0h4v4h-4zM120 20h4v4h-4zM88 24h4v4h-4zM120 24h4v4h-4zM100 36h4v4h-4zM76 40h4v4h-4zM100 52h4v4h-4zM116 52h4v4h-4zM116 56h4v4h-4zM112 88h4v4h-4zM112 92h4v4h-4zM108 96h4v4h-4zM72 124h4v4h-4zM108 124h4v4h-4zM64 128h4v4h-4zM100 132h4v4h-4zM68 140h4v4h-4zM76 140h4v4h-4zM68 160h4v4h-4zM68 164h4v4h-4zM96 164h4v4h-4zM72 168h4v4h-4zM92 352h4v4h-4zM100 352h4v4h-4zM92 356h4v4h-4zM88 384h12v4h-12zM80 388h4v4h-4zM96 388h4v4h-4z"/>
<path fill="#e4e4e4" d="M76 4h4v4h-4zM80 8h8v4h-8zM80 28h4v4h-4zM116 28h4v4h-4zM76 32h4v4h-4zM108 32h4v4h-4zM88 40h4v4h-4zM112 52h4v4h-4zM108 64h4v4h-4zM100 68h4v4h-4zM92 88h4v4h-4zM100 100h4v4h-4zM92 120h4v4h-4zM104 120h4v4h-4zM104 128h4v4h-4zM72 140h4v4h-4zM80 156h4v4h-4zM100 156h4v4h-4zM100 160h4v4h-4zM76 168h12v4h-12zM96 352h4v4h-4zM84 388h4v4h-4zM92 388h4v4h-4z"/>
<path fill="#e7e7e7" d="M96 4h4v4h-4zM100 20h4v4h-4zM116 20h4v4h-4zM116 24h4v4h-4zM104 52h8v4h-8zM80 60h4v4h-4zM112 60h4v4h-4zM108 88h4v4h-4zM108 92h4v4h-4zM96 120h8v4h-8zM76 124h4v4h-4zM104 124h4v4h-4zM64 136h4v4h-4zM84 156h4v4h-4zM72 160h4v4h-4zM72 164h4v4h-4zM92 164h4v4h-4zM88 388h4v4h-4z"/>
<path fill="#eaeaea" d="M112 28h4v4h-4zM76 36h4v4h-4zM84 40h4v4h-4zM92 56h4v4h-4zM112 56h4v4h-4zM76 64h4v4h-4zM88 72h4v4h-4zM80 92h4v4h-4zM72 96h4v4h-4zM104 96h4v4h-4zM88 104h4v4h-4zM64 132h4v4h-4zM88 136h4v4h-4zM96 156h4v4h-4zM96 160h4v4h-4z"/>
<path fill="#ececec" d="M104 0h4v4h-4zM112 20h4v4h-4zM92 24h4v4h-4zM96 36h4v4h-4zM80 40h4v4h-4zM76 72h4v4h-4zM96 88h4v4h-4zM104 88h4v4h-4zM72 104h4v4h-4zM100 128h4v4h-4zM96 132h4v4h-4zM88 156h8v4h-8zM76 160h4v4h-4zM92 160h4v4h-4zM76 164h16v4h-16z"/>
<path fill="#efefef" d="M80 0h4v4h-4zM104 20h8v4h-8zM112 24h4v4h-4zM104 32h4v4h-4zM108 56h4v4h-4zM84 60h4v4h-4zM108 60h4v4h-4zM104 64h4v4h-4zM76 68h4v4h-4zM96 68h4v4h-4zM84 72h4v4h-4zM100 88h4v4h-4zM104 92h4v4h-4zM96 100h4v4h-4zM80 124h4v4h-4zM100 124h4v4h-4zM68 128h4v4h-4zM80 160h12v4h-12z"/>
<path fill="#f2f2f2" d="M80 4h4v4h-4zM92 4h4v4h-4zM84 28h4v4h-4zM108 28h4v4h-4zM96 56h4v4h-4zM80 72h4v4h-4zM84 92h4v4h-4zM100 96h4v4h-4zM72 100h4v4h-4zM76 104h4v4h-4zM84 104h4v4h-4zM84 124h4v4h-4zM84 136h4v4h-4z"/>
<path fill="#f4f4f4" d="M100 0h4v4h-4zM84 4h8v4h-8zM96 24h4v4h-4zM108 24h4v4h-4zM80 32h4v4h-4zM80 36h4v4h-4zM92 36h4v4h-4zM100 56h8v4h-8zM104 60h4v4h-4zM92 68h4v4h-4zM100 92h4v4h-4zM76 96h4v4h-4zM92 100h4v4h-4zM80 104h4v4h-4zM88 124h4v4h-4zM96 124h4v4h-4zM96 128h4v4h-4zM68 132h4v4h-4zM92 132h4v4h-4zM68 136h4v4h-4zM80 136h4v4h-4z"/>
<path fill="#f7f7f7" d="M84 0h4v4h-4zM100 24h8v4h-8zM88 28h4v4h-4zM104 28h4v4h-4zM84 32h4v4h-4zM100 32h4v4h-4zM84 36h8v4h-8zM88 60h4v4h-4zM80 64h4v4h-4zM100 64h4v4h-4zM80 68h4v4h-4zM88 92h8v4h-8zM96 96h4v4h-4zM76 100h4v4h-4zM92 124h4v4h-4zM72 128h4v4h-4zM92 128h4v4h-4zM88 132h4v4h-4zM72 136h8v4h-8z"/>
<path fill="#fafafa" d="M88 0h4v4h-4zM96 0h4v4h-4zM100 28h4v4h-4zM88 32h4v4h-4zM96 32h4v4h-4zM92 60h12v4h-12zM84 64h4v4h-4zM96 64h4v4h-4zM84 68h8v4h-8zM96 92h4v4h-4zM80 96h4v4h-4zM92 96h4v4h-4zM80 100h4v4h-4zM88 100h4v4h-4zM76 128h4v4h-4zM84 128h8v4h-8zM72 132h4v4h-4zM84 132h4v4h-4z"/>
<path fill="#fcfcfc" d="M92 0h4v4h-4zM92 28h8v4h-8zM92 32h4v4h-4zM88 64h8v4h-8zM84 96h8v4h-8zM84 100h4v4h-4zM80 128h4v4h-4zM76 132h8v4h-8z"/>
</g>
</defs>
<rect width="2048" height="1904" fill="#fff"/>
<g clip-path="url(#clipa)"><g filter="url(#jet)"><g transform="translate(379 92) scale(1.002857 1)" shape-rendering="crispEdges"><use href="#ta" x="0"/><use href="#ta" x="140"/><use href="#ta" x="280"/><use href="#ta" x="420"/><use href="#ta" x="560"/><use href="#ta" x="700"/><use href="#ta" x="840"/><use href="#ta" x="980"/><use href="#ta" x="1120"/><use href="#ta" x="1260"/></g></g></g>
<g clip-path="url(#clipb)"><g filter="url(#jet)"><g transform="translate(379 688.5) scale(1.002857 1)" shape-rendering="crispEdges"><use href="#tb" x="0"/><use href="#tb" x="140"/><use href="#tb" x="280"/><use href="#tb" x="420"/><use href="#tb" x="560"/><use href="#tb" x="700"/><use href="#tb" x="840"/><use href="#tb" x="980"/><use href="#tb" x="1120"/><use href="#tb" x="1260"/></g></g></g>
<rect x="1595" y="87.5" width="54.5" height="398.5" fill="url(#cb)"/>
<rect x="1595" y="679" width="54.5" height="400.5" fill="url(#cb)"/>
<path d="M1595.4 87v399.5M1595.4 678.5v401.5" stroke="#3c3c3c" stroke-opacity=".75" stroke-width="1.6" fill="none"/>
<path d="M1595 87.5h54.5v398.5h-54.5M1595 679h54.5v400.5h-54.5" stroke="#666" stroke-opacity=".45" stroke-width="1.2" fill="none"/>
<path d="M1649 196.9h-4.5M1649 306.8h-4.5M1649 413.8h-3.5M1649 789.9h-4.5M1649 899.2h-4.5M1649 1006.2h-3.5" stroke="#222" stroke-opacity=".8" stroke-width="2" fill="none"/>
<rect x="405.3" y="152.4" width="6" height="5.1" fill="#fff"/>
<clipPath id="clipc"><rect x="385.6" y="1335.1" width="1215.9" height="329.3000000000002"/></clipPath>
<g clip-path="url(#clipc)" fill="none" stroke-linejoin="round" stroke-linecap="round"><path d="M383.1 1450.7L384.3 1448.7L385.5 1446.6L386.7 1444.5L387.9 1444.2L389.1 1444.8L390.2 1445.3L391.4 1445.9L392.6 1446.4L393.8 1447.4L395.0 1448.6L396.2 1449.8L397.4 1451.0L398.6 1452.2L399.8 1454.5L400.9 1457.4L402.1 1460.3L403.3 1464.6L404.5 1471.6L405.7 1478.6L406.9 1485.7L408.1 1497.1L409.3 1508.4L410.5 1518.6L411.6 1527.3L412.8 1536.0L414.0 1544.8L415.2 1554.3L416.4 1563.7L417.6 1573.2L418.8 1582.5L420.0 1589.5L421.2 1596.4L422.3 1603.4L423.5 1609.7L424.7 1615.6L425.9 1619.3L427.1 1621.3L428.3 1620.3L429.5 1618.2L430.7 1614.8L431.9 1608.5L433.1 1600.8L434.3 1593.2L435.5 1585.6L436.7 1578.3L437.9 1570.9L439.1 1563.5L440.3 1556.0L441.5 1547.5L442.6 1539.0L443.8 1530.5L445.0 1521.9L446.2 1513.6L447.4 1506.6L448.6 1499.6L449.8 1492.6L451.0 1485.6L452.2 1478.6L453.4 1471.7L454.6 1464.7L455.8 1457.8L457.0 1454.0L458.2 1451.0L459.4 1448.1L460.6 1445.1L461.8 1443.6L463.0 1443.3L464.2 1442.9L465.4 1442.6L466.6 1442.2L467.8 1441.9L469.0 1441.2L470.2 1440.5L471.4 1439.8L472.6 1439.0L473.7 1438.3L474.9 1437.6L476.1 1437.2L477.3 1438.2L478.5 1439.2L479.7 1440.2L480.9 1441.2L482.1 1442.2L483.3 1443.2L484.5 1443.6L485.7 1442.8L486.9 1442.1L488.1 1441.3L489.3 1440.6L490.5 1439.8L491.7 1439.1L492.9 1439.2L494.1 1439.8L495.3 1440.3L496.5 1440.8L497.7 1441.3L498.9 1441.9L500.1 1442.3L501.3 1441.6L502.5 1440.9L503.6 1440.2L504.8 1439.5L506.0 1438.9L507.2 1439.6L508.4 1440.3L509.6 1441.0L510.8 1441.7L512.0 1444.1L513.2 1446.7L514.4 1449.3L515.6 1451.9L516.8 1452.7L518.0 1452.8L519.2 1453.0L520.4 1453.1L521.6 1453.3L522.8 1453.4L524.0 1454.2L525.2 1455.0L526.4 1455.9L527.6 1456.7L528.8 1457.5L530.0 1458.1L531.2 1456.8L532.4 1455.4L533.6 1454.0L534.7 1452.7L535.9 1450.7L537.1 1448.7L538.3 1446.6L539.5 1444.5L540.7 1444.2L541.9 1444.8L543.1 1445.3L544.3 1445.9L545.5 1446.4L546.7 1447.4L547.9 1448.6L549.1 1449.8L550.3 1451.0L551.5 1452.2L552.7 1454.5L553.9 1457.4L555.1 1460.3L556.3 1464.6L557.5 1471.6L558.7 1478.6L559.9 1485.7L561.1 1497.1L562.3 1508.4L563.5 1518.6L564.7 1527.3L565.8 1536.0L567.0 1544.8L568.2 1554.3L569.4 1563.7L570.6 1573.2L571.8 1582.5L573.0 1589.5L574.2 1596.4L575.4 1603.4L576.6 1609.7L577.8 1615.6L579.0 1619.3L580.2 1621.3L581.4 1620.3L582.5 1618.2L583.7 1614.8L584.9 1608.5L586.0 1600.8L587.2 1593.2L588.4 1585.6L589.6 1578.3L590.7 1570.9L591.9 1563.5L593.1 1556.0L594.2 1547.5L595.4 1539.0L596.6 1530.5L597.7 1521.9L598.9 1513.6L600.1 1506.6L601.3 1499.6L602.4 1492.6L603.6 1485.6L604.8 1478.6L605.9 1471.7L607.1 1464.7L608.3 1457.8L609.4 1454.0L610.6 1451.0L611.8 1448.1L612.9 1445.1L614.1 1443.6L615.3 1443.3L616.5 1442.9L617.6 1442.6L618.8 1442.2L620.0 1441.9L621.1 1441.2L622.3 1440.5L623.5 1439.8L624.6 1439.0L625.8 1438.3L627.0 1437.6L628.2 1437.2L629.3 1438.2L630.5 1439.2L631.7 1440.2L632.8 1441.2L634.0 1442.2L635.2 1443.2L636.3 1443.6L637.5 1442.8L638.7 1442.1L639.8 1441.3L641.0 1440.6L642.2 1439.8L643.4 1439.1L644.5 1439.2L645.7 1439.8L646.9 1440.3L648.0 1440.8L649.2 1441.3L650.4 1441.9L651.5 1442.3L652.7 1441.6L653.9 1440.9L655.0 1440.2L656.2 1439.5L657.4 1438.9L658.6 1439.6L659.7 1440.3L660.9 1441.0L662.1 1441.7L663.2 1444.1L664.4 1446.7L665.6 1449.3L666.7 1451.9L667.9 1452.7L669.1 1452.8L670.3 1453.0L671.4 1453.1L672.6 1453.3L673.8 1453.4L674.9 1454.2L676.1 1455.0L677.3 1455.9L678.4 1456.7L679.6 1457.5L680.8 1458.1L681.9 1456.8L683.1 1455.4L684.3 1454.0L685.5 1452.7L686.6 1450.7L687.8 1448.7L689.0 1446.6L690.1 1444.5L691.3 1444.2L692.5 1444.8L693.6 1445.3L694.8 1445.9L696.0 1446.4L697.2 1447.4L698.3 1448.6L699.5 1449.8L700.7 1451.0L701.8 1452.2L703.0 1454.5L704.2 1457.4L705.3 1460.3L706.5 1464.6L707.7 1471.6L708.8 1478.6L710.0 1485.7L711.2 1497.1L712.4 1508.4L713.5 1518.6L714.7 1527.3L715.9 1536.0L717.0 1544.8L718.2 1554.3L719.4 1563.7L720.5 1573.2L721.7 1582.5L722.9 1589.5L724.1 1596.4L725.2 1603.4L726.4 1609.7L727.6 1615.6L728.7 1619.3L729.9 1621.3L731.1 1620.3L732.3 1618.2L733.5 1614.8L734.7 1608.5L735.9 1600.8L737.1 1593.2L738.3 1585.6L739.5 1578.3L740.7 1570.9L741.9 1563.5L743.2 1556.0L744.4 1547.5L745.6 1539.0L746.8 1530.5L748.0 1521.9L749.2 1513.6L750.4 1506.6L751.6 1499.6L752.8 1492.6L754.0 1485.6L755.2 1478.6L756.4 1471.7L757.6 1464.7L758.8 1457.8L760.0 1454.0L761.2 1451.0L762.4 1448.1L763.6 1445.1L764.8 1443.6L766.0 1443.3L767.2 1442.9L768.4 1442.6L769.7 1442.2L770.9 1441.9L772.1 1441.2L773.3 1440.5L774.5 1439.8L775.7 1439.0L776.9 1438.3L778.1 1437.6L779.3 1437.2L780.5 1438.2L781.7 1439.2L782.9 1440.2L784.1 1441.2L785.3 1442.2L786.5 1443.2L787.7 1443.6L788.9 1442.8L790.1 1442.1L791.3 1441.3L792.5 1440.6L793.7 1439.8L795.0 1439.1L796.2 1439.2L797.4 1439.8L798.6 1440.3L799.8 1440.8L801.0 1441.3L802.2 1441.9L803.4 1442.3L804.6 1441.6L805.8 1440.9L807.0 1440.2L808.2 1439.5L809.4 1438.9L810.6 1439.6L811.8 1440.3L813.0 1441.0L814.2 1441.7L815.4 1444.1L816.6 1446.7L817.8 1449.3L819.0 1451.9L820.3 1452.7L821.5 1452.8L822.7 1453.0L823.9 1453.1L825.1 1453.3L826.3 1453.4L827.5 1454.2L828.7 1455.0L829.9 1455.9L831.1 1456.7L832.3 1457.5L833.5 1458.1L834.7 1456.8L835.9 1455.4L837.1 1454.0L838.3 1452.7L839.5 1450.7L840.7 1448.7L841.9 1446.6L843.1 1444.5L844.3 1444.2L845.5 1444.8L846.8 1445.3L848.0 1445.9L849.2 1446.4L850.4 1447.4L851.6 1448.6L852.8 1449.8L854.0 1451.0L855.2 1452.2L856.4 1454.5L857.6 1457.4L858.8 1460.3L860.0 1464.6L861.2 1471.6L862.4 1478.6L863.6 1485.7L864.8 1497.1L866.0 1508.4L867.2 1518.6L868.4 1527.3L869.6 1536.0L870.8 1544.8L872.1 1554.3L873.3 1563.7L874.5 1573.2L875.7 1582.5L876.9 1589.5L878.1 1596.4L879.3 1603.4L880.5 1609.7L881.7 1615.6L882.9 1619.3L884.1 1621.3L885.3 1620.3L886.5 1618.2L887.6 1614.8L888.8 1608.5L890.0 1600.8L891.2 1593.2L892.4 1585.6L893.5 1578.3L894.7 1570.9L895.9 1563.5L897.1 1556.0L898.3 1547.5L899.5 1539.0L900.6 1530.5L901.8 1521.9L903.0 1513.6L904.2 1506.6L905.4 1499.6L906.5 1492.6L907.7 1485.6L908.9 1478.6L910.1 1471.7L911.3 1464.7L912.4 1457.8L913.6 1454.0L914.8 1451.0L916.0 1448.1L917.2 1445.1L918.4 1443.6L919.5 1443.3L920.7 1442.9L921.9 1442.6L923.1 1442.2L924.3 1441.9L925.4 1441.2L926.6 1440.5L927.8 1439.8L929.0 1439.0L930.2 1438.3L931.3 1437.6L932.5 1437.2L933.7 1438.2L934.9 1439.2L936.1 1440.2L937.3 1441.2L938.4 1442.2L939.6 1443.2L940.8 1443.6L942.0 1442.8L943.2 1442.1L944.3 1441.3L945.5 1440.6L946.7 1439.8L947.9 1439.1L949.1 1439.2L950.2 1439.8L951.4 1440.3L952.6 1440.8L953.8 1441.3L955.0 1441.9L956.2 1442.3L957.3 1441.6L958.5 1440.9L959.7 1440.2L960.9 1439.5L962.1 1438.9L963.2 1439.6L964.4 1440.3L965.6 1441.0L966.8 1441.7L968.0 1444.1L969.1 1446.7L970.3 1449.3L971.5 1451.9L972.7 1452.7L973.9 1452.8L975.1 1453.0L976.2 1453.1L977.4 1453.3L978.6 1453.4L979.8 1454.2L981.0 1455.0L982.1 1455.9L983.3 1456.7L984.5 1457.5L985.7 1458.1L986.9 1456.8L988.0 1455.4L989.2 1454.0L990.4 1452.7L991.6 1450.7L992.8 1448.7L994.0 1446.6L995.1 1444.5L996.3 1444.2L997.5 1444.8L998.7 1445.3L999.9 1445.9L1001.0 1446.4L1002.2 1447.4L1003.4 1448.6L1004.6 1449.8L1005.8 1451.0L1006.9 1452.2L1008.1 1454.5L1009.3 1457.4L1010.5 1460.3L1011.7 1464.6L1012.9 1471.6L1014.0 1478.6L1015.2 1485.7L1016.4 1497.1L1017.6 1508.4L1018.8 1518.6L1019.9 1527.3L1021.1 1536.0L1022.3 1544.8L1023.5 1554.3L1024.7 1563.7L1025.8 1573.2L1027.0 1582.5L1028.2 1589.5L1029.4 1596.4L1030.6 1603.4L1031.8 1609.7L1032.9 1615.6L1034.1 1619.3L1035.3 1621.3L1036.5 1620.3L1037.7 1618.2L1038.9 1614.8L1040.1 1608.5L1041.2 1600.8L1042.4 1593.2L1043.6 1585.6L1044.8 1578.3L1046.0 1570.9L1047.2 1563.5L1048.4 1556.0L1049.6 1547.5L1050.8 1539.0L1052.0 1530.5L1053.1 1521.9L1054.3 1513.6L1055.5 1506.6L1056.7 1499.6L1057.9 1492.6L1059.1 1485.6L1060.3 1478.6L1061.5 1471.7L1062.7 1464.7L1063.9 1457.8L1065.0 1454.0L1066.2 1451.0L1067.4 1448.1L1068.6 1445.1L1069.8 1443.6L1071.0 1443.3L1072.2 1442.9L1073.4 1442.6L1074.6 1442.2L1075.8 1441.9L1076.9 1441.2L1078.1 1440.5L1079.3 1439.8L1080.5 1439.0L1081.7 1438.3L1082.9 1437.6L1084.1 1437.2L1085.3 1438.2L1086.5 1439.2L1087.7 1440.2L1088.8 1441.2L1090.0 1442.2L1091.2 1443.2L1092.4 1443.6L1093.6 1442.8L1094.8 1442.1L1096.0 1441.3L1097.2 1440.6L1098.4 1439.8L1099.6 1439.1L1100.7 1439.2L1101.9 1439.8L1103.1 1440.3L1104.3 1440.8L1105.5 1441.3L1106.7 1441.9L1107.9 1442.3L1109.1 1441.6L1110.3 1440.9L1111.4 1440.2L1112.6 1439.5L1113.8 1438.9L1115.0 1439.6L1116.2 1440.3L1117.4 1441.0L1118.6 1441.7L1119.8 1444.1L1121.0 1446.7L1122.2 1449.3L1123.3 1451.9L1124.5 1452.7L1125.7 1452.8L1126.9 1453.0L1128.1 1453.1L1129.3 1453.3L1130.5 1453.4L1131.7 1454.2L1132.9 1455.0L1134.1 1455.9L1135.2 1456.7L1136.4 1457.5L1137.6 1458.1L1138.8 1456.8L1140.0 1455.4L1141.2 1454.0L1142.4 1452.7L1143.6 1450.7L1144.8 1448.7L1146.0 1446.6L1147.1 1444.5L1148.3 1444.2L1149.5 1444.8L1150.7 1445.3L1151.9 1445.9L1153.1 1446.4L1154.3 1447.4L1155.5 1448.6L1156.7 1449.8L1157.9 1451.0L1159.0 1452.2L1160.2 1454.5L1161.4 1457.4L1162.6 1460.3L1163.8 1464.6L1165.0 1471.6L1166.2 1478.6L1167.4 1485.7L1168.6 1497.1L1169.8 1508.4L1170.9 1518.6L1172.1 1527.3L1173.3 1536.0L1174.5 1544.8L1175.7 1554.3L1176.9 1563.7L1178.1 1573.2L1179.3 1582.5L1180.5 1589.5L1181.7 1596.4L1182.8 1603.4L1184.0 1609.7L1185.2 1615.6L1186.4 1619.3L1187.6 1621.3L1188.8 1620.3L1190.0 1618.2L1191.2 1614.8L1192.4 1608.5L1193.6 1600.8L1194.8 1593.2L1196.0 1585.6L1197.2 1578.3L1198.4 1570.9L1199.6 1563.5L1200.9 1556.0L1202.1 1547.5L1203.3 1539.0L1204.5 1530.5L1205.7 1521.9L1206.9 1513.6L1208.1 1506.6L1209.3 1499.6L1210.5 1492.6L1211.7 1485.6L1212.9 1478.6L1214.1 1471.7L1215.3 1464.7L1216.5 1457.8L1217.7 1454.0L1218.9 1451.0L1220.1 1448.1L1221.3 1445.1L1222.5 1443.6L1223.7 1443.3L1224.9 1442.9L1226.1 1442.6L1227.4 1442.2L1228.6 1441.9L1229.8 1441.2L1231.0 1440.5L1232.2 1439.8L1233.4 1439.0L1234.6 1438.3L1235.8 1437.6L1237.0 1437.2L1238.2 1438.2L1239.4 1439.2L1240.6 1440.2L1241.8 1441.2L1243.0 1442.2L1244.2 1443.2L1245.4 1443.6L1246.6 1442.8L1247.8 1442.1L1249.0 1441.3L1250.2 1440.6L1251.4 1439.8L1252.7 1439.1L1253.9 1439.2L1255.1 1439.8L1256.3 1440.3L1257.5 1440.8L1258.7 1441.3L1259.9 1441.9L1261.1 1442.3L1262.3 1441.6L1263.5 1440.9L1264.7 1440.2L1265.9 1439.5L1267.1 1438.9L1268.3 1439.6L1269.5 1440.3L1270.7 1441.0L1271.9 1441.7L1273.1 1444.1L1274.3 1446.7L1275.5 1449.3L1276.7 1451.9L1278.0 1452.7L1279.2 1452.8L1280.4 1453.0L1281.6 1453.1L1282.8 1453.3L1284.0 1453.4L1285.2 1454.2L1286.4 1455.0L1287.6 1455.9L1288.8 1456.7L1290.0 1457.5L1291.2 1458.1L1292.4 1456.8L1293.6 1455.4L1294.8 1454.0L1296.0 1452.7L1297.2 1450.7L1298.4 1448.7L1299.6 1446.6L1300.8 1444.5L1302.0 1444.2L1303.2 1444.8L1304.5 1445.3L1305.7 1445.9L1306.9 1446.4L1308.1 1447.4L1309.3 1448.6L1310.5 1449.8L1311.7 1451.0L1312.9 1452.2L1314.1 1454.5L1315.3 1457.4L1316.5 1460.3L1317.7 1464.6L1318.9 1471.6L1320.1 1478.6L1321.3 1485.7L1322.5 1497.1L1323.7 1508.4L1324.9 1518.6L1326.1 1527.3L1327.3 1536.0L1328.5 1544.8L1329.8 1554.3L1331.0 1563.7L1332.2 1573.2L1333.4 1582.5L1334.6 1589.5L1335.8 1596.4L1337.0 1603.4L1338.2 1609.7L1339.4 1615.6L1340.6 1619.3L1341.8 1621.3L1343.0 1620.3L1344.2 1618.2L1345.3 1614.8L1346.5 1608.5L1347.7 1600.8L1348.9 1593.2L1350.1 1585.6L1351.2 1578.3L1352.4 1570.9L1353.6 1563.5L1354.8 1556.0L1356.0 1547.5L1357.1 1539.0L1358.3 1530.5L1359.5 1521.9L1360.7 1513.6L1361.9 1506.6L1363.0 1499.6L1364.2 1492.6L1365.4 1485.6L1366.6 1478.6L1367.8 1471.7L1368.9 1464.7L1370.1 1457.8L1371.3 1454.0L1372.5 1451.0L1373.7 1448.1L1374.8 1445.1L1376.0 1443.6L1377.2 1443.3L1378.4 1442.9L1379.5 1442.6L1380.7 1442.2L1381.9 1441.9L1383.1 1441.2L1384.3 1440.5L1385.4 1439.8L1386.6 1439.0L1387.8 1438.3L1389.0 1437.6L1390.2 1437.2L1391.3 1438.2L1392.5 1439.2L1393.7 1440.2L1394.9 1441.2L1396.1 1442.2L1397.2 1443.2L1398.4 1443.6L1399.6 1442.8L1400.8 1442.1L1402.0 1441.3L1403.1 1440.6L1404.3 1439.8L1405.5 1439.1L1406.7 1439.2L1407.9 1439.8L1409.0 1440.3L1410.2 1440.8L1411.4 1441.3L1412.6 1441.9L1413.8 1442.3L1414.9 1441.6L1416.1 1440.9L1417.3 1440.2L1418.5 1439.5L1419.7 1438.9L1420.8 1439.6L1422.0 1440.3L1423.2 1441.0L1424.4 1441.7L1425.6 1444.1L1426.7 1446.7L1427.9 1449.3L1429.1 1451.9L1430.3 1452.7L1431.5 1452.8L1432.6 1453.0L1433.8 1453.1L1435.0 1453.3L1436.2 1453.4L1437.4 1454.2L1438.5 1455.0L1439.7 1455.9L1440.9 1456.7L1442.1 1457.5L1443.3 1458.1L1444.4 1456.8L1445.6 1455.4L1446.8 1454.0L1448.0 1452.7L1449.2 1450.7L1450.3 1448.7L1451.5 1446.6L1452.7 1444.5L1453.9 1444.2L1455.0 1444.8L1456.2 1445.3L1457.4 1445.9L1458.6 1446.4L1459.8 1447.4L1460.9 1448.6L1462.1 1449.8L1463.3 1451.0L1464.5 1452.2L1465.7 1454.5L1466.8 1457.4L1468.0 1460.3L1469.2 1464.6L1470.4 1471.6L1471.6 1478.6L1472.7 1485.7L1473.9 1497.1L1475.1 1508.4L1476.3 1518.6L1477.5 1527.3L1478.6 1536.0L1479.8 1544.8L1481.0 1554.3L1482.2 1563.7L1483.4 1573.2L1484.5 1582.5L1485.7 1589.5L1486.9 1596.4L1488.1 1603.4L1489.3 1609.7L1490.4 1615.6L1491.6 1619.3L1492.8 1621.3L1494.0 1620.3L1495.2 1618.2L1496.4 1614.8L1497.6 1608.5L1498.7 1600.8L1499.9 1593.2L1501.1 1585.6L1502.3 1578.3L1503.5 1570.9L1504.7 1563.5L1505.9 1556.0L1507.1 1547.5L1508.3 1539.0L1509.4 1530.5L1510.6 1521.9L1511.8 1513.6L1513.0 1506.6L1514.2 1499.6L1515.4 1492.6L1516.6 1485.6L1517.8 1478.6L1519.0 1471.7L1520.1 1464.7L1521.3 1457.8L1522.5 1454.0L1523.7 1451.0L1524.9 1448.1L1526.1 1445.1L1527.3 1443.6L1528.5 1443.3L1529.7 1442.9L1530.8 1442.6L1532.0 1442.2L1533.2 1441.9L1534.4 1441.2L1535.6 1440.5L1536.8 1439.8L1538.0 1439.0L1539.2 1438.3L1540.4 1437.6L1541.6 1437.2L1542.7 1438.2L1543.9 1439.2L1545.1 1440.2L1546.3 1441.2L1547.5 1442.2L1548.7 1443.2L1549.9 1443.6L1551.1 1442.8L1552.3 1442.1L1553.4 1441.3L1554.6 1440.6L1555.8 1439.8L1557.0 1439.1L1558.2 1439.2L1559.4 1439.8L1560.6 1440.3L1561.8 1440.8L1563.0 1441.3L1564.1 1441.9L1565.3 1442.3L1566.5 1441.6L1567.7 1440.9L1568.9 1440.2L1570.1 1439.5L1571.3 1438.9L1572.5 1439.6L1573.7 1440.3L1574.8 1441.0L1576.0 1441.7L1577.2 1444.1L1578.4 1446.7L1579.6 1449.3L1580.8 1451.9L1582.0 1452.7L1583.2 1452.8L1584.4 1453.0L1585.5 1453.1L1586.7 1453.3L1587.9 1453.4L1589.1 1454.2L1590.3 1455.0L1591.5 1455.9L1592.7 1456.7L1593.9 1457.5L1595.1 1458.1L1596.2 1456.8L1597.4 1455.4L1598.6 1454.0L1599.8 1452.7L1601.0 1450.7L1602.2 1448.7L1603.4 1446.6" stroke="#ff5f5f" stroke-width="2.7" stroke-opacity=".92"/><path d="M383.5 1479.1L384.7 1477.2L385.9 1474.9L387.1 1472.6L388.2 1470.5L389.4 1468.8L390.6 1467.3L391.8 1465.8L393.0 1464.2L394.2 1462.6L395.4 1460.4L396.6 1457.4L397.8 1454.0L399.0 1450.5L400.1 1446.7L401.3 1441.8L402.5 1436.6L403.7 1430.9L404.9 1424.3L406.1 1416.9L407.3 1409.6L408.5 1403.1L409.7 1397.7L410.8 1392.7L412.0 1387.6L413.2 1382.1L414.4 1375.8L415.6 1369.2L416.8 1362.6L418.0 1356.7L419.2 1352.0L420.4 1348.0L421.5 1344.3L422.7 1341.7L423.9 1339.9L425.1 1338.2L426.3 1337.3L427.5 1338.2L428.7 1340.6L429.9 1345.2L431.1 1352.2L432.3 1359.4L433.5 1365.2L434.7 1370.2L435.9 1375.3L437.1 1380.3L438.3 1385.3L439.5 1390.3L440.7 1395.2L441.8 1400.1L443.0 1405.0L444.2 1410.0L445.4 1415.0L446.6 1420.3L447.8 1425.8L449.0 1431.2L450.2 1436.7L451.4 1442.6L452.6 1449.2L453.8 1456.2L455.0 1462.6L456.2 1467.5L457.4 1471.6L458.6 1475.5L459.8 1479.4L461.0 1482.8L462.2 1485.3L463.4 1487.1L464.6 1488.8L465.8 1490.5L467.0 1492.3L468.2 1494.0L469.4 1495.6L470.6 1497.2L471.8 1498.7L472.9 1500.2L474.1 1501.7L475.3 1503.1L476.5 1504.2L477.7 1504.7L478.9 1505.1L480.1 1505.5L481.3 1505.8L482.5 1506.2L483.7 1506.6L484.9 1507.0L486.1 1507.3L487.3 1507.7L488.5 1508.1L489.7 1508.5L490.9 1508.9L492.1 1509.3L493.3 1509.7L494.5 1509.9L495.7 1509.9L496.9 1509.7L498.1 1509.6L499.3 1509.5L500.5 1509.4L501.7 1509.3L502.9 1509.2L504.0 1509.0L505.2 1508.5L506.4 1507.4L507.6 1506.0L508.8 1504.5L510.0 1503.1L511.2 1501.7L512.4 1500.2L513.6 1498.8L514.8 1497.4L516.0 1496.0L517.2 1494.6L518.4 1493.2L519.6 1491.8L520.8 1490.4L522.0 1489.1L523.2 1487.7L524.4 1486.5L525.6 1485.4L526.8 1484.4L528.0 1483.6L529.2 1483.0L530.4 1482.5L531.6 1482.0L532.8 1481.5L533.9 1480.9L535.1 1480.3L536.3 1479.1L537.5 1477.2L538.7 1474.9L539.9 1472.6L541.1 1470.5L542.3 1468.8L543.5 1467.3L544.7 1465.8L545.9 1464.2L547.1 1462.6L548.3 1460.4L549.5 1457.4L550.7 1454.0L551.9 1450.5L553.1 1446.7L554.3 1441.8L555.5 1436.6L556.7 1430.9L557.9 1424.3L559.1 1416.9L560.3 1409.6L561.5 1403.1L562.7 1397.7L563.9 1392.7L565.0 1387.6L566.2 1382.1L567.4 1375.8L568.6 1369.2L569.8 1362.6L571.0 1356.7L572.2 1352.0L573.4 1348.0L574.6 1344.3L575.8 1341.7L577.0 1339.9L578.2 1338.2L579.4 1337.3L580.6 1338.2L581.7 1340.6L582.9 1345.2L584.1 1352.2L585.2 1359.4L586.4 1365.2L587.6 1370.2L588.8 1375.3L589.9 1380.3L591.1 1385.3L592.3 1390.3L593.4 1395.2L594.6 1400.1L595.8 1405.0L596.9 1410.0L598.1 1415.0L599.3 1420.3L600.5 1425.8L601.6 1431.2L602.8 1436.7L604.0 1442.6L605.1 1449.2L606.3 1456.2L607.5 1462.6L608.6 1467.5L609.8 1471.6L611.0 1475.5L612.1 1479.4L613.3 1482.8L614.5 1485.3L615.7 1487.1L616.8 1488.8L618.0 1490.5L619.2 1492.3L620.3 1494.0L621.5 1495.6L622.7 1497.2L623.8 1498.7L625.0 1500.2L626.2 1501.7L627.4 1503.1L628.5 1504.2L629.7 1504.7L630.9 1505.1L632.0 1505.5L633.2 1505.8L634.4 1506.2L635.5 1506.6L636.7 1507.0L637.9 1507.3L639.0 1507.7L640.2 1508.1L641.4 1508.5L642.6 1508.9L643.7 1509.3L644.9 1509.7L646.1 1509.9L647.2 1509.9L648.4 1509.7L649.6 1509.6L650.7 1509.5L651.9 1509.4L653.1 1509.3L654.2 1509.2L655.4 1509.0L656.6 1508.5L657.8 1507.4L658.9 1506.0L660.1 1504.5L661.3 1503.1L662.4 1501.7L663.6 1500.2L664.8 1498.8L665.9 1497.4L667.1 1496.0L668.3 1494.6L669.5 1493.2L670.6 1491.8L671.8 1490.4L673.0 1489.1L674.1 1487.7L675.3 1486.5L676.5 1485.4L677.6 1484.4L678.8 1483.6L680.0 1483.0L681.1 1482.5L682.3 1482.0L683.5 1481.5L684.7 1480.9L685.8 1480.3L687.0 1479.1L688.2 1477.2L689.3 1474.9L690.5 1472.6L691.7 1470.5L692.8 1468.8L694.0 1467.3L695.2 1465.8L696.4 1464.2L697.5 1462.6L698.7 1460.4L699.9 1457.4L701.0 1454.0L702.2 1450.5L703.4 1446.7L704.5 1441.8L705.7 1436.6L706.9 1430.9L708.0 1424.3L709.2 1416.9L710.4 1409.6L711.6 1403.1L712.7 1397.7L713.9 1392.7L715.1 1387.6L716.2 1382.1L717.4 1375.8L718.6 1369.2L719.7 1362.6L720.9 1356.7L722.1 1352.0L723.3 1348.0L724.4 1344.3L725.6 1341.7L726.8 1339.9L727.9 1338.2L729.1 1337.3L730.3 1338.2L731.5 1340.6L732.7 1345.2L733.9 1352.2L735.1 1359.4L736.3 1365.2L737.5 1370.2L738.7 1375.3L739.9 1380.3L741.1 1385.3L742.4 1390.3L743.6 1395.2L744.8 1400.1L746.0 1405.0L747.2 1410.0L748.4 1415.0L749.6 1420.3L750.8 1425.8L752.0 1431.2L753.2 1436.7L754.4 1442.6L755.6 1449.2L756.8 1456.2L758.0 1462.6L759.2 1467.5L760.4 1471.6L761.6 1475.5L762.8 1479.4L764.0 1482.8L765.2 1485.3L766.4 1487.1L767.6 1488.8L768.9 1490.5L770.1 1492.3L771.3 1494.0L772.5 1495.6L773.7 1497.2L774.9 1498.7L776.1 1500.2L777.3 1501.7L778.5 1503.1L779.7 1504.2L780.9 1504.7L782.1 1505.1L783.3 1505.5L784.5 1505.8L785.7 1506.2L786.9 1506.6L788.1 1507.0L789.3 1507.3L790.5 1507.7L791.7 1508.1L792.9 1508.5L794.2 1508.9L795.4 1509.3L796.6 1509.7L797.8 1509.9L799.0 1509.9L800.2 1509.7L801.4 1509.6L802.6 1509.5L803.8 1509.4L805.0 1509.3L806.2 1509.2L807.4 1509.0L808.6 1508.5L809.8 1507.4L811.0 1506.0L812.2 1504.5L813.4 1503.1L814.6 1501.7L815.8 1500.2L817.0 1498.8L818.2 1497.4L819.5 1496.0L820.7 1494.6L821.9 1493.2L823.1 1491.8L824.3 1490.4L825.5 1489.1L826.7 1487.7L827.9 1486.5L829.1 1485.4L830.3 1484.4L831.5 1483.6L832.7 1483.0L833.9 1482.5L835.1 1482.0L836.3 1481.5L837.5 1480.9L838.7 1480.3L839.9 1479.1L841.1 1477.2L842.3 1474.9L843.5 1472.6L844.8 1470.5L846.0 1468.8L847.2 1467.3L848.4 1465.8L849.6 1464.2L850.8 1462.6L852.0 1460.4L853.2 1457.4L854.4 1454.0L855.6 1450.5L856.8 1446.7L858.0 1441.8L859.2 1436.6L860.4 1430.9L861.6 1424.3L862.8 1416.9L864.0 1409.6L865.2 1403.1L866.4 1397.7L867.6 1392.7L868.8 1387.6L870.0 1382.1L871.3 1375.8L872.5 1369.2L873.7 1362.6L874.9 1356.7L876.1 1352.0L877.3 1348.0L878.5 1344.3L879.7 1341.7L880.9 1339.9L882.1 1338.2L883.3 1337.3L884.5 1338.2L885.7 1340.6L886.8 1345.2L888.0 1352.2L889.2 1359.4L890.4 1365.2L891.6 1370.2L892.8 1375.3L893.9 1380.3L895.1 1385.3L896.3 1390.3L897.5 1395.2L898.7 1400.1L899.8 1405.0L901.0 1410.0L902.2 1415.0L903.4 1420.3L904.6 1425.8L905.7 1431.2L906.9 1436.7L908.1 1442.6L909.3 1449.2L910.5 1456.2L911.6 1462.6L912.8 1467.5L914.0 1471.6L915.2 1475.5L916.4 1479.4L917.6 1482.8L918.7 1485.3L919.9 1487.1L921.1 1488.8L922.3 1490.5L923.5 1492.3L924.6 1494.0L925.8 1495.6L927.0 1497.2L928.2 1498.7L929.4 1500.2L930.5 1501.7L931.7 1503.1L932.9 1504.2L934.1 1504.7L935.3 1505.1L936.5 1505.5L937.6 1505.8L938.8 1506.2L940.0 1506.6L941.2 1507.0L942.4 1507.3L943.5 1507.7L944.7 1508.1L945.9 1508.5L947.1 1508.9L948.3 1509.3L949.4 1509.7L950.6 1509.9L951.8 1509.9L953.0 1509.7L954.2 1509.6L955.4 1509.5L956.5 1509.4L957.7 1509.3L958.9 1509.2L960.1 1509.0L961.3 1508.5L962.4 1507.4L963.6 1506.0L964.8 1504.5L966.0 1503.1L967.2 1501.7L968.4 1500.2L969.5 1498.8L970.7 1497.4L971.9 1496.0L973.1 1494.6L974.3 1493.2L975.4 1491.8L976.6 1490.4L977.8 1489.1L979.0 1487.7L980.2 1486.5L981.3 1485.4L982.5 1484.4L983.7 1483.6L984.9 1483.0L986.1 1482.5L987.2 1482.0L988.4 1481.5L989.6 1480.9L990.8 1480.3L992.0 1479.1L993.2 1477.2L994.3 1474.9L995.5 1472.6L996.7 1470.5L997.9 1468.8L999.1 1467.3L1000.2 1465.8L1001.4 1464.2L1002.6 1462.6L1003.8 1460.4L1005.0 1457.4L1006.1 1454.0L1007.3 1450.5L1008.5 1446.7L1009.7 1441.8L1010.9 1436.6L1012.1 1430.9L1013.2 1424.3L1014.4 1416.9L1015.6 1409.6L1016.8 1403.1L1018.0 1397.7L1019.1 1392.7L1020.3 1387.6L1021.5 1382.1L1022.7 1375.8L1023.9 1369.2L1025.0 1362.6L1026.2 1356.7L1027.4 1352.0L1028.6 1348.0L1029.8 1344.3L1031.0 1341.7L1032.1 1339.9L1033.3 1338.2L1034.5 1337.3L1035.7 1338.2L1036.9 1340.6L1038.1 1345.2L1039.3 1352.2L1040.4 1359.4L1041.6 1365.2L1042.8 1370.2L1044.0 1375.3L1045.2 1380.3L1046.4 1385.3L1047.6 1390.3L1048.8 1395.2L1050.0 1400.1L1051.2 1405.0L1052.3 1410.0L1053.5 1415.0L1054.7 1420.3L1055.9 1425.8L1057.1 1431.2L1058.3 1436.7L1059.5 1442.6L1060.7 1449.2L1061.9 1456.2L1063.1 1462.6L1064.2 1467.5L1065.4 1471.6L1066.6 1475.5L1067.8 1479.4L1069.0 1482.8L1070.2 1485.3L1071.4 1487.1L1072.6 1488.8L1073.8 1490.5L1075.0 1492.3L1076.1 1494.0L1077.3 1495.6L1078.5 1497.2L1079.7 1498.7L1080.9 1500.2L1082.1 1501.7L1083.3 1503.1L1084.5 1504.2L1085.7 1504.7L1086.9 1505.1L1088.0 1505.5L1089.2 1505.8L1090.4 1506.2L1091.6 1506.6L1092.8 1507.0L1094.0 1507.3L1095.2 1507.7L1096.4 1508.1L1097.6 1508.5L1098.8 1508.9L1099.9 1509.3L1101.1 1509.7L1102.3 1509.9L1103.5 1509.9L1104.7 1509.7L1105.9 1509.6L1107.1 1509.5L1108.3 1509.4L1109.5 1509.3L1110.7 1509.2L1111.8 1509.0L1113.0 1508.5L1114.2 1507.4L1115.4 1506.0L1116.6 1504.5L1117.8 1503.1L1119.0 1501.7L1120.2 1500.2L1121.4 1498.8L1122.5 1497.4L1123.7 1496.0L1124.9 1494.6L1126.1 1493.2L1127.3 1491.8L1128.5 1490.4L1129.7 1489.1L1130.9 1487.7L1132.1 1486.5L1133.3 1485.4L1134.4 1484.4L1135.6 1483.6L1136.8 1483.0L1138.0 1482.5L1139.2 1482.0L1140.4 1481.5L1141.6 1480.9L1142.8 1480.3L1144.0 1479.1L1145.2 1477.2L1146.3 1474.9L1147.5 1472.6L1148.7 1470.5L1149.9 1468.8L1151.1 1467.3L1152.3 1465.8L1153.5 1464.2L1154.7 1462.6L1155.9 1460.4L1157.1 1457.4L1158.2 1454.0L1159.4 1450.5L1160.6 1446.7L1161.8 1441.8L1163.0 1436.6L1164.2 1430.9L1165.4 1424.3L1166.6 1416.9L1167.8 1409.6L1169.0 1403.1L1170.1 1397.7L1171.3 1392.7L1172.5 1387.6L1173.7 1382.1L1174.9 1375.8L1176.1 1369.2L1177.3 1362.6L1178.5 1356.7L1179.7 1352.0L1180.9 1348.0L1182.0 1344.3L1183.2 1341.7L1184.4 1339.9L1185.6 1338.2L1186.8 1337.3L1188.0 1338.2L1189.2 1340.6L1190.4 1345.2L1191.6 1352.2L1192.8 1359.4L1194.0 1365.2L1195.2 1370.2L1196.4 1375.3L1197.6 1380.3L1198.8 1385.3L1200.1 1390.3L1201.3 1395.2L1202.5 1400.1L1203.7 1405.0L1204.9 1410.0L1206.1 1415.0L1207.3 1420.3L1208.5 1425.8L1209.7 1431.2L1210.9 1436.7L1212.1 1442.6L1213.3 1449.2L1214.5 1456.2L1215.7 1462.6L1216.9 1467.5L1218.1 1471.6L1219.3 1475.5L1220.5 1479.4L1221.7 1482.8L1222.9 1485.3L1224.1 1487.1L1225.3 1488.8L1226.6 1490.5L1227.8 1492.3L1229.0 1494.0L1230.2 1495.6L1231.4 1497.2L1232.6 1498.7L1233.8 1500.2L1235.0 1501.7L1236.2 1503.1L1237.4 1504.2L1238.6 1504.7L1239.8 1505.1L1241.0 1505.5L1242.2 1505.8L1243.4 1506.2L1244.6 1506.6L1245.8 1507.0L1247.0 1507.3L1248.2 1507.7L1249.4 1508.1L1250.6 1508.5L1251.9 1508.9L1253.1 1509.3L1254.3 1509.7L1255.5 1509.9L1256.7 1509.9L1257.9 1509.7L1259.1 1509.6L1260.3 1509.5L1261.5 1509.4L1262.7 1509.3L1263.9 1509.2L1265.1 1509.0L1266.3 1508.5L1267.5 1507.4L1268.7 1506.0L1269.9 1504.5L1271.1 1503.1L1272.3 1501.7L1273.5 1500.2L1274.7 1498.8L1275.9 1497.4L1277.2 1496.0L1278.4 1494.6L1279.6 1493.2L1280.8 1491.8L1282.0 1490.4L1283.2 1489.1L1284.4 1487.7L1285.6 1486.5L1286.8 1485.4L1288.0 1484.4L1289.2 1483.6L1290.4 1483.0L1291.6 1482.5L1292.8 1482.0L1294.0 1481.5L1295.2 1480.9L1296.4 1480.3L1297.6 1479.1L1298.8 1477.2L1300.0 1474.9L1301.2 1472.6L1302.5 1470.5L1303.7 1468.8L1304.9 1467.3L1306.1 1465.8L1307.3 1464.2L1308.5 1462.6L1309.7 1460.4L1310.9 1457.4L1312.1 1454.0L1313.3 1450.5L1314.5 1446.7L1315.7 1441.8L1316.9 1436.6L1318.1 1430.9L1319.3 1424.3L1320.5 1416.9L1321.7 1409.6L1322.9 1403.1L1324.1 1397.7L1325.3 1392.7L1326.5 1387.6L1327.7 1382.1L1329.0 1375.8L1330.2 1369.2L1331.4 1362.6L1332.6 1356.7L1333.8 1352.0L1335.0 1348.0L1336.2 1344.3L1337.4 1341.7L1338.6 1339.9L1339.8 1338.2L1341.0 1337.3L1342.2 1338.2L1343.4 1340.6L1344.5 1345.2L1345.7 1352.2L1346.9 1359.4L1348.1 1365.2L1349.3 1370.2L1350.4 1375.3L1351.6 1380.3L1352.8 1385.3L1354.0 1390.3L1355.2 1395.2L1356.3 1400.1L1357.5 1405.0L1358.7 1410.0L1359.9 1415.0L1361.1 1420.3L1362.2 1425.8L1363.4 1431.2L1364.6 1436.7L1365.8 1442.6L1367.0 1449.2L1368.1 1456.2L1369.3 1462.6L1370.5 1467.5L1371.7 1471.6L1372.9 1475.5L1374.0 1479.4L1375.2 1482.8L1376.4 1485.3L1377.6 1487.1L1378.8 1488.8L1379.9 1490.5L1381.1 1492.3L1382.3 1494.0L1383.5 1495.6L1384.6 1497.2L1385.8 1498.7L1387.0 1500.2L1388.2 1501.7L1389.4 1503.1L1390.5 1504.2L1391.7 1504.7L1392.9 1505.1L1394.1 1505.5L1395.3 1505.8L1396.4 1506.2L1397.6 1506.6L1398.8 1507.0L1400.0 1507.3L1401.2 1507.7L1402.3 1508.1L1403.5 1508.5L1404.7 1508.9L1405.9 1509.3L1407.1 1509.7L1408.2 1509.9L1409.4 1509.9L1410.6 1509.7L1411.8 1509.6L1413.0 1509.5L1414.1 1509.4L1415.3 1509.3L1416.5 1509.2L1417.7 1509.0L1418.9 1508.5L1420.0 1507.4L1421.2 1506.0L1422.4 1504.5L1423.6 1503.1L1424.8 1501.7L1425.9 1500.2L1427.1 1498.8L1428.3 1497.4L1429.5 1496.0L1430.7 1494.6L1431.8 1493.2L1433.0 1491.8L1434.2 1490.4L1435.4 1489.1L1436.6 1487.7L1437.7 1486.5L1438.9 1485.4L1440.1 1484.4L1441.3 1483.6L1442.5 1483.0L1443.6 1482.5L1444.8 1482.0L1446.0 1481.5L1447.2 1480.9L1448.4 1480.3L1449.5 1479.1L1450.7 1477.2L1451.9 1474.9L1453.1 1472.6L1454.2 1470.5L1455.4 1468.8L1456.6 1467.3L1457.8 1465.8L1459.0 1464.2L1460.1 1462.6L1461.3 1460.4L1462.5 1457.4L1463.7 1454.0L1464.9 1450.5L1466.0 1446.7L1467.2 1441.8L1468.4 1436.6L1469.6 1430.9L1470.8 1424.3L1471.9 1416.9L1473.1 1409.6L1474.3 1403.1L1475.5 1397.7L1476.7 1392.7L1477.8 1387.6L1479.0 1382.1L1480.2 1375.8L1481.4 1369.2L1482.6 1362.6L1483.7 1356.7L1484.9 1352.0L1486.1 1348.0L1487.3 1344.3L1488.5 1341.7L1489.6 1339.9L1490.8 1338.2L1492.0 1337.3L1493.2 1338.2L1494.4 1340.6L1495.6 1345.2L1496.8 1352.2L1497.9 1359.4L1499.1 1365.2L1500.3 1370.2L1501.5 1375.3L1502.7 1380.3L1503.9 1385.3L1505.1 1390.3L1506.3 1395.2L1507.5 1400.1L1508.6 1405.0L1509.8 1410.0L1511.0 1415.0L1512.2 1420.3L1513.4 1425.8L1514.6 1431.2L1515.8 1436.7L1517.0 1442.6L1518.2 1449.2L1519.3 1456.2L1520.5 1462.6L1521.7 1467.5L1522.9 1471.6L1524.1 1475.5L1525.3 1479.4L1526.5 1482.8L1527.7 1485.3L1528.9 1487.1L1530.0 1488.8L1531.2 1490.5L1532.4 1492.3L1533.6 1494.0L1534.8 1495.6L1536.0 1497.2L1537.2 1498.7L1538.4 1500.2L1539.6 1501.7L1540.8 1503.1L1541.9 1504.2L1543.1 1504.7L1544.3 1505.1L1545.5 1505.5L1546.7 1505.8L1547.9 1506.2L1549.1 1506.6L1550.3 1507.0L1551.5 1507.3L1552.6 1507.7L1553.8 1508.1L1555.0 1508.5L1556.2 1508.9L1557.4 1509.3L1558.6 1509.7L1559.8 1509.9L1561.0 1509.9L1562.2 1509.7L1563.3 1509.6L1564.5 1509.5L1565.7 1509.4L1566.9 1509.3L1568.1 1509.2L1569.3 1509.0L1570.5 1508.5L1571.7 1507.4L1572.9 1506.0L1574.0 1504.5L1575.2 1503.1L1576.4 1501.7L1577.6 1500.2L1578.8 1498.8L1580.0 1497.4L1581.2 1496.0L1582.4 1494.6L1583.6 1493.2L1584.7 1491.8L1585.9 1490.4L1587.1 1489.1L1588.3 1487.7L1589.5 1486.5L1590.7 1485.4L1591.9 1484.4L1593.1 1483.6L1594.3 1483.0L1595.4 1482.5L1596.6 1482.0L1597.8 1481.5L1599.0 1480.9L1600.2 1480.3L1601.4 1479.1L1602.6 1477.2L1603.8 1474.9" stroke="#35a3da" stroke-width="2.9" stroke-opacity=".95"/></g>
<path d="M506.6 1663.4v-11.5M506.6 1336.1v11M628.6 1663.4v-11.5M628.6 1336.1v11M750.6 1663.4v-11.5M750.6 1336.1v11M872.6 1663.4v-11.5M872.6 1336.1v11M994.6 1663.4v-11.5M994.6 1336.1v11M1116.6 1663.4v-11.5M1116.6 1336.1v11M1238.6 1663.4v-11.5M1238.6 1336.1v11M1360.6 1663.4v-11.5M1360.6 1336.1v11M1482.6 1663.4v-11.5M1482.6 1336.1v11M385.6 1417.6h13M1601.5 1417.6h-12M385.6 1499.3h13M1601.5 1499.3h-12M385.6 1581.7h13M1601.5 1581.7h-12" stroke="#8e8e8e" stroke-width="2.6" fill="none"/>
<rect x="385.6" y="1336.1" width="1215.9" height="327.3" fill="none" stroke="#808080" stroke-width="3.4"/>
<g filter="url(#soft)">
<text transform="translate(109.0 527.0) scale(1.0500 0.9928) rotate(-90)">Round Trips</text>
<text transform="translate(145.9 156.1) scale(1.0302 1.0644)">10000</text>
<text transform="translate(181.2 324.4) scale(1.0298 1.0898)">5000</text>
<text transform="translate(247.9 493.5) scale(1.0579 1.0576)">0</text>
<text transform="translate(411.7 177.2) scale(1.0135 1.0012)">(a)</text>
<text transform="translate(1688.4 196.8) scale(1.0228 1.0593)">0.02</text>
<text transform="translate(1688.6 430.4) scale(1.0206 1.0763)">0.005</text>
<text transform="translate(1946.7 86.0) scale(1.0400 1.0042) rotate(90)">Power (W)</text>
<text transform="translate(109.0 1133.0) scale(1.0500 0.9928) rotate(-90)">Round Trips</text>
<text transform="translate(145.9 764.9) scale(1.0302 1.0678)">10000</text>
<text transform="translate(181.2 933.4) scale(1.0298 1.0712)">5000</text>
<text transform="translate(247.9 1080.7) scale(1.0579 1.0508)">0</text>
<text transform="translate(411.7 789.4) scale(1.0198 0.9877)">(b)</text>
<text transform="translate(1688.5 789.5) scale(1.0128 1.0559)">0.016</text>
<text transform="translate(1688.4 1022.9) scale(1.0180 1.0712)">0.005</text>
<text transform="translate(1946.7 677.0) scale(1.0400 1.0081) rotate(90)">Power (W)</text>
<text transform="translate(410.9 1408.9) scale(1.0341 0.9963)">(c)</text>
<text transform="translate(1649.3 1448.7) scale(1.0195 1.0559)">0.02</text>
<text transform="translate(1650.1 1643.2) scale(1.0222 1.0441)">0.005</text>
<text transform="translate(1894.6 1326.0) scale(1.0200 1.0049) rotate(90)">Power (W)</text>
<text transform="translate(358.1 1754.7) scale(1.0119 1.0373)">-1</text>
<text transform="translate(970.8 1755.8) scale(1.0605 1.0576)">0</text>
<text transform="translate(1566.7 1754.9) scale(1.0455 1.0339)">1</text>
<text transform="translate(812.1 1857.0) scale(1.0117 1.0200)">Time (ns)</text>
</g>
</svg>
</body></html>
